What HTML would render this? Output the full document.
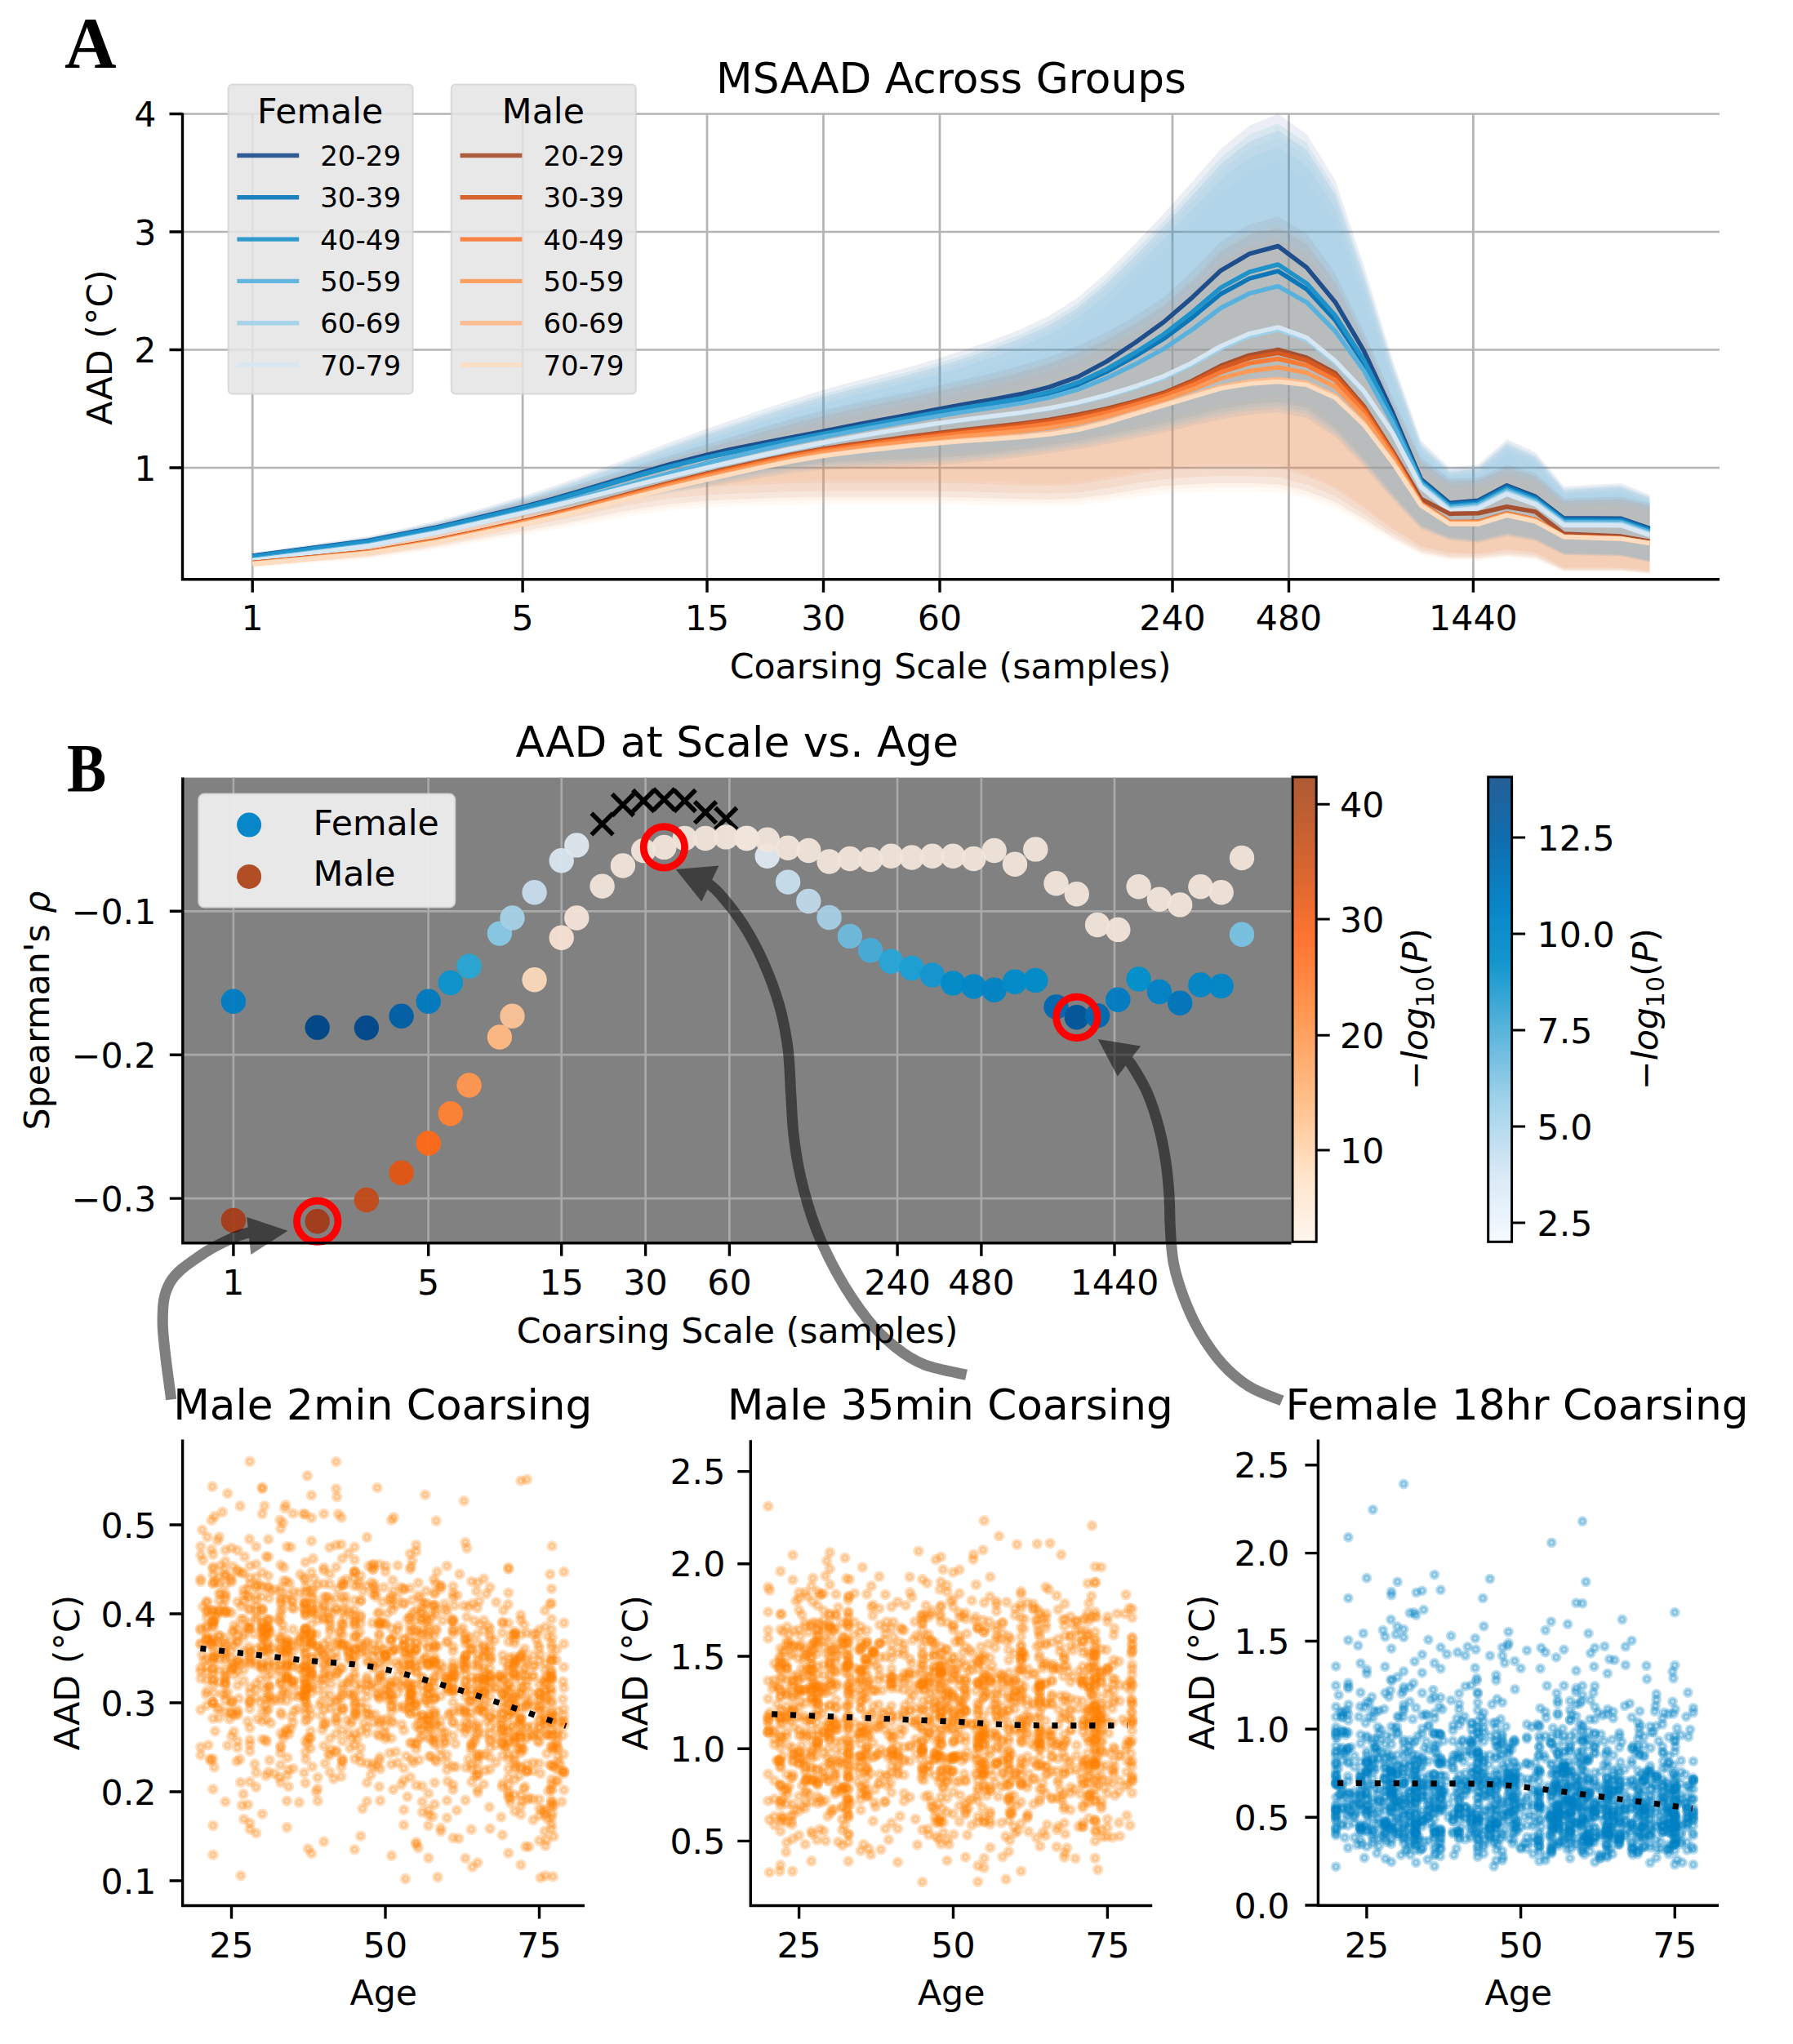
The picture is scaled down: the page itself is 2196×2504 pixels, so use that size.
<!DOCTYPE html>
<html><head><meta charset="utf-8"><title>Figure</title><style>html,body{margin:0;padding:0;background:#fff}svg{display:block}#w{width:2196px;height:2504px;overflow:hidden}</style></head><body><div id="w">
<svg width="2196" height="2504" viewBox="0 0 2196 2504">
<defs>
<clipPath id="ca"><rect x="223.5" y="139.5" width="1882.5" height="570.2"/></clipPath>
<linearGradient id="go" x1="0" y1="1" x2="0" y2="0"><stop offset="0" stop-color="#fff6ee"/><stop offset=".15" stop-color="#ffe3c8"/><stop offset=".3" stop-color="#ffc08a"/><stop offset=".5" stop-color="#ff9650"/><stop offset=".65" stop-color="#ff7432"/><stop offset=".8" stop-color="#d9652f"/><stop offset="1" stop-color="#ad5a34"/></linearGradient>
<linearGradient id="gb" x1="0" y1="1" x2="0" y2="0"><stop offset="0" stop-color="#f5faff"/><stop offset=".15" stop-color="#d7e8f5"/><stop offset=".3" stop-color="#a2d3eb"/><stop offset=".45" stop-color="#5cb5dc"/><stop offset=".6" stop-color="#1496cd"/><stop offset=".72" stop-color="#0a86c8"/><stop offset=".86" stop-color="#0f6eaf"/><stop offset="1" stop-color="#245f96"/></linearGradient>
<marker id="mo" markerWidth="16" markerHeight="16" refX="8" refY="8" markerUnits="userSpaceOnUse"><circle cx="8" cy="8" r="4.3" fill="#ff7f00" fill-opacity=".25" stroke="#ff7f00" stroke-opacity=".25" stroke-width="5"/></marker>
<marker id="mb" markerWidth="16" markerHeight="16" refX="8" refY="8" markerUnits="userSpaceOnUse"><circle cx="8" cy="8" r="4.1" fill="#0080c4" fill-opacity=".27" stroke="#0080c4" stroke-opacity=".27" stroke-width="4.6"/></marker>
</defs>
<rect width="2196" height="2504" fill="#fff"/>
<g font-family='"DejaVu Sans","Liberation Sans",sans-serif' font-size="42.7" fill="#000">
<path d="M309.2 139.5V709.7M640.1 139.5V709.7M866 139.5V709.7M1008.5 139.5V709.7M1151 139.5V709.7M1436 139.5V709.7M1578.5 139.5V709.7M1804.4 139.5V709.7M223.5 573H2106M223.5 428.5H2106M223.5 284H2106M223.5 139.5H2106" stroke="#b4b4b4" stroke-width="2.7" fill="none"/>
<g clip-path="url(#ca)">
<path d="M309.2 678.2L451.7 659L535.1 641.1L594.2 625.6L640.1 613.2L677.6 602.6L709.3 593.1L760.9 576.9L782.6 570L820.1 558.1L866 544.1L891.7 536.4L935.1 523.3L970.2 513.1L1005.2 503.7L1040.2 495.5L1075.2 488.1L1110.2 480.9L1145.2 473.2L1180.2 465L1215.2 456.9L1250.3 447.8L1285.3 437.1L1320.3 423.7L1355.3 407L1390.3 387.1L1425.3 363.9L1460.3 332.3L1495.3 295.4L1530.4 274.7L1565.4 265.3L1600.4 285.9L1635.4 334.4L1670.4 405.7L1705.4 486L1740.4 561L1775.4 586L1810.5 584.9L1845.5 569.3L1880.5 579.4L1915.5 610.6L1950.5 609.4L1985.5 608.5L2020.5 616.3L2020.5 702.1L1985.5 698.8L1950.5 698.7L1915.5 698.7L1880.5 683L1845.5 680L1810.5 684L1775.4 683.3L1740.4 676.5L1705.4 657.7L1670.4 635.8L1635.4 614.9L1600.4 601.6L1565.4 593.3L1530.4 592.1L1495.3 591.8L1460.3 593.2L1425.3 595.5L1390.3 600.2L1355.3 606L1320.3 610.7L1285.3 612L1250.3 611.4L1215.2 610.4L1180.2 609.4L1145.2 609.1L1110.2 609.1L1075.2 609.1L1040.2 609.1L1005.2 609.1L970.2 609.5L935.1 610.5L891.7 612.2L866 613.5L820.1 617.6L782.6 623.3L760.9 627.1L709.3 637.4L677.6 643.7L640.1 650.5L594.2 658.6L535.1 669.6L451.7 682.1L309.2 693.7Z" fill="#a65030" fill-opacity=".09"/>
<path d="M309.2 679.4L451.7 660.7L535.1 643.4L594.2 628.4L640.1 616.3L677.6 606L709.3 596.8L760.9 581.1L782.6 574.4L820.1 562.9L866 549.3L891.7 541.8L935.1 529.1L970.2 519.2L1005.2 510.2L1040.2 502.2L1075.2 495L1110.2 488L1145.2 480.5L1180.2 472.6L1215.2 464.7L1250.3 455.9L1285.3 445.5L1320.3 432.6L1355.3 416.4L1390.3 397L1425.3 374.5L1460.3 343.8L1495.3 308.1L1530.4 288L1565.4 278.9L1600.4 298.9L1635.4 345.9L1670.4 415.1L1705.4 492.9L1740.4 565.7L1775.4 589.9L1810.5 588.8L1845.5 573.8L1880.5 583.5L1915.5 613.8L1950.5 612.6L1985.5 611.8L2020.5 619.3L2020.5 701.1L1985.5 697.4L1950.5 697.4L1915.5 697.4L1880.5 680.6L1845.5 677.3L1810.5 681.6L1775.4 680.9L1740.4 673.6L1705.4 653.6L1670.4 630.1L1635.4 607.8L1600.4 593.4L1565.4 584.7L1530.4 583.3L1495.3 583L1460.3 584.5L1425.3 587L1390.3 592L1355.3 598.2L1320.3 603.2L1285.3 604.6L1250.3 603.9L1215.2 602.9L1180.2 601.9L1145.2 601.5L1110.2 601.5L1075.2 601.5L1040.2 601.5L1005.2 601.5L970.2 602L935.1 603L891.7 604.9L866 606.2L820.1 610.6L782.6 616.7L760.9 620.8L709.3 631.8L677.6 638.5L640.1 645.8L594.2 654.5L535.1 666.3L451.7 679.6L309.2 692Z" fill="#d6591f" fill-opacity=".09"/>
<path d="M309.2 677L451.7 656.8L535.1 638L594.2 621.4L640.1 607.7L677.6 595.5L709.3 584.3L760.9 564.7L782.6 556.4L820.1 542L866 525.3L891.7 516.3L935.1 501.3L970.2 489.7L1005.2 478.6L1040.2 468.7L1075.2 459.7L1110.2 450.6L1145.2 440.5L1180.2 429.1L1215.2 417.1L1250.3 403.3L1285.3 386.7L1320.3 364.5L1355.3 334.1L1390.3 298.8L1425.3 261.8L1460.3 222.4L1495.3 182.3L1530.4 153.7L1565.4 139.6L1600.4 164.4L1635.4 221L1670.4 325L1705.4 439.6L1740.4 539.2L1775.4 573L1810.5 568.9L1845.5 538L1880.5 553.7L1915.5 596.1L1950.5 593.7L1985.5 591.9L2020.5 606.1L2020.5 686.8L1985.5 679.4L1950.5 678.5L1915.5 677.8L1880.5 659.7L1845.5 653.2L1810.5 661.7L1775.4 658.4L1740.4 643.8L1705.4 605.1L1670.4 562.7L1635.4 524.4L1600.4 499.6L1565.4 492.4L1530.4 495.2L1495.3 501.1L1460.3 509.9L1425.3 518.5L1390.3 526.2L1355.3 533.6L1320.3 540.2L1285.3 545.6L1250.3 550.4L1215.2 554.7L1180.2 558.3L1145.2 560.8L1110.2 562.4L1075.2 563.6L1040.2 564.9L1005.2 566.9L970.2 570.9L935.1 576.7L891.7 585L866 589.6L820.1 597.3L782.6 603.6L760.9 607.3L709.3 616.2L677.6 621.9L640.1 628.7L594.2 637.7L535.1 650.1L451.7 665.4L309.2 683Z" fill="#1f4e8c" fill-opacity=".09"/>
<path d="M309.2 680.6L451.7 662.5L535.1 645.7L594.2 631.1L640.1 619.4L677.6 609.5L709.3 600.5L760.9 585.3L782.6 578.8L820.1 567.7L866 554.5L891.7 547.2L935.1 534.9L970.2 525.4L1005.2 516.6L1040.2 508.9L1075.2 501.9L1110.2 495.1L1145.2 487.9L1180.2 480.2L1215.2 472.5L1250.3 464L1285.3 454L1320.3 441.4L1355.3 425.7L1390.3 406.9L1425.3 385.1L1460.3 355.4L1495.3 320.7L1530.4 301.3L1565.4 292.4L1600.4 311.8L1635.4 357.4L1670.4 424.4L1705.4 499.8L1740.4 570.4L1775.4 593.9L1810.5 592.8L1845.5 578.2L1880.5 587.7L1915.5 617L1950.5 615.9L1985.5 615L2020.5 622.3L2020.5 699.7L1985.5 695.8L1950.5 695.7L1915.5 695.7L1880.5 677.5L1845.5 673.9L1810.5 678.6L1775.4 677.8L1740.4 669.9L1705.4 648.2L1670.4 622.7L1635.4 598.5L1600.4 583L1565.4 573.5L1530.4 572L1495.3 571.7L1460.3 573.3L1425.3 576L1390.3 581.4L1355.3 588.1L1320.3 593.6L1285.3 595.1L1250.3 594.4L1215.2 593.2L1180.2 592.2L1145.2 591.8L1110.2 591.8L1075.2 591.8L1040.2 591.8L1005.2 591.8L970.2 592.3L935.1 593.4L891.7 595.4L866 596.8L820.1 601.6L782.6 608.2L760.9 612.7L709.3 624.5L677.6 631.8L640.1 639.7L594.2 649.2L535.1 662L451.7 676.4L309.2 689.8Z" fill="#f87a35" fill-opacity=".09"/>
<path d="M309.2 678.5L451.7 658.9L535.1 640.8L594.2 624.8L640.1 611.5L677.6 599.8L709.3 588.9L760.9 570.1L782.6 562L820.1 548.2L866 532L891.7 523.4L935.1 508.9L970.2 497.6L1005.2 487L1040.2 477.4L1075.2 468.7L1110.2 459.9L1145.2 450.1L1180.2 439.2L1215.2 427.6L1250.3 414.3L1285.3 398.3L1320.3 376.8L1355.3 347.5L1390.3 313.4L1425.3 277.8L1460.3 239.7L1495.3 201L1530.4 173.4L1565.4 159.8L1600.4 183.7L1635.4 238.4L1670.4 338.7L1705.4 449.3L1740.4 545.5L1775.4 578.1L1810.5 574.1L1845.5 544.3L1880.5 559.4L1915.5 600.4L1950.5 598L1985.5 596.3L2020.5 610L2020.5 688.5L1985.5 681.6L1950.5 680.7L1915.5 680L1880.5 663L1845.5 656.9L1810.5 664.9L1775.4 661.8L1740.4 647.9L1705.4 611.4L1670.4 571.5L1635.4 535.3L1600.4 512L1565.4 505.1L1530.4 507.8L1495.3 513.4L1460.3 521.6L1425.3 529.7L1390.3 537L1355.3 544L1320.3 550.2L1285.3 555.3L1250.3 559.9L1215.2 563.9L1180.2 567.3L1145.2 569.7L1110.2 571.2L1075.2 572.3L1040.2 573.5L1005.2 575.4L970.2 579.2L935.1 584.7L891.7 592.5L866 596.8L820.1 604.1L782.6 610L760.9 613.5L709.3 622L677.6 627.3L640.1 633.7L594.2 642.2L535.1 653.9L451.7 668.4L309.2 685Z" fill="#0b77b8" fill-opacity=".09"/>
<path d="M309.2 679L451.7 660.1L535.1 642.7L594.2 627.5L640.1 615.3L677.6 604.9L709.3 595.6L760.9 579.7L782.6 572.9L820.1 561.3L866 547.6L891.7 540L935.1 527.2L970.2 517.2L1005.2 508L1040.2 500L1075.2 492.7L1110.2 485.6L1145.2 478.1L1180.2 470.1L1215.2 462.1L1250.3 453.2L1285.3 442.7L1320.3 429.6L1355.3 413.2L1390.3 393.7L1425.3 371L1460.3 340L1495.3 303.8L1530.4 283.5L1565.4 274.3L1600.4 294.5L1635.4 342.1L1670.4 412L1705.4 490.6L1740.4 564.2L1775.4 588.6L1810.5 587.5L1845.5 572.3L1880.5 582.2L1915.5 612.7L1950.5 611.5L1985.5 610.7L2020.5 618.3L2020.5 699.2L1985.5 695.2L1950.5 695.1L1915.5 695.1L1880.5 676.5L1845.5 672.8L1810.5 677.6L1775.4 676.8L1740.4 668.7L1705.4 646.4L1670.4 620.3L1635.4 595.5L1600.4 579.5L1565.4 569.8L1530.4 568.3L1495.3 567.9L1460.3 569.6L1425.3 572.3L1390.3 577.9L1355.3 584.8L1320.3 590.4L1285.3 591.9L1250.3 591.2L1215.2 590L1180.2 588.9L1145.2 588.5L1110.2 588.5L1075.2 588.5L1040.2 588.5L1005.2 588.5L970.2 589L935.1 590.2L891.7 592.2L866 593.7L820.1 598.6L782.6 605.3L760.9 610L709.3 622.1L677.6 629.6L640.1 637.7L594.2 647.4L535.1 660.5L451.7 675.4L309.2 689.1Z" fill="#fd9a57" fill-opacity=".09"/>
<path d="M309.2 677.8L451.7 658L535.1 639.6L594.2 623.3L640.1 609.9L677.6 598L709.3 586.9L760.9 567.8L782.6 559.6L820.1 545.5L866 529.2L891.7 520.4L935.1 505.7L970.2 494.2L1005.2 483.4L1040.2 473.7L1075.2 464.8L1110.2 455.9L1145.2 446L1180.2 434.9L1215.2 423.1L1250.3 409.6L1285.3 393.3L1320.3 371.5L1355.3 341.8L1390.3 307.2L1425.3 271L1460.3 232.3L1495.3 193L1530.4 165L1565.4 151.2L1600.4 175.4L1635.4 230.9L1670.4 332.8L1705.4 445.2L1740.4 542.8L1775.4 575.9L1810.5 571.8L1845.5 541.6L1880.5 557L1915.5 598.5L1950.5 596.2L1985.5 594.5L2020.5 608.3L2020.5 687.4L1985.5 680.1L1950.5 679.2L1915.5 678.5L1880.5 660.8L1845.5 654.4L1810.5 662.8L1775.4 659.5L1740.4 645.1L1705.4 607.2L1670.4 565.7L1635.4 528L1600.4 503.7L1565.4 496.6L1530.4 499.4L1495.3 505.2L1460.3 513.8L1425.3 522.2L1390.3 529.8L1355.3 537L1320.3 543.5L1285.3 548.8L1250.3 553.6L1215.2 557.8L1180.2 561.3L1145.2 563.8L1110.2 565.4L1075.2 566.5L1040.2 567.8L1005.2 569.7L970.2 573.6L935.1 579.4L891.7 587.5L866 592L820.1 599.5L782.6 605.7L760.9 609.4L709.3 618.2L677.6 623.7L640.1 630.3L594.2 639.2L535.1 651.4L451.7 666.4L309.2 683.7Z" fill="#1f93c9" fill-opacity=".09"/>
<path d="M309.2 681.7L451.7 664.2L535.1 648L594.2 633.9L640.1 622.6L677.6 612.9L709.3 604.3L760.9 589.5L782.6 583.3L820.1 572.5L866 559.7L891.7 552.7L935.1 540.8L970.2 531.5L1005.2 523L1040.2 515.5L1075.2 508.8L1110.2 502.2L1145.2 495.2L1180.2 487.8L1215.2 480.3L1250.3 472.1L1285.3 462.4L1320.3 450.2L1355.3 435L1390.3 416.8L1425.3 395.7L1460.3 367L1495.3 333.4L1530.4 314.5L1565.4 306L1600.4 324.8L1635.4 368.9L1670.4 433.8L1705.4 506.8L1740.4 575.1L1775.4 597.8L1810.5 596.8L1845.5 582.7L1880.5 591.8L1915.5 620.2L1950.5 619.1L1985.5 618.3L2020.5 625.4L2020.5 702.8L1985.5 699.5L1950.5 699.5L1915.5 699.5L1880.5 684.4L1845.5 681.5L1810.5 685.3L1775.4 684.7L1740.4 678.1L1705.4 660.1L1670.4 639.1L1635.4 619L1600.4 606.2L1565.4 598.3L1530.4 597.1L1495.3 596.9L1460.3 598.2L1425.3 600.4L1390.3 604.9L1355.3 610.4L1320.3 614.9L1285.3 616.2L1250.3 615.6L1215.2 614.6L1180.2 613.8L1145.2 613.5L1110.2 613.5L1075.2 613.5L1040.2 613.5L1005.2 613.5L970.2 613.8L935.1 614.8L891.7 616.5L866 617.6L820.1 621.6L782.6 627L760.9 630.8L709.3 640.6L677.6 646.6L640.1 653.1L594.2 661L535.1 671.5L451.7 683.5L309.2 694.6Z" fill="#fdb98a" fill-opacity=".09"/>
<path d="M309.2 679.9L451.7 661.1L535.1 643.6L594.2 628.1L640.1 615.4L677.6 604.1L709.3 593.6L760.9 575.4L782.6 567.6L820.1 554.3L866 538.8L891.7 530.4L935.1 516.5L970.2 505.6L1005.2 495.4L1040.2 486.1L1075.2 477.7L1110.2 469.3L1145.2 459.8L1180.2 449.3L1215.2 438.1L1250.3 425.3L1285.3 409.9L1320.3 389.2L1355.3 361L1390.3 328.1L1425.3 293.7L1460.3 257.1L1495.3 219.8L1530.4 193.2L1565.4 180.1L1600.4 203.1L1635.4 255.7L1670.4 352.4L1705.4 459.1L1740.4 551.7L1775.4 583.1L1810.5 579.3L1845.5 550.6L1880.5 565.2L1915.5 604.6L1950.5 602.4L1985.5 600.7L2020.5 613.9L2020.5 687.9L1985.5 680.9L1950.5 680L1915.5 679.3L1880.5 661.9L1845.5 655.7L1810.5 663.8L1775.4 660.7L1740.4 646.5L1705.4 609.3L1670.4 568.6L1635.4 531.7L1600.4 507.8L1565.4 500.9L1530.4 503.6L1495.3 509.3L1460.3 517.7L1425.3 526L1390.3 533.4L1355.3 540.5L1320.3 546.8L1285.3 552.1L1250.3 556.7L1215.2 560.9L1180.2 564.3L1145.2 566.8L1110.2 568.3L1075.2 569.4L1040.2 570.7L1005.2 572.5L970.2 576.4L935.1 582.1L891.7 590L866 594.4L820.1 601.8L782.6 607.9L760.9 611.4L709.3 620.1L677.6 625.5L640.1 632L594.2 640.7L535.1 652.6L451.7 667.4L309.2 684.3Z" fill="#58b1dc" fill-opacity=".09"/>
<path d="M309.2 680.2L451.7 661.9L535.1 644.9L594.2 630.2L640.1 618.4L677.6 608.3L709.3 599.3L760.9 583.9L782.6 577.4L820.1 566.1L866 552.8L891.7 545.4L935.1 533L970.2 523.3L1005.2 514.4L1040.2 506.6L1075.2 499.6L1110.2 492.7L1145.2 485.4L1180.2 477.7L1215.2 469.9L1250.3 461.3L1285.3 451.1L1320.3 438.4L1355.3 422.6L1390.3 403.6L1425.3 381.6L1460.3 351.5L1495.3 316.5L1530.4 296.8L1565.4 287.9L1600.4 307.5L1635.4 353.6L1670.4 421.3L1705.4 497.5L1740.4 568.9L1775.4 592.6L1810.5 591.5L1845.5 576.7L1880.5 586.3L1915.5 615.9L1950.5 614.8L1985.5 613.9L2020.5 621.3L2020.5 703.4L1985.5 700.3L1950.5 700.2L1915.5 700.2L1880.5 685.8L1845.5 683L1810.5 686.7L1775.4 686L1740.4 679.8L1705.4 662.5L1670.4 642.3L1635.4 623.2L1600.4 610.8L1565.4 603.3L1530.4 602.1L1495.3 601.9L1460.3 603.1L1425.3 605.3L1390.3 609.6L1355.3 614.9L1320.3 619.2L1285.3 620.4L1250.3 619.9L1215.2 618.9L1180.2 618.1L1145.2 617.8L1110.2 617.8L1075.2 617.8L1040.2 617.8L1005.2 617.8L970.2 618.2L935.1 619.1L891.7 620.7L866 621.8L820.1 625.6L782.6 630.8L760.9 634.4L709.3 643.8L677.6 649.6L640.1 655.8L594.2 663.3L535.1 673.4L451.7 684.9L309.2 695.6Z" fill="#fdc9a0" fill-opacity=".09"/>
<path d="M309.2 679.1L451.7 659.8L535.1 642L594.2 626.2L640.1 613.2L677.6 601.6L709.3 590.9L760.9 572.4L782.6 564.4L820.1 550.8L866 534.9L891.7 526.4L935.1 512.2L970.2 501.1L1005.2 490.6L1040.2 481.1L1075.2 472.6L1110.2 463.9L1145.2 454.3L1180.2 443.5L1215.2 432.1L1250.3 419L1285.3 403.2L1320.3 382.1L1355.3 353.3L1390.3 319.7L1425.3 284.6L1460.3 247.1L1495.3 209.1L1530.4 181.9L1565.4 168.5L1600.4 192L1635.4 245.8L1670.4 344.6L1705.4 453.5L1740.4 548.1L1775.4 580.2L1810.5 576.3L1845.5 547L1880.5 561.9L1915.5 602.2L1950.5 599.9L1985.5 598.2L2020.5 611.6L2020.5 685.9L1985.5 678.3L1950.5 677.4L1915.5 676.6L1880.5 658L1845.5 651.4L1810.5 660.2L1775.4 656.8L1740.4 641.7L1705.4 601.9L1670.4 558.4L1635.4 518.9L1600.4 493.5L1565.4 486L1530.4 488.9L1495.3 495L1460.3 504L1425.3 512.8L1390.3 520.8L1355.3 528.4L1320.3 535.1L1285.3 540.7L1250.3 545.7L1215.2 550.1L1180.2 553.8L1145.2 556.4L1110.2 558.1L1075.2 559.3L1040.2 560.6L1005.2 562.6L970.2 566.7L935.1 572.8L891.7 581.3L866 586L820.1 593.9L782.6 600.4L760.9 604.2L709.3 613.4L677.6 619.2L640.1 626.1L594.2 635.4L535.1 648.2L451.7 663.9L309.2 682.1Z" fill="#7cc0e3" fill-opacity=".09"/>
<path d="M309.2 681.1L451.7 662.9L535.1 645.9L594.2 631L640.1 618.7L677.6 607.7L709.3 597.6L760.9 580L782.6 572.5L820.1 559.6L866 544.5L891.7 536.5L935.1 523L970.2 512.4L1005.2 502.5L1040.2 493.6L1075.2 485.5L1110.2 477.3L1145.2 468.2L1180.2 458L1215.2 447.2L1250.3 434.7L1285.3 419.8L1320.3 399.8L1355.3 372.5L1390.3 340.7L1425.3 307.4L1460.3 271.9L1495.3 235.8L1530.4 210.1L1565.4 197.4L1600.4 219.7L1635.4 270.6L1670.4 364.2L1705.4 467.4L1740.4 557.1L1775.4 587.4L1810.5 583.7L1845.5 556L1880.5 570.1L1915.5 608.2L1950.5 606.1L1985.5 604.5L2020.5 617.2L2020.5 687.7L1985.5 680.5L1950.5 679.6L1915.5 678.9L1880.5 661.3L1845.5 655L1810.5 663.3L1775.4 660.1L1740.4 645.8L1705.4 608.3L1670.4 567.1L1635.4 529.9L1600.4 505.8L1565.4 498.7L1530.4 501.5L1495.3 507.2L1460.3 515.7L1425.3 524.1L1390.3 531.6L1355.3 538.8L1320.3 545.2L1285.3 550.5L1250.3 555.1L1215.2 559.3L1180.2 562.8L1145.2 565.3L1110.2 566.8L1075.2 568L1040.2 569.2L1005.2 571.1L970.2 575L935.1 580.7L891.7 588.8L866 593.2L820.1 600.7L782.6 606.8L760.9 610.4L709.3 619.1L677.6 624.6L640.1 631.2L594.2 640L535.1 652L451.7 666.9L309.2 684Z" fill="#9fcfe8" fill-opacity=".09"/>
<path d="M309.2 680.9L451.7 662.2L535.1 646L594.2 632.3L640.1 621.1L677.6 611.2L709.3 602L760.9 586.4L782.6 579.8L820.1 568.9L866 557.1L891.7 551.3L935.1 542.4L970.2 535.6L1005.2 528.9L1040.2 522L1075.2 515.3L1110.2 508.7L1145.2 501.9L1180.2 495.4L1215.2 489.4L1250.3 482.8L1285.3 474.2L1320.3 461.6L1355.3 442.9L1390.3 419.8L1425.3 394.5L1460.3 364.3L1495.3 331.3L1530.4 310.9L1565.4 301.5L1600.4 327.7L1635.4 370.2L1670.4 429.7L1705.4 504.9L1740.4 587L1775.4 616.3L1810.5 613.2L1845.5 594.8L1880.5 608.4L1915.5 635.1L1950.5 635.1L1985.5 635.3L2020.5 647.3" stroke="#1f4e8c" stroke-width="5.5" fill="none" stroke-linejoin="round"/>
<path d="M309.2 681.5L451.7 662.8L535.1 646.7L594.2 633L640.1 621.9L677.6 612.1L709.3 603L760.9 587.7L782.6 581.4L820.1 571.1L866 560.2L891.7 554.8L935.1 546.4L970.2 539.8L1005.2 533.2L1040.2 526.5L1075.2 520L1110.2 513.6L1145.2 507.2L1180.2 501.2L1215.2 495.7L1250.3 489.8L1285.3 482.2L1320.3 471.3L1355.3 455.6L1390.3 436.4L1425.3 415L1460.3 389L1495.3 360L1530.4 341.2L1565.4 332.2L1600.4 354.3L1635.4 392.5L1670.4 444.9L1705.4 512.4L1740.4 588.9L1775.4 618L1810.5 614.8L1845.5 596.6L1880.5 610L1915.5 636.6L1950.5 636.6L1985.5 636.7L2020.5 648.7" stroke="#0b77b8" stroke-width="5.5" fill="none" stroke-linejoin="round"/>
<path d="M309.2 682.1L451.7 663.5L535.1 647.3L594.2 633.7L640.1 622.6L677.6 612.9L709.3 604L760.9 588.9L782.6 582.5L820.1 572L866 560.4L891.7 554.7L935.1 545.7L970.2 538.8L1005.2 532L1040.2 525.3L1075.2 518.7L1110.2 512.3L1145.2 505.8L1180.2 499.6L1215.2 494L1250.3 487.9L1285.3 480.1L1320.3 468.7L1355.3 452.2L1390.3 432L1425.3 409.5L1460.3 382.4L1495.3 352.3L1530.4 333.1L1565.4 324L1600.4 347.2L1635.4 386.5L1670.4 440.9L1705.4 511L1740.4 590.5L1775.4 619.9L1810.5 616.8L1845.5 598.8L1880.5 611.9L1915.5 638.3L1950.5 638.3L1985.5 638.5L2020.5 650.5" stroke="#1f93c9" stroke-width="5.5" fill="none" stroke-linejoin="round"/>
<path d="M309.2 685.6L451.7 667.4L535.1 651.4L594.2 637.9L640.1 627.1L677.6 618.1L709.3 610L760.9 596.2L782.6 590.2L820.1 579.8L866 567.5L891.7 560.9L935.1 550.6L970.2 542.9L1005.2 535.8L1040.2 529.1L1075.2 522.7L1110.2 516.5L1145.2 510.4L1180.2 504.6L1215.2 499.5L1250.3 493.9L1285.3 487L1320.3 477.1L1355.3 463.2L1390.3 446.3L1425.3 427.3L1460.3 403.8L1495.3 377.2L1530.4 359.3L1565.4 350.7L1600.4 370.3L1635.4 405.8L1670.4 454L1705.4 517.6L1740.4 592.3L1775.4 621.6L1810.5 618.4L1845.5 600.6L1880.5 613.6L1915.5 639.8L1950.5 639.8L1985.5 639.9L2020.5 651.9" stroke="#58b1dc" stroke-width="5.5" fill="none" stroke-linejoin="round"/>
<path d="M309.2 686.7L451.7 668.7L535.1 652.7L594.2 639.2L640.1 628.6L677.6 619.8L709.3 611.9L760.9 598.8L782.6 593.3L820.1 583.9L866 573L891.7 567.2L935.1 557.6L970.2 550.2L1005.2 543.3L1040.2 536.8L1075.2 530.8L1110.2 525L1145.2 519.5L1180.2 514.7L1215.2 510.4L1250.3 506.1L1285.3 500.8L1320.3 493.9L1355.3 485.3L1390.3 474.9L1425.3 462.9L1460.3 446.6L1495.3 426.8L1530.4 411.7L1565.4 404L1600.4 416.4L1635.4 444.5L1670.4 480.4L1705.4 530.5L1740.4 595.1L1775.4 623.8L1810.5 620.7L1845.5 603.1L1880.5 615.8L1915.5 641.8L1950.5 641.8L1985.5 641.9L2020.5 653.9" stroke="#a0d0e8" stroke-width="5.5" fill="none" stroke-linejoin="round"/>
<path d="M309.2 686.7L451.7 668.7L535.1 652.7L594.2 639.2L640.1 628.6L677.6 619.8L709.3 611.9L760.9 598.8L782.6 593.2L820.1 583.8L866 572.8L891.7 566.9L935.1 557.2L970.2 549.8L1005.2 542.8L1040.2 536.4L1075.2 530.3L1110.2 524.5L1145.2 519L1180.2 514.1L1215.2 509.8L1250.3 505.4L1285.3 500L1320.3 492.9L1355.3 484L1390.3 473.3L1425.3 460.8L1460.3 444.2L1495.3 424L1530.4 408.7L1565.4 400.9L1600.4 413.7L1635.4 442.2L1670.4 478.8L1705.4 530.3L1740.4 596.8L1775.4 625.8L1810.5 622.7L1845.5 605.3L1880.5 617.8L1915.5 643.5L1950.5 643.5L1985.5 643.7L2020.5 655.7" stroke="#d6e6f2" stroke-width="5.5" fill="none" stroke-linejoin="round"/>
<path d="M309.2 689.6L451.7 675.9L535.1 661.8L594.2 649.1L640.1 638.7L677.6 629.8L709.3 621.6L760.9 607.6L782.6 601.6L820.1 591.6L866 580.2L891.7 574.2L935.1 564.3L970.2 556.9L1005.2 550.4L1040.2 544.9L1075.2 540.1L1110.2 535.6L1145.2 531.1L1180.2 526.8L1215.2 523L1250.3 518.9L1285.3 514.1L1320.3 508L1355.3 500.6L1390.3 491.7L1425.3 481.2L1460.3 466.5L1495.3 448.2L1530.4 435.1L1565.4 428.5L1600.4 438.2L1635.4 457.2L1670.4 497.7L1705.4 552.4L1740.4 611.1L1775.4 629.4L1810.5 628.8L1845.5 620.7L1880.5 626.9L1915.5 654.1L1950.5 655.6L1985.5 657.1L2020.5 663.2" stroke="#a65030" stroke-width="5.5" fill="none" stroke-linejoin="round"/>
<path d="M309.2 689.7L451.7 676.1L535.1 662L594.2 649.4L640.1 639.1L677.6 630.2L709.3 622.1L760.9 608.1L782.6 602.2L820.1 592.2L866 580.9L891.7 575L935.1 565.1L970.2 557.8L1005.2 551.3L1040.2 545.9L1075.2 541.1L1110.2 536.7L1145.2 532.3L1180.2 528.2L1215.2 524.4L1250.3 520.5L1285.3 515.9L1320.3 509.8L1355.3 502.3L1390.3 493.2L1425.3 482.7L1460.3 468.4L1495.3 451L1530.4 438.6L1565.4 432.4L1600.4 441.5L1635.4 460.2L1670.4 500L1705.4 554.4L1740.4 616.4L1775.4 639.4L1810.5 639.3L1845.5 629L1880.5 636.4L1915.5 657L1950.5 658.2L1985.5 659.4L2020.5 665" stroke="#d6591f" stroke-width="5.5" fill="none" stroke-linejoin="round"/>
<path d="M309.2 689.9L451.7 676.4L535.1 662.5L594.2 649.9L640.1 639.8L677.6 631L709.3 622.9L760.9 609.1L782.6 603.3L820.1 593.4L866 582.2L891.7 576.3L935.1 566.5L970.2 559.2L1005.2 552.8L1040.2 547.6L1075.2 542.9L1110.2 538.6L1145.2 534.5L1180.2 530.6L1215.2 527.1L1250.3 523.5L1285.3 519.1L1320.3 513.2L1355.3 505.4L1390.3 496L1425.3 485.5L1460.3 471.9L1495.3 456L1530.4 444.9L1565.4 439.5L1600.4 447.6L1635.4 465.6L1670.4 504.1L1705.4 556.8L1740.4 616.9L1775.4 639.8L1810.5 639.8L1845.5 629.5L1880.5 636.8L1915.5 657.2L1950.5 658.3L1985.5 659.5L2020.5 665.1" stroke="#f87a35" stroke-width="5.5" fill="none" stroke-linejoin="round"/>
<path d="M309.2 690.2L451.7 676.9L535.1 663.2L594.2 650.8L640.1 640.7L677.6 632.1L709.3 624.2L760.9 610.6L782.6 604.9L820.1 595.2L866 584.2L891.7 578.4L935.1 568.6L970.2 561.4L1005.2 555.2L1040.2 550.1L1075.2 545.6L1110.2 541.6L1145.2 537.8L1180.2 534.2L1215.2 531.2L1250.3 528L1285.3 524L1320.3 518.2L1355.3 510L1390.3 500.2L1425.3 489.6L1460.3 477.2L1495.3 463.4L1530.4 454.4L1565.4 450L1600.4 456.6L1635.4 473.8L1670.4 510.2L1705.4 560.3L1740.4 617.6L1775.4 640.3L1810.5 640.3L1845.5 629.9L1880.5 637.3L1915.5 657.3L1950.5 658.4L1985.5 659.6L2020.5 665.2" stroke="#fd9a57" stroke-width="5.5" fill="none" stroke-linejoin="round"/>
<path d="M309.2 690.7L451.7 677.6L535.1 664.1L594.2 651.9L640.1 642.1L677.6 633.6L709.3 625.9L760.9 612.7L782.6 607.1L820.1 597.6L866 586.9L891.7 581.1L935.1 571.5L970.2 564.3L1005.2 558.3L1040.2 553.5L1075.2 549.4L1110.2 545.7L1145.2 542.2L1180.2 539.2L1215.2 536.7L1250.3 534.1L1285.3 530.6L1320.3 525.1L1355.3 516.4L1390.3 506L1425.3 495.3L1460.3 484.4L1495.3 473.7L1530.4 467.3L1565.4 464.4L1600.4 469L1635.4 484.9L1670.4 518.6L1705.4 565.2L1740.4 618.8L1775.4 641.5L1810.5 641.6L1845.5 630.9L1880.5 638.5L1915.5 657.7L1950.5 658.8L1985.5 659.9L2020.5 665.4" stroke="#fdb98a" stroke-width="5.5" fill="none" stroke-linejoin="round"/>
<path d="M309.2 690.8L451.7 677.8L535.1 664.3L594.2 652.2L640.1 642.4L677.6 634L709.3 626.3L760.9 613.1L782.6 607.6L820.1 598.2L866 587.5L891.7 581.7L935.1 572.1L970.2 565L1005.2 559L1040.2 554.3L1075.2 550.2L1110.2 546.6L1145.2 543.2L1180.2 540.3L1215.2 537.9L1250.3 535.4L1285.3 532.1L1320.3 526.5L1355.3 517.8L1390.3 507.2L1425.3 496.6L1460.3 486L1495.3 475.9L1530.4 470.1L1565.4 467.5L1600.4 471.6L1635.4 487.3L1670.4 520.4L1705.4 566.3L1740.4 619.2L1775.4 642L1810.5 642.1L1845.5 631.3L1880.5 638.9L1915.5 657.8L1950.5 658.9L1985.5 660L2020.5 665.5" stroke="#fddcc0" stroke-width="5.5" fill="none" stroke-linejoin="round"/>
</g>
<path d="M223.5 138.5V709.7H2106M309.2 709.7v16M640.1 709.7v16M866 709.7v16M1008.5 709.7v16M1151 709.7v16M1436 709.7v16M1578.5 709.7v16M1804.4 709.7v16M223.5 573h-16M223.5 428.5h-16M223.5 284h-16M223.5 139.5h-16" stroke="#000" stroke-width="3.4" fill="none"/>
<text x="309.2" y="771.8" text-anchor="middle">1</text>
<text x="640.1" y="771.8" text-anchor="middle">5</text>
<text x="866" y="771.8" text-anchor="middle">15</text>
<text x="1008.5" y="771.8" text-anchor="middle">30</text>
<text x="1151" y="771.8" text-anchor="middle">60</text>
<text x="1436" y="771.8" text-anchor="middle">240</text>
<text x="1578.5" y="771.8" text-anchor="middle">480</text>
<text x="1804.4" y="771.8" text-anchor="middle">1440</text>
<text x="191.3" y="588.6" text-anchor="end">1</text>
<text x="191.3" y="444.1" text-anchor="end">2</text>
<text x="191.3" y="299.6" text-anchor="end">3</text>
<text x="191.3" y="155.1" text-anchor="end">4</text>
<text x="1164" y="830.6" text-anchor="middle">Coarsing Scale (samples)</text>
<text transform="translate(137 425.5) rotate(-90)" text-anchor="middle">AAD (°C)</text>
<text x="1165" y="113.6" text-anchor="middle" font-size="51.7">MSAAD Across Groups</text>
<rect x="279.6" y="103.5" width="226" height="379" rx="5" fill="#e4e4e4" fill-opacity=".86" stroke="#d2d2d2" stroke-opacity=".8" stroke-width="2"/>
<text x="392.2" y="151.3" text-anchor="middle">Female</text>
<path d="M290.4 190.5h75.8" stroke="#1f4e8c" stroke-width="5.4" stroke-opacity=".92"/>
<text x="392.2" y="203.1" font-size="34.1">20-29</text>
<path d="M290.4 241.8h75.8" stroke="#0b77b8" stroke-width="5.4" stroke-opacity=".92"/>
<text x="392.2" y="254.4" font-size="34.1">30-39</text>
<path d="M290.4 293.1h75.8" stroke="#1f93c9" stroke-width="5.4" stroke-opacity=".92"/>
<text x="392.2" y="305.7" font-size="34.1">40-49</text>
<path d="M290.4 344.4h75.8" stroke="#58b1dc" stroke-width="5.4" stroke-opacity=".92"/>
<text x="392.2" y="357" font-size="34.1">50-59</text>
<path d="M290.4 395.7h75.8" stroke="#a0d0e8" stroke-width="5.4" stroke-opacity=".92"/>
<text x="392.2" y="408.3" font-size="34.1">60-69</text>
<path d="M290.4 447h75.8" stroke="#d6e6f2" stroke-width="5.4" stroke-opacity=".92"/>
<text x="392.2" y="459.6" font-size="34.1">70-79</text>
<rect x="552.8" y="103.5" width="226" height="379" rx="5" fill="#e4e4e4" fill-opacity=".86" stroke="#d2d2d2" stroke-opacity=".8" stroke-width="2"/>
<text x="665.4" y="151.3" text-anchor="middle">Male</text>
<path d="M563.6 190.5h75.8" stroke="#a65030" stroke-width="5.4" stroke-opacity=".92"/>
<text x="665.4" y="203.1" font-size="34.1">20-29</text>
<path d="M563.6 241.8h75.8" stroke="#d6591f" stroke-width="5.4" stroke-opacity=".92"/>
<text x="665.4" y="254.4" font-size="34.1">30-39</text>
<path d="M563.6 293.1h75.8" stroke="#f87a35" stroke-width="5.4" stroke-opacity=".92"/>
<text x="665.4" y="305.7" font-size="34.1">40-49</text>
<path d="M563.6 344.4h75.8" stroke="#fd9a57" stroke-width="5.4" stroke-opacity=".92"/>
<text x="665.4" y="357" font-size="34.1">50-59</text>
<path d="M563.6 395.7h75.8" stroke="#fdb98a" stroke-width="5.4" stroke-opacity=".92"/>
<text x="665.4" y="408.3" font-size="34.1">60-69</text>
<path d="M563.6 447h75.8" stroke="#fddcc0" stroke-width="5.4" stroke-opacity=".92"/>
<text x="665.4" y="459.6" font-size="34.1">70-79</text>
<text x="79" y="81.8" font-family='"Liberation Serif",serif' font-weight="bold" font-size="88">A</text>
<text transform="translate(82 969.6) scale(.86 1)" font-family='"Liberation Serif",serif' font-weight="bold" font-size="84">B</text>
<rect x="223.8" y="952.6" width="1357.7" height="570.2" fill="#818181"/>
<path d="M285.9 952.6V1522.8M524.7 952.6V1522.8M687.7 952.6V1522.8M790.6 952.6V1522.8M893.4 952.6V1522.8M1099.1 952.6V1522.8M1201.9 952.6V1522.8M1365 952.6V1522.8M223.8 1116.3H1581.5M223.8 1292.2H1581.5M223.8 1468.1H1581.5" stroke="#a9a9a9" stroke-width="2.7" fill="none"/>
<path d="M724.4 996.2l26.4 26.4M724.4 1022.6l26.4 -26.4" stroke="#000" stroke-width="5.5" fill="none"/>
<path d="M749.7 972.8l26.4 26.4M749.7 999.2l26.4 -26.4" stroke="#000" stroke-width="5.5" fill="none"/>
<path d="M775 967.8l26.4 26.4M775 994.2l26.4 -26.4" stroke="#000" stroke-width="5.5" fill="none"/>
<path d="M800.2 966.1l26.4 26.4M800.2 992.5l26.4 -26.4" stroke="#000" stroke-width="5.5" fill="none"/>
<path d="M825.5 967.8l26.4 26.4M825.5 994.2l26.4 -26.4" stroke="#000" stroke-width="5.5" fill="none"/>
<path d="M850.8 982l26.4 26.4M850.8 1008.4l26.4 -26.4" stroke="#000" stroke-width="5.5" fill="none"/>
<path d="M876 989.5l26.4 26.4M876 1015.9l26.4 -26.4" stroke="#000" stroke-width="5.5" fill="none"/>
<circle cx="285.9" cy="1226.8" r="15.2" fill="#007dc3" fill-opacity=".96"/>
<circle cx="388.7" cy="1258.8" r="15.2" fill="#004687" fill-opacity=".96"/>
<circle cx="448.9" cy="1259.2" r="15.2" fill="#00488a" fill-opacity=".96"/>
<circle cx="491.6" cy="1244.7" r="15.2" fill="#005fa5" fill-opacity=".96"/>
<circle cx="524.7" cy="1226.8" r="15.2" fill="#007ac0" fill-opacity=".96"/>
<circle cx="551.8" cy="1204" r="15.2" fill="#0a94cd" fill-opacity=".96"/>
<circle cx="574.6" cy="1183.8" r="15.2" fill="#28a5d4" fill-opacity=".96"/>
<circle cx="611.9" cy="1143.6" r="15.2" fill="#87c8e4" fill-opacity=".96"/>
<circle cx="627.5" cy="1124.5" r="15.2" fill="#a5d0e6" fill-opacity=".96"/>
<circle cx="654.6" cy="1093.2" r="15.2" fill="#c8dceb" fill-opacity=".96"/>
<circle cx="687.7" cy="1054.2" r="15.2" fill="#d7e4ee" fill-opacity=".96"/>
<circle cx="706.3" cy="1035.4" r="15.2" fill="#dee6ee" fill-opacity=".96"/>
<circle cx="914.5" cy="1027" r="15.2" fill="#e6ecf2" fill-opacity=".96"/>
<circle cx="939.8" cy="1048.8" r="15.2" fill="#dfe8f0" fill-opacity=".96"/>
<circle cx="965.1" cy="1080.6" r="15.2" fill="#c8deec" fill-opacity=".96"/>
<circle cx="990.3" cy="1104" r="15.2" fill="#bed7e8" fill-opacity=".96"/>
<circle cx="1015.6" cy="1124" r="15.2" fill="#a5cde4" fill-opacity=".96"/>
<circle cx="1040.9" cy="1146.9" r="15.2" fill="#6eb9dc" fill-opacity=".96"/>
<circle cx="1066.1" cy="1164.3" r="15.2" fill="#46acd7" fill-opacity=".96"/>
<circle cx="1091.4" cy="1177.7" r="15.2" fill="#28a5d7" fill-opacity=".96"/>
<circle cx="1116.7" cy="1186" r="15.2" fill="#19a0d4" fill-opacity=".96"/>
<circle cx="1141.9" cy="1194.4" r="15.2" fill="#1496d0" fill-opacity=".96"/>
<circle cx="1167.2" cy="1204.4" r="15.2" fill="#008cca" fill-opacity=".96"/>
<circle cx="1192.5" cy="1208.5" r="15.2" fill="#0087c8" fill-opacity=".96"/>
<circle cx="1217.7" cy="1212.8" r="15.2" fill="#0084c6" fill-opacity=".96"/>
<circle cx="1243" cy="1202.8" r="15.2" fill="#008ccb" fill-opacity=".96"/>
<circle cx="1268.3" cy="1201" r="15.2" fill="#008ccb" fill-opacity=".96"/>
<circle cx="1293.5" cy="1233.5" r="15.2" fill="#0069af" fill-opacity=".96"/>
<circle cx="1318.8" cy="1246.3" r="15.2" fill="#00559b" fill-opacity=".96"/>
<circle cx="1344.1" cy="1244.3" r="15.2" fill="#0069af" fill-opacity=".96"/>
<circle cx="1369.3" cy="1224.8" r="15.2" fill="#007dc3" fill-opacity=".96"/>
<circle cx="1394.6" cy="1199.4" r="15.2" fill="#0091cd" fill-opacity=".96"/>
<circle cx="1419.9" cy="1215" r="15.2" fill="#0082c6" fill-opacity=".96"/>
<circle cx="1445.2" cy="1228.7" r="15.2" fill="#0076bc" fill-opacity=".96"/>
<circle cx="1470.4" cy="1206.5" r="15.2" fill="#0087c8" fill-opacity=".96"/>
<circle cx="1495.7" cy="1208" r="15.2" fill="#0087c8" fill-opacity=".96"/>
<circle cx="1521" cy="1144.8" r="15.2" fill="#78c3e1" fill-opacity=".96"/>
<circle cx="285.9" cy="1495" r="15.2" fill="#a63c1c" fill-opacity=".96"/>
<circle cx="388.7" cy="1496.2" r="15.2" fill="#a33a1a" fill-opacity=".96"/>
<circle cx="448.9" cy="1470" r="15.2" fill="#c34b19" fill-opacity=".96"/>
<circle cx="491.6" cy="1436.8" r="15.2" fill="#e15514" fill-opacity=".96"/>
<circle cx="524.7" cy="1400.5" r="15.2" fill="#ff6919" fill-opacity=".96"/>
<circle cx="551.8" cy="1364.2" r="15.2" fill="#ff8232" fill-opacity=".96"/>
<circle cx="574.6" cy="1329.5" r="15.2" fill="#ff9650" fill-opacity=".96"/>
<circle cx="611.9" cy="1270.5" r="15.2" fill="#ffb982" fill-opacity=".96"/>
<circle cx="627.5" cy="1244.7" r="15.2" fill="#fac396" fill-opacity=".96"/>
<circle cx="654.6" cy="1200.2" r="15.2" fill="#fad7b9" fill-opacity=".96"/>
<circle cx="687.7" cy="1148.7" r="15.2" fill="#f5e1d2" fill-opacity=".96"/>
<circle cx="706.3" cy="1124.5" r="15.2" fill="#f3e2d6" fill-opacity=".96"/>
<circle cx="737.6" cy="1085.6" r="15.2" fill="#f0e4da" fill-opacity=".96"/>
<circle cx="762.9" cy="1060.5" r="15.2" fill="#f0e4da" fill-opacity=".96"/>
<circle cx="788.2" cy="1042.1" r="15.2" fill="#f0e4da" fill-opacity=".96"/>
<circle cx="813.4" cy="1037.9" r="15.2" fill="#f0e4da" fill-opacity=".96"/>
<circle cx="838.7" cy="1027" r="15.2" fill="#f0e4da" fill-opacity=".96"/>
<circle cx="864" cy="1027" r="15.2" fill="#f0e4da" fill-opacity=".96"/>
<circle cx="889.2" cy="1025.4" r="15.2" fill="#f0e4da" fill-opacity=".96"/>
<circle cx="914.5" cy="1027" r="15.2" fill="#f0e4da" fill-opacity=".96"/>
<circle cx="939.8" cy="1028.7" r="15.2" fill="#f0e4da" fill-opacity=".96"/>
<circle cx="965.1" cy="1038.8" r="15.2" fill="#f0e4da" fill-opacity=".96"/>
<circle cx="990.3" cy="1042" r="15.2" fill="#f0e4da" fill-opacity=".96"/>
<circle cx="1015.6" cy="1055.5" r="15.2" fill="#f0e4da" fill-opacity=".96"/>
<circle cx="1040.9" cy="1052" r="15.2" fill="#f0e4da" fill-opacity=".96"/>
<circle cx="1066.1" cy="1053" r="15.2" fill="#f0e4da" fill-opacity=".96"/>
<circle cx="1091.4" cy="1048.8" r="15.2" fill="#f0e4da" fill-opacity=".96"/>
<circle cx="1116.7" cy="1050.5" r="15.2" fill="#f0e4da" fill-opacity=".96"/>
<circle cx="1141.9" cy="1048.8" r="15.2" fill="#f0e4da" fill-opacity=".96"/>
<circle cx="1167.2" cy="1048.8" r="15.2" fill="#f0e4da" fill-opacity=".96"/>
<circle cx="1192.5" cy="1052" r="15.2" fill="#f0e4da" fill-opacity=".96"/>
<circle cx="1217.7" cy="1042" r="15.2" fill="#f0e4da" fill-opacity=".96"/>
<circle cx="1243" cy="1058.8" r="15.2" fill="#f0e4da" fill-opacity=".96"/>
<circle cx="1268.3" cy="1040.4" r="15.2" fill="#f0e4da" fill-opacity=".96"/>
<circle cx="1293.5" cy="1082.3" r="15.2" fill="#f0e4da" fill-opacity=".96"/>
<circle cx="1318.8" cy="1095.2" r="15.2" fill="#f0e4da" fill-opacity=".96"/>
<circle cx="1344.1" cy="1133" r="15.2" fill="#f0e4da" fill-opacity=".96"/>
<circle cx="1369.3" cy="1138.9" r="15.2" fill="#f0e4da" fill-opacity=".96"/>
<circle cx="1394.6" cy="1086.2" r="15.2" fill="#f0e4da" fill-opacity=".96"/>
<circle cx="1419.9" cy="1101.8" r="15.2" fill="#f0e4da" fill-opacity=".96"/>
<circle cx="1445.2" cy="1108.4" r="15.2" fill="#f0e4da" fill-opacity=".96"/>
<circle cx="1470.4" cy="1086.2" r="15.2" fill="#f0e4da" fill-opacity=".96"/>
<circle cx="1495.7" cy="1093.2" r="15.2" fill="#f0e4da" fill-opacity=".96"/>
<circle cx="1521" cy="1051" r="15.2" fill="#f0e4da" fill-opacity=".96"/>
<circle cx="388.7" cy="1496.2" r="25.2" fill="none" stroke="#ff0000" stroke-width="8.8"/>
<circle cx="813.4" cy="1037.9" r="25.2" fill="none" stroke="#ff0000" stroke-width="8.8"/>
<circle cx="1318.8" cy="1246.3" r="25.2" fill="none" stroke="#ff0000" stroke-width="8.8"/>
<rect x="243.2" y="972.6" width="314.1" height="139" rx="7" fill="#eeeeee" fill-opacity=".94" stroke="#d8d8d8" stroke-opacity=".8" stroke-width="2"/>
<circle cx="305.1" cy="1010.6" r="15" fill="#0082c8" fill-opacity=".97"/>
<circle cx="305.1" cy="1073.9" r="15" fill="#b0481f" fill-opacity=".97"/>
<text x="383.5" y="1023">Female</text><text x="383.5" y="1085.4">Male</text>
<path d="M223.8 952.6V1522.8H1581.5M285.9 1522.8v16M524.7 1522.8v16M687.7 1522.8v16M790.6 1522.8v16M893.4 1522.8v16M1099.1 1522.8v16M1201.9 1522.8v16M1365 1522.8v16M223.8 1116.3h-16M223.8 1292.2h-16M223.8 1468.1h-16" stroke="#000" stroke-width="3.4" fill="none"/>
<text x="285.9" y="1585.8" text-anchor="middle">1</text>
<text x="524.7" y="1585.8" text-anchor="middle">5</text>
<text x="687.7" y="1585.8" text-anchor="middle">15</text>
<text x="790.6" y="1585.8" text-anchor="middle">30</text>
<text x="893.4" y="1585.8" text-anchor="middle">60</text>
<text x="1099.1" y="1585.8" text-anchor="middle">240</text>
<text x="1201.9" y="1585.8" text-anchor="middle">480</text>
<text x="1365" y="1585.8" text-anchor="middle">1440</text>
<text x="191.3" y="1131.9" text-anchor="end">−0.1</text>
<text x="191.3" y="1307.8" text-anchor="end">−0.2</text>
<text x="191.3" y="1483.7" text-anchor="end">−0.3</text>
<text x="903" y="1645" text-anchor="middle">Coarsing Scale (samples)</text>
<text transform="translate(60 1238) rotate(-90)" text-anchor="middle">Spearman's <tspan font-style="italic">ρ</tspan></text>
<text x="902.7" y="927" text-anchor="middle" font-size="51.7">AAD at Scale vs. Age</text>
<rect x="1583" y="951.8" width="29.2" height="569.5" fill="url(#go)" stroke="#000" stroke-width="3"/>
<path d="M1612.7 985.2h16M1612.7 1126.1h16M1612.7 1268.2h16M1612.7 1409.1h16" stroke="#000" stroke-width="3"/>
<text x="1641" y="1000.8">40</text>
<text x="1641" y="1141.7">30</text>
<text x="1641" y="1283.8">20</text>
<text x="1641" y="1424.7">10</text>
<text transform="translate(1748 1236) rotate(-90)" text-anchor="middle"><tspan font-style="italic">−log</tspan><tspan font-size="29.9" dy="8">10</tspan><tspan dy="-8">(</tspan><tspan font-style="italic">P</tspan>)</text>
<rect x="1822.7" y="951.8" width="28.9" height="569.5" fill="url(#gb)" stroke="#000" stroke-width="3"/>
<path d="M1852.1 1026.1h16M1852.1 1144h16M1852.1 1261.9h16M1852.1 1379.9h16M1852.1 1498.1h16" stroke="#000" stroke-width="3"/>
<text x="1882.5" y="1041.7">12.5</text>
<text x="1882.5" y="1159.6">10.0</text>
<text x="1882.5" y="1277.5">7.5</text>
<text x="1882.5" y="1395.5">5.0</text>
<text x="1882.5" y="1513.7">2.5</text>
<text transform="translate(2030 1236) rotate(-90)" text-anchor="middle"><tspan font-style="italic">−log</tspan><tspan font-size="29.9" dy="8">10</tspan><tspan dy="-8">(</tspan><tspan font-style="italic">P</tspan>)</text>
<polyline points="509.7,2019.8 624.3,2031.1 576.2,2019.6 404.1,2085.8 449.4,2010.8 412.4,2110.8 291,2010.8 336.3,1947.2 374,2133.4 380.9,2039.6 381.5,1989.5 506.5,2076.5 675.6,2033.4 592.6,2088.5 600.2,2124 585.1,2081.3 517.2,2063.7 649.7,2073.4 554.9,2036.4 472,2130.3 472,2020.5 346.9,1998.2 306.1,2022 482.3,1858.9 600.2,2003.3 373.7,2040.8 592.6,2028.7 485.1,2060.2 310.9,2001.8 675.6,2234.5 430.2,2032.8 374.3,2031.1 630.3,2013 294.9,2297.8 578.5,1964.5 328.7,2040.6 421.2,1971.4 351.4,2054.3 621.3,2076.8 419.2,1956.5 679.2,2103.1 521.5,1981.8 554.9,2073.5 476.6,1958.8 381.5,2050 427.5,2074.5 668,2113.5 328.7,1930.5 690.4,2149.1 585.1,2196.2 403.2,2037.2 533.8,1939.6 422.5,1962.1 419.2,1941.9 479.5,1955.3 253.3,2071.6 474.7,2035.5 677.3,2298.9 374,2076.6 585.1,2032.4 440.3,2150.7 342.3,2177.4 643,2188.7 253.3,2002.9 376.8,1948.6 690.7,1925.5 367.8,1928.5 630.3,2132.9 525.4,2223.8 615.3,2074.3 529.1,1981.5 404.1,2150.5 585.1,2112.3 260.9,2050.7 449.4,2035.7 414.3,2047.3 464.5,2081.1 303.4,1946.6 351.4,2022.8 505.4,1995.2 418.1,1892.1 599.9,2131 528.1,2131.1 630.3,2051.5 577.6,1937.3 515.7,2039.5 374,1950.7 592.6,2097.3 358.9,1961.6 275.6,2063 674.7,2054 493.9,2016.1 592.1,2045.9 490.8,1944.4 527.1,1977 260.9,2058.3 325.3,2002.5 548.2,2182.1 506,1975.6 321.2,1823.8 664.9,2059.3 313.7,1983.9 479.5,2273.1 313.7,1960.2 570,2097.6 374,1978 306.1,2038.2 260.9,2085.6 328.7,2011.9 329.4,2025.1 494.6,2166.3 449.4,1883.1 675.6,2185.7 676.5,2221.6 600.2,1996 547.4,2059 627.9,2067.9 667.3,2045.3 252.3,2075.6 298.6,2228.5 404.1,2034.9 285,1997.7 516.6,1975.2 365.6,2078.6 368.9,2043.7 374,1996.3 284.8,2037.8 574.6,2083 532.6,2034 522.7,1964.2 259.1,1898 435.2,2096.9 554.9,2056.5 324,1844.7 418.2,1859 253.3,1972.9 276,1941.4 343.8,1917.2 434.5,1988.7 453.7,2065.1 639.9,2024.8 379.1,2129.7 253.3,2008 622,2043.4 268.4,1972.9 281.8,2098.1 675.7,2207.5 583.6,1949.2 396.6,2064.7 306.1,2137 419.2,2119.3 396.4,2027.3 637.9,2002.4 434.3,2032.1 276,1929.2 660.5,2079.2 524.8,2017.8 298.1,1947.7 298.6,2045.8 457.8,2014.1 283.5,2045.1 532.3,2100.4 524.8,2005.1 262.3,2074 615.5,2075.3 600.2,2133.1 654.8,2040.8 550.4,2098.6 554.9,1983.4 321.2,2016.8 260.9,2010 276,1899 532.3,2136.6 668,2297.9 396.6,1966.2 585.1,2041.7 275.6,1972.6 321.2,2005.1 374,2093 502.2,1922.4 502.2,2026.7 468.5,2059.4 436.3,2021.3 509.7,2021 675.3,2140.4 449.4,2070.7 624.9,2073 268.4,2003.8 419.2,2094.6 504.8,1960.3 524.8,2128.7 358.9,2110.6 423.6,2014.1 668,2094.2 532.3,2054.2 509.7,2084.5 275.2,2018.1 270.2,1917.8 343.5,2147.7 305.8,1972 683,2182 249.5,2034.7 402.2,1982.4 265.9,2093 534.3,1863.1 263.4,2120.8 272.5,2075.1 276.8,2015.4 374,1935.1 512.4,2263.8 615.3,2189.2 366.4,2006 374,2099.2 622.8,2103.1 585.1,2013 306.1,2073.7 616.9,2035.3 622.8,2053.9 326.1,2003.7 524.8,2037.5 326.2,2096.2 358.5,2040.2 471,2122.4 487.1,2159.5 464.5,1916.4 494.6,2016.8 343.8,1964.3 590.1,2149.3 374,2035.6 653.1,2114.6 477.2,2147.6 374,1994.3 328.7,2170.8 464.5,2057.5 411.7,2146.2 521.6,1986.2 471.9,1989.7 260.9,1992.7 622.8,2155 268.4,2060.6 626.1,2002.8 615.3,2107 660.5,2083.3 544.8,2054.6 321.2,2108.4 441.8,1930.3 441.8,1981.8 532.3,1950.8 419.2,2044 554.9,1951.8 336.3,2172.9 404.1,1999 492.3,2045.4 434.4,2098.7 302,1993.4 675.6,2027.6 554.9,2051.9 622.4,1965.5 402,1974.4 668,2037.8 615.3,1987 683.7,2158.2 328.7,1994.5 464.5,1975 417.9,2164.8 521.9,1949.1 359.9,1949.7 291,2011.7 464,2027 532.3,2080.5 419.2,2063.6 683.1,2142.5 426.8,1972.9 377.4,2067.4 614.4,2111.7 454.3,2100.9 374,2069.8 372.6,2049.1 668,2261.1 675.6,1964 532.3,2081.6 374,2018.4 570,2044.2 343.7,2162.1 381.5,1859.4 493,2035.1 426.2,2022.1 398.2,2160.3 675.6,2058.3 321.2,1992.9 526.8,2088.9 283.4,2044.2 340.9,2046.3 690.7,2169.7 568,1967 639.7,2066.8 271.8,2025.3 554.9,2192.5 441.8,2018.4 434.3,2041.4 570,2042.9 381.5,2053 482.2,2020.9 366.4,2012 419.2,2074.8 494.6,2058.4 321.2,1995.8 374,1996.4 434.3,1987.6 462.8,1976.7 607.4,2067.9 531.9,2014.3 504.2,2070.5 637.9,2104.1 328.1,1945.1 289.9,2157.7 419.9,2002.6 306.1,1790.4 502.7,2177 512.3,1939 306.1,2145.1 570,2039.2 502.2,1903.2 434.3,1925.9 653,2159.2 630.3,2180.1 347,2129.1 321.2,1971.5 655.7,2124.3 321.2,2023.2 588.8,2055.7 381.5,2001 404.7,1994.2 501.5,2039.1 662.1,2027.4 248.6,1911.4 321.2,2222.3 571.6,1980.8 419.8,2078.1 371.4,1854.2 677.3,2143.1 369.5,2076.8 570,2071.2 675.6,1946.2 585.1,2153.5 569.7,2008.6 572.8,2112.4 616,1988.2 374,2042.3 523,2106.4 611.3,2051.9 637.9,2028.4 645.4,2161.3 645.4,2115.3 285.3,1918.8 411.7,2106.5 449.4,2099.6 649,2084.1 435.1,2124.3 366.4,2207.9 255.2,2137.8 372.3,2004.3 592.6,2030.2 253.3,1975 321.4,1997.5 380.6,2120.7 487.1,1996.7 405.5,2143.1 641.2,2143.6 344.3,1960.3 502.2,2075.8 592.6,2063.5 660.5,2073.6 637.9,2199.1 306.1,1918.3 600.2,2141.2 551.2,2071.4 434.3,2004.4 260.9,1985.4 319.8,1994.2 585.4,2073.2 283.5,1975.8 381.5,2011.5 358.9,2058.2 585.1,2281.7 404.1,2054.1 285.7,2042.1 412.3,2097.1 379.3,2093.5 570.8,2027.3 381.5,1956.6 557.8,2136.3 494.6,1964.9 637.9,2142.9 577.7,2053.7 426.8,2030.4 467.1,1988.2 464.5,2014.6 638.2,2136 306.1,2031.2 434.3,2054.5 494.6,2092.8 438.5,1941.9 520.8,1831.3 472,1988.8 434.3,1960.3 551.5,2052.5 389.1,2057.5 524.8,2074.5 575.9,2097.8 306.1,1995 381.5,2040.2 669.2,2060.2 675.6,2108.5 690.7,2067.7 263.2,1984.1 620.6,2093.4 670.8,2004.7 645.4,2168.8 570,2117.6 556.5,1966.9 566.9,2039.5 509.3,2021.5 600.2,2240.3 472,2031.2 351.4,2120.4 286.4,2121.4 645,2064.8 587.8,1990.2 326.5,2133.6 622.8,2166.7 374,2073.2 532.3,1966.3 404.1,2129.7 346.6,1865.5 330.2,1984.2 276,2046.2 276,1930.2 272.4,1852.4 283.5,1938 619.8,2121.6 481.3,2081.4 306.1,1933.2 489.6,2063.9 493.6,2089.8 470.2,1944.6 343.8,2078.6 441.8,2069.2 641.5,2191.3 419.2,2090.9 479.5,1994.8 660.5,2160.3 354,2124.4 573.8,2117.5 462,1822.5 600.2,2068.1 404.1,2075.8 491.6,2186.1 413,2049.4 630.3,2033.7 653,2229.6 532.3,2038.5 682.4,2124.8 574.4,2012 622.8,2186.8 642.8,2019.9 377.1,2069.4 422.1,1941.3 475.4,2082.1 328.7,2001.5 615.3,2098.6 399.6,1956.7 555.2,1987.7 343.8,1949.7 396.6,1984 419.3,2154.8 352,2153.3 260.9,2006.5 594.7,2149.6 668,2071.6 351.4,2019.5 321.2,2130.8 396.6,2111.2 281.2,2105.9 531.9,2125.5 411.7,2052.5 501.4,2067.5 645.4,2000.5 632.5,2163.7 657.1,2008.6 668,1992.8 517.2,2207.3 473.1,2028.1 260.9,2191.7 291,2098.1 484,2036 630.3,2135.5 434.3,1895.2 245.8,2013 343.8,2010.4 585.4,2037.6 319.1,2057.2 332.3,2078.2 374,2079.7 524.8,2067.8 622.8,2063 341.1,1983.3 515.9,1983.6 484.9,2146 441.8,2025.2 507.9,2036.6 616.6,1972.7 343.8,2046.9 468.7,2020.6 284.4,2083.6 479.5,1959.8 600.2,2053.8 690.7,2113.8 461.1,2074.9 377.4,2264.8 509.7,2012.4 411.7,1790.8 298.6,1961.6 487,2052.1 600.2,1944.6 642.1,1990.5 683.1,2140.4 412,2083.2 358.9,1854 291,2140.9 441,1999.1 615.3,2118.4 351.4,2041.3 630.3,2002.2 570,2028.1 325.8,2089.2 534.4,1971.7 618.2,2066.1 662,2172.6 320.9,1956 615.3,2100.3 595.1,2024 355.3,2061 374,2007.8 675.6,2226.2 402,2009.6 374.6,2155.3 570,2060.9 303.8,2210.7 465.7,2205.9 404.1,1984.3 494.6,2014.9 517.2,1969.8 532.3,2210.4 434.3,1925.7 637.8,1978.4 622.8,2177.3 660.5,2074.9 449.4,2092.3 577.6,2076.9 434.3,1972.1 376.4,2044.9 532.3,2018.3 671.7,2125.4 607.7,2159.1 374,1965.3 351.4,2056.9 592.6,1997.7 570,2034.2 627,2114.8 313.7,1942.6 632.1,2034.8 431,2076.1 374,2068.4 396.9,2076.1 689.6,2059.8 675.6,2125.7 283.5,1896.2 381.5,2016.2 570,2058.9 260.9,1992.3 260.7,2085.6 262.7,2030.7 634.2,2142.1 389.1,2206.1 382.5,2164.2 600.2,2029.3 381.5,2067.3 577.6,2084.3 411.7,2144.9 374,2077.1 422.1,1981.9 324.1,2022 276,2061 637.9,1984.4 639,2206.8 454.3,2174.1 554.9,1985.4 630.3,2218.7 417,1998.2 573.6,2155 581.6,2133.9 279,2073.4 304.4,2017.4 585.3,2070.2 570,2051.1 326.7,2014.2 622.8,1988.6 607.7,1962.7 389.1,1984.4 396.6,1981.6 287.9,2052 441.8,2120.4 293.8,2155.1 495.6,2048.1 524.8,1997.1 509.7,2186.9 278.8,1829.5 525.8,2151.7 586.8,2075.8 303.2,1954.6 513.5,2156 615.3,2127.8 325.6,2175.5 653,2204.1 678.2,2249.7 566.5,2034.1 637.9,2073.9 370.9,2056.9 547.4,1974.4 657.5,2001.3 257.6,2154.6 615.3,2247.9 351.4,2051.6 607.7,2117.9 532.3,1966.7 607.7,2067.8 425.5,2062.7 449.4,2057.7 660.5,2063.3 276.7,2052 321.2,2005.5 675.6,1983.5 653,2002 313.7,1943.4 678.7,2211.8 366.4,2044.8 642.9,2045.1 645.4,2130 253.3,1961.5 245.8,1994.9 381.5,2049.7 660.5,2107.2 600.2,2060.2 415.8,1999.6 630.3,2198.8 381.5,2100.9 400.1,2110 326,1906.8 675.6,2086 607.7,2057.7 456.9,2029.4 366.4,2070.6 677.4,2162.5 430,1977.3 343.1,2057.5 434.3,1924.8 570,1889.5 592.6,2073 294.7,2183.5 666.6,2104.3 547.4,2063 276,1912.5 622.8,1920.6 675.6,2191.2 620.3,2138.8 248.5,1968 464.5,2108.2 517.2,2101.9 637.9,2127.6 479.5,1862.3 276,1975.5 661.7,2106 668,2111.6 464.5,2036.8 268.4,2003.5 622.8,1922.1 577.6,2061.4 674.1,2046.6 245.8,2056.3 440.3,2014 374,2056 292,2035 577.6,2139.6 397.1,2094.3 260.9,1987.5 306.1,2093.2 613.6,2052.7 524.8,2106.5 343.8,2007.1 561.9,2252.3 304.9,1957.4 547.4,2067.6 539.9,2077.7 245.8,1934.2 479.5,2075.6 570,2002.3 585.1,2078.4 570,2032.1 637.9,2123.1 585.1,2054.2 660.5,1996.6 435.4,2100.3 261.2,2063.8 331.5,2051.5 376.3,2011 260.2,1821.1 291,2064.8 481.6,2192.3 358.9,2077.8 374,2146.4 578.5,2287.1 630.3,2089.3 630.3,2159.6 411.7,2084.5 570,2205.4 630.3,2077.3 313.7,2079.3 331.9,1949 532.3,2130.8 364.4,2093.5 327.2,2053.4 411.7,2031.2 253.2,1963.3 441.8,2158.6 260.9,2024 356.2,1895.3 344.4,2034.8 389.1,2016.9 297.8,2022.9 464.5,2126.6 554.9,1996.8 396.6,2013.9 662.3,2088.8 630.3,2037.2 383.8,1975.3 260.9,2154.9 592.6,2042.2 348.3,2070.3 392.8,2021.2 511.8,2103.3 690.7,2172.8 372,1961.9 455.1,2039.2 524.8,2075.9 554.9,2085.4 343.8,2021.5 517.2,2054.2 494.6,2217 542.7,2123.6 295.2,2038.5 295.7,1967.6 676.4,2006.1 615.3,2150.6 622.8,2270.1 658.5,2090.9 675.6,2068.3 419.4,1941.6 585.3,2116.4 532.3,1952.8 501.4,2062.7 554.9,1943.2 383.8,1946.2 628.1,2097.9 428.7,2141.5 313,2035.4 245.8,2014.5 535.4,1925.6 348.8,1847.7 675.6,2105.7 326.7,1995.9 381.5,1966.1 681.8,2021 479.5,2062.8 660.5,2034.4 592.6,2123.7 296.4,2211.6 343.8,2123.5 419.2,2015.6 636.4,2031 389.1,2191.1 456,2165 464.5,2038.1 381.5,2270.8 600.2,2034.4 268.4,1939.7 351.4,2238.6 624.9,2203.7 524.8,2064.5 481,1935.9 413.8,2008.7 306.1,2035.1 449.8,2023.7 681.5,2033.5 517.2,2033.7 509.7,2042.1 688,2207.2 641.3,2051.8 690.7,2101.7 673.4,1965 545.9,2056.6 381.5,2031.1 532.9,2096.6 396.3,1973.9 615.3,2092 306.1,2067.2 456.9,1916.4 622.8,1951.2 449.4,2063.6 513.8,2119.1 282.1,1932 374,2083.8 676.1,1894 542.2,1985.2 401.8,1956.4 479.5,2129.3 592.6,2071.8 598.2,1992.1 622.2,2047.2 374,2062 349.8,1843.5 534.8,1997.8 487.1,1956.7 502.2,2084.8 343.8,2039.3 381.5,1926.2 585.5,2122.4 404.1,1928.3 583,2125 260.9,1919.5 668,2106.1 344,1957.4 464.5,1991.2 658.7,2133 359.6,1970.8 353.4,1952.8 681,2181.8 645.4,2035.6 268.4,2032.4 524.8,2001.5 356.3,2117.5 342.5,1986.2 660.5,2134.2 524.8,1992.2 444,2215.7 276,2097 413.5,1946.6 630.3,2096.9 374,2108.5 384.7,1934.3 524.8,2117.7 358.1,1969.4 502.2,2045.5 589.6,2094.6 374,1974.5 462,2124.3 509.7,1972.6 404.1,2170.9 351.5,2054.3 298.6,2001.3 499.2,2093.9 669.6,2148.1 253.3,1981.9 675.6,2109.8 494.6,1963.8 675.6,2119.5 570,2070.5 494.6,2007.6 456.7,1953 456.9,2041.8 554.9,2045.2 350.7,1959.6 570,2007.4 472,1925.1 546.4,2122.2 670.6,2081.3 347.9,2023.4 429.6,2112 374,1913.7 265.3,2011.7 521.9,2031.3 530,1967 690.7,2192.7 517.2,2101.4 426.8,2060.3 645.4,2086.9 253.3,1992.4 374,2060.7 585.1,1938.8 323.9,2068.9 407.7,2040.7 630.3,2002.3 396.6,1968.8 358.9,2022.5 645.4,2059.2 276,1952.5 627.8,2081.6 381.5,1976.6 344.2,1945 472,2028.8 465.2,2152.5 673.3,2161.8 585.1,2150.3 458.6,1940.9 501.9,2075.5 381.5,2002.8 683.1,2168.1 417.3,2042.6 637.9,2105.4 539.9,2116.1 653,2027.7 402.2,2148.2 434.3,1984.1 412.6,1833.8 619.3,2141.3 675.6,2096.5 622.8,2194.6 451.7,2034.5 625.1,2208.7 577.9,2020.8 476,2073.2 330.2,2156.2 350.4,2118.3 566.8,1994.1 328.7,2042.6 502.2,1982.5 606.3,2106.6 539.1,2142.8 521.9,2112.7 369.8,2018.8 298,2197.9 260.9,1972.6 260.9,1986.1 351.4,2206.3 504.5,2135 434.3,2154.6 336.3,2041.3 374.7,1943.4 456.9,1917.6 599.3,2213.8 540,2243.7 260.9,2272.2 464.5,2050.1 328.7,2064.4 630.3,2125.8 637,2127 499.2,2061.7 577.6,2134.9 554.9,2041.1 615.3,2084.8 376.5,2106.2 351.4,1894.8 585.1,2168 675.6,2051.2 351.4,2083.4 502.2,2022.6 494.6,2008.5 411.7,1970.9 584.7,1969.6 305.5,2084.8 411.7,1823.8 434.3,2005.9 678.7,2164.9 558.1,2164.6 571.8,1896.6 690.7,1988.1 347.9,1936.2 517.2,1995.8 291,1923.2 320.3,2015.9 562.5,2096.3 622.8,2087.2 533.7,1994.7 510.1,2047.4 600.2,2167.4 675.6,2047.1 660.5,2224.2 615.3,2137.1 434.3,1942.9 595,2057.7 351.4,2008.9 645.4,2204.6 372.4,1932.8 685.8,2109.9 372.5,2171.8 366.4,2009.7 396.6,2256.1 464.5,2188.7 328.5,1907.2 366.4,1951.4 636,2123.1 660.5,2254.9 315.4,2105.5 441.8,1961.3 434.3,2091 622.8,2149.5 539.9,2239.4 426.8,2023.3 600.2,2057.8 522.2,2081.9 346.1,1970 600.2,2152.5 456.9,2042.7 639.3,2141.3 545.1,2134.1 313.7,1932 585.1,2095.8 509.7,2135.3 496.6,2301.6 431.1,2107.7 547.4,2010.8 276,1955.3 479.5,1965.7 668,2062.1 336.3,2035.6 305.6,1885.6 434.3,2050 481.9,1948.5 411.7,1919.8 464.5,2156.6 545.6,1970.9 601,2021.9 268.4,1952.2 415.5,2079.5 524.8,2019.6 252.8,2009 668,2055 536.1,2299.6 464.5,2001.4 449.4,2183.7 313.7,1894.8 276,2056.6 554.9,2022.9 660.5,2074.4 596.8,2068.2 253.3,2006.7 258.4,2010.8 479.5,2161.4 509.7,2089.1 521.1,1964.6 638.1,2164.9 645.4,2169.8 688.9,2108.6 389.1,1941.4 456.9,1922 690.7,2109.1 562.5,2045.3 268.4,1960.9 653,2053.7 524.8,2060.2 325.3,2131.2 393.5,2084.7 506.5,2159.2 539.9,1943.2 435.6,2064.4 582.3,2129.5 498.1,2025.7 675.6,2102.6 630.3,2049.5 313.7,2069.1 291.1,2132.7 628.9,2029.8 524.8,2107.4 678.6,2140.4 441.8,1978.9 330.9,2066.1 259.7,2016.2 592.6,2021.8 284.1,2098 533.3,2037.2 502.2,2098.4 580.9,1985.2 671.5,2193.9 353.1,2021.7 464.5,1988.4 585.1,2174.3 333.7,2019.1 283.5,2010.8 306.1,2082.5 660.5,2116.3 600.2,2007.8 329.5,1958.3 253.3,2048.4 529.2,2073.4 381.5,2000.1 351.4,1937.1 328.7,2076.6 463.9,1988.1 396.6,1920.3 668,2216.2 504.1,2155.6 647.8,2262.3 659.5,2015 643.8,2262.1 472,2046.5 511.4,1998.7 497.7,2151.2 253.3,2058.1 670.5,2124.3 313.7,1973.4 502.2,2033.2 554.9,2044 601.6,2031.4 494.6,2038.9 531.3,1934.8 534.2,2045.1 548.6,2067.2 626.7,2114.9 276,1975.3 479.5,2066.7 260.9,1973.4 313.7,2019.7 260.9,1939 630.3,2149.2 389.1,2029.6 483.1,2021.4 600.2,2052.1 553.4,1985.4 664,2217.9 474.3,1976.8 562.9,1928.4 635.3,2032.8 291,2100.9 460.3,1956.3 279.7,1974.8 501,2078.7 380.4,2013.3 622.8,2102.1 459.2,1947.8 317.8,1941 636,2175.4 434.3,2019.5 253.3,2041.7 377.1,2128.5 421.2,1991.2 260.9,2031.3 304.5,1994.2 374,1855.2 396.6,1940.1 441.8,1960.5 374,2063.2 383.6,1909.4 460.1,1952.4 396.6,2138.7 585.1,2158.6 596.2,2108 257,2013.4 321.2,1854.6 291.3,2047.4 396.6,1854.5 401.2,2021.8 585.1,2056.9 577.6,2161.5 637.9,2222.9 554.9,2110.2 517.4,2072.2 690.7,2170.5 532.3,2133.9 381.5,2064 260.9,2030.8 668,2223.9 585.1,2192.3 412,2013.2 637.9,2105.4 581.9,2175.8 456.9,1922.7 677.1,2111.7 642.1,2042.9 449.4,2160 434.3,1992.1 313.7,2062.6 291,2033.6 404.1,1989.6 343.8,2183.8 276,2083.1 575.9,2084.8 675.6,1996 554.9,2109.4 648.1,2202.4 637.9,2147.4 529.3,2035.2 484.9,1966.7 404.1,2092.6 471,2070.5 381.5,2050.4 320,2040.6 472,2115.6 549.8,2101.2 506.5,2025.7 577,2070.5 396.6,2037.6 245.8,2094.6 346.2,2073.6 376.2,2088.5 502.2,1979.9 419.2,1937 543,2043.1 347.8,1920.1 460.6,2066.8 245.8,2043.1 554.9,2164 633.4,2080 630.3,2127.9 641.6,2092.5 328.7,1997.1 682.6,2130.7 502.3,2135.2 328.5,2035 283.5,2031.8 276,2023.7 536.1,2016.8 532.3,2079.1 600.2,2104 539.9,1942.3 480.8,1972.3 321.2,2037.1 577,2143.8 247.5,2027.3 539.9,2038.4 321.2,1970.1 322.7,2007.4 645.4,2116.8 662.2,2094 570,2099.5 351.4,2027.2 456.9,2160.3 397.2,2113.4 298.6,1953.8 351.4,2174.9 268.4,1931.4 675.3,2099.5 350,2013.3 419.2,2015.1 359.2,2166.5 532.7,2155.6 502.2,2019.2 592.6,2072.9 245.8,2150 337.1,2082.5 513.9,2130.2 506.7,2087.5 624.6,2097.1 276,2063.4 411.7,1892.7 428.6,2056.2 479.5,2097.8 396.6,1923.9 574.7,2005.9 291,1925.8 268.4,1882.8 383.5,1958.1 283.5,1935.6 419.2,2158.7 513.1,2112.3 286.9,1991.1 456.9,2021.2 502.2,1998.9 502.2,2083.8 260.9,1939.9 592.6,1934 570,2028.5 374,1971.8 464.5,2004.3 578,2105.7 620.1,2070.6 358.9,2065 594.8,2050.8 434.3,2028.4 675.7,2213.3 637.9,2074.9 407.2,2031.6 404.4,2018.5 464.5,2078.9 673.4,2069.6 313.7,1979.6 502.2,2099 532.3,2034.9 570,2013.8 273.1,1966.5 517.2,2118.9 445.8,2110.5 399.6,2031.7 675.6,2179.9 294.2,1844.9 570,2096.1 333.2,2084.3 669.4,2253.9 472,2076.7 449.4,2206.8 357.4,2041.9 494.6,2119.7 630.3,2129.5 278.8,2138.3 543.4,2129.4 313.7,2039.9 351.4,2038.3 630.3,1998.6 276,2075.8 577.2,2137.7 268.4,2014.6 478.7,2059.4 527.8,2151.5 313.7,2245.8 607.7,2137.7 342.2,2006.4 464.5,2111.9 351.4,2014.2 588.1,2090.7 358.9,2032.4 369.9,2001.8 253.3,1993.2 645.4,2089.9 258.8,2013.5 380.7,2129.1 534.3,2114.1 387.1,2195 517.2,2219.9 405.6,2063.2 637.3,2114.8 321.2,1926.3 256.9,1972.9 286.2,2043.1 487.1,2074 520.6,2030.1 622.8,2011.1 675.6,2074.2 427.4,2017.2 624.7,2086.6 424.9,2107.1 411.7,2103.9 306.1,2131.2 639.4,2069.4 393.7,2057.8 532.3,2111.8 479.5,2023.5 690.7,2013.9 357.3,1960.3 503.5,1919.1 600.2,2052.4 328.7,2080.1 622.8,2198.1 505,1911.8 291,1994.6 675.6,2193.3 434.3,2087.3 462.1,2163.1 600.2,2115.4 673.8,1928.6 358.9,2059.6 303.1,2108.8 585.1,2149.4 554.9,2097.9 445.7,2015 530.6,2060.2 668,2220.7 622.8,2119.9 502.2,2038.6 645.4,2032.6 653,2126.1 592.3,2055 295.2,1983.6 502.2,2011.5 524.8,2236.4 635.2,2052.5 479.5,2091.8 526.2,2101.8 570,2276.5 286.2,2101.2 265,1979 262.9,1857.6 291,1899.4 357.4,2035.6 260.9,1987.1 517.2,2107.9 509,2096.9 449.4,2054 245.8,2047.5 483,2003.6 305,1970.4 245.8,1894.3 600.2,2017.4 653,2053 273.7,2012 539.9,2107.1 268.4,2092.9 509.7,1900.5 524.8,2039.1 512.2,1954.4 688.5,2169.9 524.8,1985.4 322.1,1999.9 661.3,2116.5 374,2184.2 492.1,2112.5 434.3,1910.9 615.3,2000.1 285.7,2016 411.7,2023.4 442.9,2092.5 517.2,2188.1 645.4,2053.1 370.9,2077.3 398.4,2047.3 547.4,2149.8 343.8,1973.7 478.6,2009.1 381.5,2011.3 524.8,2276.1 508.5,1997.9 556.8,2070.8 430.8,2129.6 353.4,2188.7 254,1882.9 518.8,2012.6 353.4,2168.3 245.8,1904.7 411.7,1957.6 374,2001.9 557.7,2052.7 374,1978.1 414.4,1854.8 568.4,2067.2 547.4,2205.8 321.2,1986.5 509.7,2256.8 660.5,2096.5 645.4,2126.9 630.3,2093.7 374.4,2047.4 675.8,2083.9 328.7,2021.6 428.5,2034.1 301,2035.5 502.2,1991.7 570,2109.2 554.9,1997.4 245.8,2140.4 683.1,2096.1 380.5,2141.8 578,2166.6 660.5,2019.2 592.6,1984.7 487.9,1991.7 494.6,2022.8 306.1,2241 419.2,2013.5 620.1,2081.7 554.9,2251.5 547.4,1918.4 554.9,2068.4 396.6,2026.5 686.1,2161.2 396.6,2040.5 328.7,2094 547.9,2011.7 321.2,2043.3 675.6,2163 509.7,2088.5 295.8,1926.2 253.3,2089.3 515.3,2002.2 260.9,1904.4 268.4,1975.1 434.3,2021.2 449.4,1943 622.8,2064.5 306.1,2027.2 637.9,2109.6 423.2,1955.8 628.8,2041.9 313.7,1916.3 260.9,2045.4 441.8,2062.8 343.8,2062.1 461.8,2022.7 617.6,2138 637.9,2028.4 285.5,1999.8 357.2,2102.9 381.5,2044.5 455.1,1938.5 264.8,2026.1 328.7,2018.6 276,2053.6 449.4,2012.9 667.1,2243.4 313.7,2171.4 637.9,2212.8 382.8,2030.2 585.1,2027 631,2001.1 524.8,2068.2 570.5,2165.2 531.8,2004 660.5,2215.1 594.8,2082.3 434.3,2265.7 374,2068 324.6,2081 479.5,2089.1 348.2,2124.5 351.4,2014 635,2106.8 564.1,1997.9 494.6,2180.7 630.3,2008.4 487.1,1917.7 419.2,1909.3 554.9,2126.3 526.9,2118.6 343.8,2138.6 381.5,1970.4 502.2,2067.8 343.8,1979.5 653,2040.9 260.9,2057.4 635.1,2111.5 681.9,2135.4 524.8,2216.9 343.6,2021.6 616.4,2075.9 441.8,1988.7 570,2078.3 381.5,1887.9 343.8,2097.7 675.6,2018 274.9,1922 268.4,2104.4 592.6,2018 592.7,2059.8 383.3,1972.3 411.7,2123.9 554.9,2050.6 517.2,2127.1 533.7,2109 440,1937.9 683.1,2120.5 313.7,2189.4 530.1,2225.2 343.8,1872.8 389.1,2177.4 374,2084.2 622.8,2201.9 389.1,2017.4 495.2,2025.5 459.6,2100 494.6,1947.3 354.9,1939.8 408.8,2179.1 449.4,2123 283.5,2084.5 253.3,2031.9 517.2,2001.6 343.8,2083.1 609.5,2128.7 259.1,1862.4 349.6,2025.5 532.3,2099.3 306.4,2024.2 437.6,2129.9 374,1995.5 374,1964.4 351.4,2073.5 675.6,2036 379.9,2055.5 298.6,2004.9 318.4,2085.6 577.6,2182.9 538.5,2047.3 568.6,2092.7 592.6,2098.2 331.7,2110.9 260.9,2105.2 435.5,2085.1 441.8,2085.4 353.1,2010.1 615.3,2120.7 290.5,2003.6 472.4,1918.3 487.1,2040.4 247.7,1874.1 615.3,2056.2 404.1,1940.9 449.4,2079.2 321.2,1943.8 426.8,2123.9 445.9,2023.3 519.8,2081.5 262.5,2165 434.3,2137.7 468.6,1962.6 668,2070.2 517.2,1963.5 556.4,2054.5 441.8,2249.2 472,2026.8 683.1,2151.8 434.3,2075.8 689.6,2125.6 524.8,2197 653,2169.4 509.7,1892.5 612.1,2054.4 615.3,2134.6 419.2,2068.6 389.1,1965.6 668,2078.3 390.6,2021.8 594.1,2168.9 328.7,1885.8 472.9,2126.9 417.8,2176.2 371.2,1969.8 351.4,2055.7 675.6,2138.2 545.2,2134.8 456.2,1988.1 509.7,2259.5 630.3,2050.9 554.9,2001.8 306.1,2116.7 342.2,2018.5 644.6,2082.1 502.2,1945.5 517.2,2056.5 321.2,2096.8 306.1,1994.4 343.8,2062.7 380.1,2004 502.2,2004.9 414.9,2013.7 554.9,2069.3 434.3,1979.4 479.5,2082.3 670.9,2228.5 257.9,2156.9 534.5,1977.3 579.7,2040.1 328.7,1983.7 630.3,2090.2 299.7,1907.1 615.3,2185 328.3,1943.4 437.3,2101.4 426.8,1902.7 509.7,2142.9 532.3,2055.8 260.9,2043.2 616.8,2058 486.8,2091.4 660.5,2204.2 321.2,1988.8 444.8,1949.4 675.6,2056.5 532.3,2066.6 483.3,2019.5 465.7,2167.2 651.7,2125.3 245.8,1937.4 689.3,2081.4 467.8,2106.9 615.8,2027.6 464.5,2054.5 622.8,2039 283.5,2126.9 433,2078.9 592.6,2058.2 690.7,2093.3 479.5,2008.1 276,2025.5 585.1,2093.4 532.3,2029 313.7,1966.9 343.8,2141.4 472,2069.4 320.6,2044.5 653,2090.4 690.7,2042.3 585.1,2174.6 630.3,2055.8 389.1,2069.9 292.5,2080.7 581.3,2115.3 600.2,2103.4 563.7,2116.3 328.7,2067.6 260.9,1929.2 503.9,2073.6 312,2161.1 376.6,2136.4 463.5,2076.1 358.9,1996.1 662.1,2300.2 381.5,1831.8 498.9,2201.1 675.6,2240.4 547.4,2054.6 418.7,1990.7 586.8,2069.6 326.7,2106.4 291,1962.4 260.9,2236.4 547.4,2168.2 539.9,2151.5 547.7,2071.3 547.4,2226.9 509.7,2114.2 668,2125.5 457.6,1944.4 298.6,1983.4 360.2,2095.9 524.8,2100.5 403.7,1895.7 441.8,2141.1 372.6,2041 577.9,2021.2 630.3,2080.6 393.6,2101.7 606,2009.5 331.7,2000.2 675.6,2205.5 404.1,1961.3 544.5,1964.9 517.1,1983.4 276,2030.2 509.7,2048.8 263.8,1937.2 466.8,2053 492.8,2067 667.5,1972.9 327.3,1994.5 266.5,1887.1 524.8,2114.3 381.5,2073.8 502.2,2083.5 358.9,2060.6 554.9,1956.7 298.6,1928 478.2,2077.3 595.6,1952.6 645.4,1812.5 391.6,2089 502.2,2091.2 676,2055.3 306.1,1988 623.3,2133.7 577.2,2241.1 675.6,2210.3 473.5,2106.1 451.7,1918.6 494.6,2235.8 403.7,2051.3 270.5,1952.1 505.6,2063.5 420.5,2093.9 481.5,2110.2 559.4,2217.7 419.2,2132.6 321.2,2023.7 620.9,2129.9 668,2106.4 351.4,2042.4 524.8,2038.7 419.2,2156.4 562.5,2092.4 268.4,2046.3 660.5,2125.1 630.3,2155.8 306.1,2182.8 532.3,2016.4 387.7,1977.4 342.9,1862 630.3,2040.5 587,1961.2 509.7,2012 522.3,2085.3 637.9,2059.8 394.7,2119.1 472,2027.5 351.2,2039.4 449.4,2116.4 321.2,1822.1 396.6,1956.5 532.3,2183.7 376.5,1807.9 539.9,1946.3 599.8,2091.7 534.5,2158.2 456.9,2109.9 418,1988.1 275.2,2006.4 592.6,2185.7 675.6,2013.7 358.7,2016.9 560,1954.3 516,1975.4 615.3,2118 554.9,2060.9 327.5,1984.6 306.1,2086 397.2,2056.8 328.7,1992.9 514.5,1957.5 283.5,2086.8 554.9,2017.3 600.2,2078.8 260.9,2036 637.9,1814 615.3,2111.6 260.9,1921.7 504.2,2075.1 260.9,2085.6 466.4,1987.4 276,2207.2 509.7,2137.3 276,2034.6 283.5,2022 677,2125.9 613.8,2226 547.4,2159.3 600.2,2043.8 346.5,1990.5 291,2094.9 381.5,2013.6 585.1,2060.6 583.9,2002.3 570,2122.9 433.1,1932.9 477.1,2065.1 574.1,1968.4 509.7,1985.8 344.9,2100.8 456.9,2062 668,2082.5 675.6,2032.9 276,1959.5 298.4,2058.9 266.4,1974.8 478.6,2009.3 645.4,2170.3 479.1,2108 387.2,2002.1 637.9,2165.8 357,2013.1 499,1983.2 637.9,2091.4 637.9,2284.5 306.1,1940.1 381.5,1949.9 424.4,1934.6 592.6,2016 554.9,2186.2 494.6,1946.2 408,1976 374,1964.3 509.7,2063.2 606.7,2099.6 396.6,2050.5 374,2025.8 245.8,1997.2 291.1,2037.4 306.1,2233.2 437.6,2003.6 592.5,2076.5 426.8,2025 313.7,1954.2 321.2,1973.9 674.9,2105 524.8,2040.9 374,2025 630.3,2038.4 671.1,2054.4 502.2,2039.5 449.9,2100.1 419.6,1975 411.7,1970.3 630.3,2166.6 568.2,1838.7" fill="none" stroke="none" marker-start="url(#mo)" marker-mid="url(#mo)" marker-end="url(#mo)"/>
<path d="M245.4 2019.3C265.8 2021.7 332.2 2029.5 368 2033.4C403.8 2037.3 429.3 2037 460 2042.6C490.7 2048.2 526.4 2059.8 552 2067.2C577.6 2074.6 590 2078.9 613.5 2086.8C637 2094.7 680 2109.8 693.3 2114.4" stroke="#000" stroke-width="7.2" stroke-dasharray="7.2 15.7" fill="none"/>
<path d="M223.6 1763.5V2334.5H716M283.5 2334.5v16M472 2334.5v16M660.5 2334.5v16M223.6 2304h-16M223.6 2195h-16M223.6 2086h-16M223.6 1977h-16M223.6 1868h-16" stroke="#000" stroke-width="3.4" fill="none"/>
<text x="283.5" y="2397.8" text-anchor="middle">25</text>
<text x="472" y="2397.8" text-anchor="middle">50</text>
<text x="660.5" y="2397.8" text-anchor="middle">75</text>
<text x="191.5" y="2319.6" text-anchor="end">0.1</text>
<text x="191.5" y="2210.6" text-anchor="end">0.2</text>
<text x="191.5" y="2101.6" text-anchor="end">0.3</text>
<text x="191.5" y="1992.6" text-anchor="end">0.4</text>
<text x="191.5" y="1883.6" text-anchor="end">0.5</text>
<text x="469.8" y="2456" text-anchor="middle">Age</text>
<text transform="translate(97 2049) rotate(-90)" text-anchor="middle">AAD (°C)</text>
<text x="468.8" y="1739" text-anchor="middle" font-size="51.7">Male 2min Coarsing</text>
<polyline points="1039,2101.8 1205.3,2288.1 1107.1,2055.5 1137.3,2046.6 1284.6,1947.3 1304,1964.6 1169.9,2011.4 1280.8,2036 1112.8,2048.6 1378.2,2187.9 1197.7,2096.2 1371.5,2181.5 955.1,2292.2 1333.8,2052.9 1177.9,2100.2 1243.1,2085 1018.5,2216.7 1175.1,2212.2 1061.7,2032.9 982.4,2187 940.8,2112.8 1340,2090.4 1217.9,2121.4 1023.9,2021.4 1039,1960.2 1144.8,2092.1 1294.2,1954.7 982.4,2212.4 1371.5,2083.9 1348.8,2020.2 1039,2027.9 1205.3,2117.8 1091.9,2149.3 1236.2,2219.9 982.1,2137.9 1144.8,2148.6 1187.6,2020.7 1205.1,2041.3 1235.5,2004.5 1330.3,2127.8 1041.2,2082.2 1004.5,1990 1107.2,2174.4 1182.6,2133.6 1364.9,1994.9 1243.1,2118.2 1260.2,2173.1 1370.4,2194.6 1054.2,2046.5 1036,2041.6 1064.8,2108.4 1213.6,2047.9 1356.4,2044.2 1001.3,2135.6 1159.9,2081 1227.9,2143.6 1150.5,2230.7 1341.3,2109.6 1250.6,2154.8 1333.7,2200.1 986.2,1950.7 1016.4,1991.8 971,2017.4 1303.5,2041.2 1364,2070.9 948.4,2137.3 1280.8,2163.9 1250.6,2207.6 1341.3,2020.6 1054.2,2217.4 1243.1,2060.1 1037.8,2170.7 973.9,2216.4 1258.2,1963.5 955.9,2034.7 1235.5,2154.7 1054.2,2136.8 1152.4,1966.9 1333,2003.2 1039,2119.4 1144.8,2155.4 1088.4,2125.5 1012.7,1912.1 1144.8,2100.4 1018.8,2106 1288.4,2045.4 1197.7,2137.7 1053.8,2204.7 1379.7,2170.7 1076.8,2053 1222.6,2200.7 1250.6,1994 1046.6,2074.5 948.4,2058.3 1337.1,2075.2 1356.1,2068.4 1008.8,1984 999.6,2151.5 1127.7,2063.9 1197.7,2129.1 1386.6,1970.8 1365.7,2057.4 1386.6,2110.3 1039,2227 1194.7,2173.4 1129.7,2133.1 1039,2179.3 972.3,1997.7 1010.9,1930.5 1092.9,2061.1 982.3,2070.8 1001.3,2209.1 953.1,2042.4 1208.4,1994.2 1152.4,2047 1036.5,2106.1 1162.7,2090.7 1129.7,2039.7 1220.4,2159.7 1341.3,1999.1 1085.8,1986.5 1212.8,2056.8 1034.4,2015 1348.8,2111.2 1205.3,2056.6 1008.8,2067.7 1039.9,2071.9 1008.8,2243.2 1016.4,2121.4 1061.7,2144 1300.3,2205.1 1137.3,2170.9 1051.6,2123.3 1130.4,2120.9 1054.2,2083.6 1250.6,2080.8 963.5,2209.9 1064,2117.8 1066.4,2172.6 1016.4,2116.1 1259.5,2124.4 1016.4,2130 1061.7,2053.2 966.3,2138.7 1265.7,2088.7 1091.9,2171.6 1213.8,2123.6 1031.8,2260.6 955.9,2187.7 1072.9,2040.2 1276.7,2091.8 1308.8,2047.4 1084.4,2240.3 1321,2237.6 963.5,2193.4 1159.9,2279.2 1039,2139 1131.5,2181 1030.9,1987.8 1333.7,2165 1061.7,2166.2 1349.3,2206.3 986.2,2181.4 1131.9,2095.8 1137.3,2065.9 1241.8,2237.4 1076.8,2013.7 1150.4,2090.5 971,2150.5 1065.1,2126.9 1250.6,2015.8 986.2,2020.3 1144.8,2225.5 1039,2011.9 1006.6,2064.8 996,2086.6 1298,2023 1235.5,2167.1 1103.1,2125.2 1107.1,2206.4 1250.6,1982.3 1197.7,2173.2 1341.3,2065.7 1343.7,2110.5 1155.3,2025.5 1220.4,1973.7 1167.5,2154.7 1062.4,2140.6 1137.3,2059.9 1252.3,2133.9 1175.7,2130.5 1205.3,2121.7 1152.4,2137.3 1356.4,2047.6 1273.3,2027.3 993.7,2105.6 1296,2137.7 1341.3,1938.1 1296,2042.9 1079.4,2107.5 1090.9,2184.1 1039,1981.5 966.7,2002.1 1144.8,2028 1316,2192.1 1271.1,1983.7 1220.4,1965.5 1318.6,2150.3 1220.4,2159.2 1035.1,2048.7 1288.4,2203.7 1091.9,2109.2 1333.7,2168.9 1072.4,2151.9 978.6,1996.4 1251.7,2118.2 987.6,2194.6 1328.6,2157 1123.5,2136.1 1273.3,2005.3 963.5,2232.1 1164.3,2116.1 1227.9,2062.7 993.7,2070.5 1197.7,2141.2 998.1,2012.8 1059.8,2147.2 1091.9,2127.6 1202.9,2158.6 993.7,2038.5 1016.4,2109.1 1274.2,2117.8 1250.6,2292.2 1137.3,2081.7 1054.2,2092.8 1235.5,2202.3 1146.5,2083.2 1060.5,2046.9 1333.7,2112.5 1021.7,2118.2 1291.3,2044.1 1205.3,2125.8 1212.8,2193.5 1227.9,2157.5 1254.7,1983.4 1334.6,2072.5 1341.3,2059.8 1036,2160.2 1012.2,2073.3 1342.3,2042.7 1026.1,2012.9 1031.5,2004.8 1288.4,2078.6 1364,2033.3 1311.1,2096 1157,2046.9 1102.8,2117.1 1386.6,2157.5 1250.6,2029.6 1205.3,2151.1 948.4,2120 1016.4,2160.7 948.4,2122 1341.3,2122.7 1038.7,2064.2 1005.7,1952.7 1182.6,1975.7 1023.9,2133.6 1168.2,2247.2 1352.6,2146.2 1326.2,2238 1039,2131.1 1338.8,2157.5 1114.6,2138.6 1159.9,1987.6 1069.3,2135.2 1386.6,2051.6 1059.4,2117.4 1250.6,2035.4 1205.4,1963.1 1238.3,2061.7 978.6,2091.7 1167.5,2151.2 1386.6,2120.2 1184.3,2145.5 1016.4,2127.1 964.4,2198.3 1066.6,2272 1258.2,2151.8 958.5,2151.1 958.4,2129.1 1220.4,1991.4 1333.7,2118 1129.7,2166.6 1205.3,2136 1039,2019.7 1052,2172.1 1149.5,2233.5 1030.1,2133.8 1137.3,2002 1001.3,2002.9 1341.3,1979.6 1212.8,2234.8 978.6,2119.2 1016.4,2015.4 1305,2077.4 1088.3,2253.8 1046.5,2110.6 955.9,2071.2 1227.1,2053.6 1182.6,2041.8 1311.1,2119.3 1008.8,2052 1269.2,2068.8 1303.5,2275.3 1301.2,2139.7 1258.2,2114.5 1140.6,2111.9 959.4,2193.4 1208.6,2053 955.9,2077.7 978.6,2103 1114.6,1950.7 995.4,2055.2 1139.9,2074.8 1321,2092.9 1008.8,1996.2 1287.9,2087.9 1386.6,2022.9 955.9,2102.4 1133.3,2009.8 1244.8,2072.2 1250.6,1953 1054.2,1992.6 1295.1,2202.7 1091.9,2044.2 1023.9,2194.5 1159.4,2092.3 1195.5,1941.4 1311.1,2157 1221.8,2108.2 978.6,2055.7 1182.6,2112.2 1078.2,2013.2 1243.1,1978.7 959.4,1999.3 1220.4,2093.4 1282.2,2163.7 955.9,2207.5 948.4,2203.9 1331,2098.2 1341.3,2028 1019.7,2061.9 1341.3,2229.7 1114.6,2201.8 1161.9,2153.6 1146.1,1910.7 1076.8,2148.5 1333.7,2103.4 1197.7,2206 1341.3,2205.7 1204.1,2064.6 1341.3,2132.3 1159.9,2021.4 1143.4,2214.4 1185.8,2047.5 942.6,1948.1 1273.1,2152.6 998.1,2010.7 1348.1,2143.2 955.9,2103.7 1245.6,1892.1 1274.3,2143.3 1169.9,2151.5 978.6,2161.2 1296,2154.5 1069.3,2034.8 1054.2,2122.8 1236.4,2168 1371.5,2249.2 978.9,2145.1 1129.7,2017 1227.9,1988.6 1053.2,1999.4 1341.3,2024.2 1200.8,2127.7 971,2148.1 1001.3,2050.6 1001.3,2181.2 1133.8,1978 1341.3,2099.7 988.7,2043.6 1001.3,1988 1021.5,2173.1 1182.6,2216.2 1129.7,1978 1131.4,2057.9 997.9,2067.4 1303,2216.2 1155.7,2035.4 1326.2,2009.9 959.1,2229.4 1137.3,2247.7 1093.9,2150.4 1311.1,2189.3 1237.1,2200.1 1161.1,2071.1 1012.2,2124.5 1238.6,2223 1341.3,2199.8 1273.3,2121.6 1371.5,2150.3 1195.5,2071.2 1069.3,2099.3 1031.5,2214.4 1288.4,2151.4 1299.6,2104.7 1205.3,2128.7 1273.9,2261.6 1152.4,2096.1 1318.6,2012.5 1235.5,2154 1042.2,2055.4 1190.2,2045.9 1212.8,2189.4 1022.1,2106.5 1348.8,2093.5 1286.1,1890.5 1001.3,2010.2 1031.5,2014.2 940.8,2006.9 1348.8,2241.1 1008.8,2147.2 1301.8,1984.2 1153.2,2169.6 961,2022.9 1023.9,2036.5 1039,1987.9 1273.3,2064.7 1091.9,2064.1 1001.3,2075 1348.8,2087.8 1159.9,2160.5 971,2065.8 1379.2,2065.9 1225.1,2007.7 1129.7,1987.6 1001.3,2139.2 1236.9,2254.6 978.6,2218.4 1348.8,2050 1268.8,2105.3 1243.1,2172.9 1273.3,2082.7 1326.2,1984.5 1144.8,2022.2 1296.4,2094.2 986.2,2171 1231.7,2249.6 1265.8,2210.1 1025,2027.3 986.2,2029 1341.3,2191.2 1333.7,2095.1 989.9,2106.9 1190.2,2112.2 1016.4,1901.9 1023.9,2118.7 1337.9,2036 1219.1,2183.5 1265.7,1965 1052.1,2044.9 1271.9,2135.3 1220.4,1996.2 1087.1,2175.5 1155.6,2076 1039,2256.7 1200,2128.2 1016.5,2088.7 1140.8,2206.8 1321.5,2047.1 1224.1,2050.1 1197.7,1993.4 986.2,2025.4 1303.5,2098.7 1205.3,2138.9 1357.6,2074.5 1348.8,2132.6 1341.9,2129.7 1167.5,2135.2 1273.3,2203.3 978.6,2200.5 955.9,2206.5 1280.8,2174.3 1227.9,2100.2 1356.4,2042.9 1061.7,2009.7 1151.1,1947 1280.8,1989 1197.7,2109.1 1318.6,1985.6 1107.1,2140.5 1311.1,2093.9 1324.8,2057.7 1341.3,2057 1114.6,2095.4 1342.7,2243.4 1060.5,2150.3 1197.7,2093.1 1380.1,2224 1205.3,1862.9 1197.7,2285.6 1092.6,2015 1159.9,2072.2 1153.3,2137.6 1227.9,2274.8 1166.5,2152.4 1072,2115.7 1016.4,2043.4 1385.5,2096.7 1208.5,2199.8 1011.9,2115.3 1076.8,2185 1212.8,1931.8 1039,2147.7 1341.9,2096.4 1167.5,1959 1227.9,1987.2 1220.4,2087.4 1011.3,2176.6 1345,2100.8 1311.1,1980.3 1001.3,2083.9 1182.6,2017.2 1167.5,2029.7 1059.3,2032.8 1099.5,2165.2 1039,2039.1 1205.3,1999.5 1129.7,1983.4 978.6,2248.4 1039,2176 1001.3,2041.3 1205.3,2188.4 1175.1,1981.1 1105.9,2105 1165.9,2170.9 1202.9,2081.5 1031.5,2241.8 963,2038.1 1362.2,2093.1 1013.8,2225 1039,2280.1 1243.1,2057 1384.3,2135.5 993.7,2016.2 1114.6,2157.5 1318.6,2082.7 976.7,2052.1 1039,2010.5 1194.8,1980.9 1306.3,2040.5 978.6,2126 1122.2,2113.1 1197.7,2100.6 1167.5,1991.7 1167.5,2057.1 1386.6,2021.6 1386.6,2044.2 1023.9,2046.5 1039,2088.2 1114.6,2139.7 982.2,1978.3 1001.3,2186.6 1182.6,2219.9 1386.6,2086.9 1061.7,2079.8 1022.9,2192.4 1205.3,2137.2 1058.2,2171.2 948.4,2181.4 981.9,2014.8 1330.2,1997.5 989.5,2125.1 1205.8,2231.5 1130.3,2083.4 1276.7,1981.6 1150.2,2183.3 1039,2153.2 1023.9,2112.7 1040.5,1934.7 1037.2,2218.4 1039.4,2247.6 1061.7,2168.5 1197.7,2232.2 1167.5,2051.5 971,2059 1129.7,2145.8 1340.7,2047.5 1348.8,2054.4 1069.3,2023.1 1000.6,2253.9 1061.7,2012.9 993.7,2279.9 1039.1,2091.3 1341.3,2026.6 1333.9,2066.2 1137.3,2122.6 1178,2088.5 1235.5,2081 1243.1,2025.9 1235.5,2094.4 1250.6,1949.6 1197.1,2060.2 993.7,1990.2 1236.2,2144.1 1217.5,2087.5 1007.8,2010.6 1016.4,2036.6 1208.8,2073.3 1107.1,2014.1 1296,2237.5 1051.7,2123.2 1220.4,2125.3 1196.3,2200.2 986.2,2215.2 1052.3,2164.8 1084.4,1994.4 1064.8,2057.7 978.6,1972.2 1039,2202.4 1167.5,2097.7 1039,2156.8 1205.3,2118.7 1125,1900.2 1137.3,2199.3 1023.9,2091.2 1281.6,1976.9 971,1935.5 1346.5,2105.7 1190.2,2112.2 1348.8,1919.7 1175.1,2057.6 1086.5,2187.3 1091.9,1994.2 1341.3,2115.3 1158.6,2061 1104.7,1996.4 1004.1,2240.7 1001.3,1949.8 1121.4,2130.6 1141,2009.9 1286.4,2134.3 993.7,2080 1137.3,2163.4 996.4,2021 1039.8,2110.7 1152.4,2170.1 1333.7,2028.2 992.8,2105.5 1008.8,1992.9 1239.9,2084.3 1167.5,2119.6 978.6,2070.9 1227.9,2073.5 1365,2080.8 1256.2,2112.2 1386.6,2106.4 1255.2,2101.8 1069.3,1966.1 1288.4,2060 1182.7,2095.3 978.6,1958.4 1088.2,2153.1 1348.8,2059.9 1212.1,2060.2 1094.6,2127.7 1243.1,2119.6 1235.5,2111 1008.8,2122 1144.8,2041.2 1288.1,2169.9 988.2,2179.9 1175.1,2056.3 993.7,2150 1054.3,2151.8 1271.8,1997.6 1092.8,2132 1302.8,2083.1 1252.6,2045.1 1208.1,2160.5 1001.3,2101.3 1137.3,1981.2 1333.7,2184.6 1205.3,2078.5 971,2080.8 1152.4,2134.4 1145,2175.1 1122.2,2106.6 1294.3,2241.8 1168.3,2106.3 1326.2,2064.8 1356.4,2088 1341.3,2111.7 1272.9,2001.3 955.9,2231.2 940.8,2121.9 1008.8,2128.1 1159.9,2253.9 1061.7,2199.2 995.7,2179.2 1343.7,2096.5 1127.8,2095.3 1020.8,1996.1 1152.4,2155.4 1379.1,2143.8 1248.7,2165.6 1341.9,2055.5 985.3,2102.2 1256.5,2124.2 1077.3,1990.6 1091.9,2089.7 1137.3,2108.4 1144.8,2217.2 1280.8,1981.8 1061.7,2201.1 1147.4,2058.4 1132.2,2168.8 1205.3,2124.5 1175.1,2009 953,2157.4 1318.3,1986.5 1203,2057.8 1001.3,1998.4 1149.6,2252.6 1341.3,2055.5 1333.7,2042.2 1112.6,2052.6 1039,2191.3 1356.4,1980.5 1247.1,2045.3 1220.4,2160.3 1114.2,1931.7 1326.3,2157.4 1019.9,2046.5 1306.7,2084.9 1288.4,2132.5 1159.9,2202.6 1093.3,2142.9 1232.9,1962.6 1108.1,2089.1 1122.2,2003.6 1054.2,2011.2 1273.3,2060.1 1001.1,2025.8 1154.1,2215.2 1140.5,2213 1386.6,2180.5 986.2,2108.3 1182.6,2182.5 1033.5,2006.3 1356.4,2238.9 993.7,1992.2 1344.6,2187.2 1210.7,2014.1 1015,2182 1125.3,2069.4 1057.1,2190.3 1152.4,2064.4 1303.5,2166.9 1152.4,2047.8 1384.4,2159 1338.6,2026.2 1031.5,2190.6 994.1,2031.2 1232.8,2178.5 1091.9,2143.5 1046.6,2163.2 1341.3,2243 1179.7,1979.3 1051,2062.5 1186.3,2215.1 1175.1,2231.4 1288.4,2057.7 1122.2,2092 1152.4,2048 1001.3,2132.8 1318.6,2137.9 1341.8,2088.4 942,2119.3 1265.2,2157.8 1380.9,2157.4 1326.2,2052.4 1288.4,2011.7 1021.7,2216.9 1385.4,2059.9 1099.5,2174.3 1326.2,2060.9 1273.3,2206.9 1197.7,2033.9 1362.6,2185.3 1364,2003 1135.5,1939.4 1145.2,2093.5 1341.3,2029.7 1137.3,2121.9 1326.2,2233.2 1039,2104.3 1039,2150.1 1107.1,2060.5 1060.1,2186.2 1137.3,2162.7 1031.5,2192.5 1008.8,2073.4 1100,2162.6 1015.4,1988.3 1075.7,2058.6 1116.8,2038.1 1351.3,2180.8 1119.8,2109.5 1201.3,2032.6 1341.3,2255.4 1135.9,2129.1 1056.3,1920 1182.6,2057.6 1306.3,2131.3 1054.2,2056.1 1250.6,2234.1 1150.3,2041.6 1167.5,1996.6 1205.3,2167.9 1143,2014.1 1016.4,2052.5 1039,2077.2 958.1,2055.6 1333.7,2135 1212.8,2263.3 1348.8,2106.7 1069.3,2024.3 1175.1,2120.1 1184.1,2001.3 1001.3,2088.2 1174,2081.6 1197.7,2181.2 1126.4,2006 1084.4,2206.7 1039,2209.9 971,2095 1194.5,2149.7 1016.4,1977.1 971,2077.8 1383.3,2060.3 1333.7,2024.1 1091.9,2055.6 1144.8,2041.6 1022.4,2176.9 1386.6,2182.3 1060,2038.8 1311,2106.6 1259,2044.4 948.4,2037.8 953.7,2066.8 1129.7,2027.7 955.9,2126.2 1341.3,2105.2 1370.5,2035.4 1200.8,2162.1 1059.1,2196.2 1023.9,2155 994.2,2081.2 1180.7,2068.5 1001.3,2095.1 1035.2,2189.6 1250.6,2044.5 1326.2,2041.1 1205.3,2162.1 1356.4,2228.6 1294.1,2262.5 1126.9,2062.1 1091.9,1968.4 1023.9,2114.3 1288.4,2126.9 1153.3,2096.6 1335.7,2197.7 1155.6,2245 1333.7,2066.9 1250.6,2184.4 1182.6,2072 1259.7,2243.7 1250.6,2123.8 954.4,2156 1298.3,2015.8 985.6,1987.8 1167.5,2080.5 1152.4,1937.7 1271.4,2123.6 1032.1,2110.9 1235.5,2151.3 1280.8,2063.2 1077.5,2173.7 1183.3,2110.3 1119.5,2051 1265.8,1969.9 1333.7,2065.7 1155.2,2060.4 948.4,2225 1341.3,2141.4 1190.2,1960.8 1014.3,2181.1 1253.8,1994.9 1136.7,2240.6 1008.3,2039.4 1076.8,2044.6 1200.7,2028.2 1080.3,2098.2 1004.3,1954.2 963.5,2075.8 1107.1,2026.9 1253.1,2024.7 1076.8,2184.1 1114.6,2083.2 1286.7,2142.9 1204.1,2170.9 1386.6,2005.9 1304.6,1983.3 1350.2,2250.3 1155,1922.7 1272.6,2134.6 1386.6,2082.5 948.4,2102.3 1142.3,1973.1 1258.2,2108.3 1039,2147.8 971,2096.4 1152.4,1907.2 968.1,2027.8 1004.3,2204.3 963.5,2090 1250.2,1965.2 955.9,2129.6 1341.3,2145.4 1175.1,2111.7 1114.6,2073 1001.3,2065.5 1107.1,2155.3 1039,2033.8 1326.2,2010.5 1150.3,2150 955.9,2078.7 1348.8,2164.2 1383.4,2135.1 1386.6,1981.8 1054.2,2158.4 1152.4,2070.1 1250.6,2167.6 988.3,2178.3 1129.7,2142 1072.4,2213.5 1323.8,2172.4 955.9,2134.7 1341.3,2120.6 955.9,2094.5 1343.8,2183 1139.2,2124.3 1016.4,2132.2 1067.2,1968.7 1345.2,2047.2 1019,2071.7 1296,2180.3 1333.7,2044.2 1063.3,2124.9 1192.4,1904.4 1162.3,2259.4 1349.7,2119.4 1016.4,2159.5 1099.5,1962.4 1223.6,1881.7 1001.3,2064.7 1046.6,1952 1276.7,2039.2 1212.8,2095.3 1180.8,2092.2 1326.2,2214.8 1039,1993.1 1341,2180.2 1068.1,2023.8 1341.3,2070.4 1250.6,2186.7 1250.6,2023.5 1197.7,1994 1270.7,1990.8 1061.7,2031.7 1250.8,2084.1 985.5,2070.9 1214.1,2076.8 1375.1,2106.3 1364,2169.7 1039,2041.1 1341.3,2016.1 1197.7,2163.7 1129.7,2241.5 1099.5,2101.9 1137.1,2030.2 1134.2,1966.9 1356.4,2044.9 1273.3,2066.7 1008.8,2171.5 1273.3,2015.2 1199.1,2063.1 1386.6,2007.1 1054.2,2022.7 1261.3,2105 1162.9,2037.2 1032.3,2190.1 991.2,2197.8 1338.9,2134.3 948.4,2064.6 1035.5,2130.2 1148.6,2143.1 1060.7,2192.3 1174.5,2100 1018.6,2164.1 1270.5,2129 1190.2,2038.3 1212.8,2230.5 1381.9,2185.8 1008.4,2121.2 1144.8,2072.7 999.2,2083 1061.7,1997.4 1152.4,1968.5 1262.7,2135.9 1019.6,2019.3 1297.5,2045.3 1253.5,2025 1152.4,2092.1 1331.3,2094.6 1129.4,2168.7 1386.6,2196.4 1365.6,2199.5 1129.7,2116.6 1355.2,2021.1 1273.3,2080 1171,2182.9 1197.6,2193.3 1288.4,2075.7 1364,2140.6 1343.1,2132.3 1364,2063 1114.4,2032.1 940.8,2206.3 990,2068.1 1099.5,2147.1 978.6,1950.9 1167.5,1968.6 993.7,2065.6 1064.1,2264.7 1063.4,2199.4 1341.3,2160.9 1144.8,2027.6 986.2,2166.3 1265.7,2050.5 1348.8,2211.9 1243.1,1970.2 942.4,2293.8 1311.1,2016.7 1025.9,2065.5 1303.5,2212.5 1300.7,2200.4 1231.7,2102.1 971.1,2173.8 1094.2,2055.6 994.7,2078.9 1273.3,2066 971,2059.7 1137.3,2103 1258.2,2226.9 1303.5,2196.8 1129.7,2133.4 978.6,2016.7 1332.1,1975.6 1061.7,2140.8 1150.8,2056.4 940.8,1845.2 1060.8,2101.3 1348.8,2079.4 1250.6,2005 1250.6,2182.7 1179,2083.6 991.7,2023.2 1031.5,2145.5 1353.8,2162.8 986.2,2163.1 1220,2081.5 1101.1,2153 1252,2072.7 997.6,2064 986.8,2207.8 1167.5,1926.3 1039,2224.1 1280.8,2248.8 1386.6,2063.1 996,2141.6 1039,2135.2 1006.6,2207.7 1107.5,2050 1038.9,2029.2 1197.7,2062.1 1099.5,2281.2 1159.9,2102.4 1326.2,2237.7 1329.5,1981.6 1016.4,2063.5 1046.1,2002.8 1182.6,1983.3 1148.3,2150.9 955.9,2156 1247.3,2106.6 1280.8,1994.4 1129.7,2039 996.2,2021.5 1238.6,2210.1 970.6,2292.4 969.4,2231.5 1182.6,2057.5 1129.7,2148.3 1386.6,2107.7 1039,2175.4 1013,2152.9 1070.2,2070.3 1333.7,2008.9 1235.5,2021.4 940.8,2101.7 993.7,2113.7 1356.4,2196.9 1182.6,2079.6 1122.2,2148.5 971,1905 1031.5,2010.8 958.6,2225.7 1317.1,2166.9 1341.3,1974.6 1167.5,2132.6 1279.9,2038.8 993.7,2132.5 1055.9,2115.1 1205.3,2276.6 1226.2,2188.8 1198.7,2037.7 978,2031.6 1341.3,2160.5 1037,1988.3 1232.8,2010.9 1326.2,2160.9 993.7,2167.3 1144.8,2047.1 1203.2,2214.7 1385.2,2082.2 1243.1,2070.8 1129.7,2033.8 1235.5,2059.5 1159.9,2110.2 987.5,2147 1031.5,2212.8 1205.3,2186.4 1227.9,2133.3 1129.7,2061.7 1046.6,1987.3 963.5,2075 1255.3,2160.4 1024.4,2092.8 1250.1,2062.9 1348.8,2122.4 1303.5,2026.3 1197.7,2305.3 963.5,2257.1 1244.9,2211.9 1379.1,2110.1 1059.2,2072.8 1311.1,2004.9 1168.8,2108.3 1275.9,2163.4 1250.6,2110.2 1151.1,2118.1 978.6,2018.4 993.7,2071.8 1051.4,2020.6 1243.1,2071.9 1107.3,2196.7 1326.2,2184.1 1220.4,2101.4 1339.7,2165.2 1280.8,2061.7 1132.3,2070.5 989.8,2053 1151.6,2102.5 1159.9,2075.4 986.2,2196.4 1001.3,2183.6 1386.6,2111.5 1304.1,2270 1091.9,2195.8 955.9,2031.6 1054.2,2018.9 1175.1,2003.9 1370.5,2232.9 956.9,2225.7 1250.8,2134.4 1364,2174.1 1361.6,2167.8 1197.7,2044.5 1280.8,2108.2 1227.9,2155 957.2,1977.1 1054,2058.2 1348.8,2145.6 978.1,2069 1007.6,2099.7 1203.8,2112.6 1338.6,2130.1 1094.3,1987 1197.7,2135.5 1379.1,1953.6 1311.1,2169 948.4,2130.5 1227.9,2090.6 986.2,2156.5 1356.4,1986.4 1250.6,2070.3 1341.3,2107.4 1152.4,2050 963.3,2102.3 1025.8,2186.5 978.6,2146.6 1265.7,1971.7 1335.1,2197.5 1140,1977.3 1313.4,1989.2 1031.5,2160.8 1128.2,1978.9 1129.8,1989.3 1152.4,2231.6 957.8,2112.3 1008.8,1973.1 988.8,1955.5 1212.8,2144.1 1152.1,2041.2 1386.6,2177.8 1201.7,2166.9 1022.8,2197.8 986.2,2259.2 1235.5,2230.2 1303.5,2233.4 995.4,2125.7 1159,2047.8 1364,2157.2 1342,2063.3 989.3,2027.4 1150.8,1979.7 1330.8,2206.8 1197.1,2086.9 955.9,2187 1083.4,2207.6 1054.2,2093 1076.8,2012.7 1377.8,1977 1299.7,1904.6 1386.6,2132.1 1280.8,2085.2 1371.5,2064.1 1124.9,2064.6 1348.8,2095.7 1165.2,2055.8 1299,2077.5 1023.9,2030.7 1332.3,1939.8 1117,1956.5 1348.8,2048 1061.7,2176.9 1106.5,2069.9 1152.2,2025.9 1332,2147.7 1250.6,2130.8 1046.6,2130.6 1153.9,2119.3 1317,2276.7 1333.7,2108.2 1258.1,2225.2 1069.3,2089.9 1342.9,1981.4 1107.1,2021.5 1250.6,2174.8 1289.6,2038.6 1234.7,2204.6 966.4,2106 1023.9,2048.5 1277,2043.6 1212.8,2168.1 1314,2054.3 1239.3,2220.4 1235.5,2185.8 1331.2,2155.9 1341.7,2103.6 1054.2,2114.9 1303.5,2031.8 1364,2084.9 996.5,2060.6 1137.3,2155.8 1165.2,2154.5 1171.3,2123.1 1325.3,2017.8 940.8,1944.2 968.3,2109 1273.3,1976.3 1054.2,2267.3 1147.3,2134 1001.3,2141.5 1363,2056.2 1149.6,2209.8 972.6,2015.4 1344.2,2154 1190.2,2024.8 1039,2118 978.1,2159.7 957.8,2096.1 1323.2,1996.5 997.5,2180 1175.1,1923 971,2210.4 1250.6,2107.4 1213.7,2193 1212.5,1955.8 1091.9,2103.1 1056.2,2122.2 1269.8,2017.1 1381.1,2132.4 1195.2,2119.1 1341.3,1938.9 1001.2,2125.2 1270.1,2163.4 1038.8,2204.3 1054.2,2188.6 955.9,1996.2 1348.8,2215.1 1001.3,1967 1036.4,2043.3 1085.7,2147.6 1128.6,2178.6 1296,2134.1 971,2026.2 969.9,2235.2 1031.3,2195.4 1333.7,2092 1305.1,2134 1344.6,2290.4 1152.4,1986.8 940.8,2107 1198.1,2141.8 1056.7,2075.3 993.7,2163.9 1061.7,2120.4 1250.6,2025.5 1186.4,2206.3 1257.5,2081.9 1205.3,2232 1190.2,2203.6 1175.1,2150.1 1273.3,2130.8 1235.5,2117.4 1221.4,2069.8 1073.9,2117.8 1024.4,1994.7 1272.3,2114.5 1205.3,2052.4 1273.3,2134.8 1069,1979 945.9,2069 1273.3,2119.5 1008.8,2164.9 1265.7,2085.7 962.7,2268.7 974.8,1961.2 986.2,2070.3 1002,2013.3 1296,2184 955.9,2038.5 1061.7,2014 1175.1,2037.5 1167.5,2222.1 1227.9,2131.8 1164.7,2072.9 993.7,2207.4 971,2156.3 1274.3,2162.3 1054.2,2150 1001.3,2086.6 1054.2,2128.1 995.2,1961.9 1273.3,2085.6 1021.6,2110.2 1190.2,2235.9 1120.3,1986.5 1182.6,2275 1337.8,2076.5 1152.4,2201.3 990.2,1999.3 1239.2,2149 1059.4,2032.1 1047.1,2043.2 1304.6,2246.8 1040.2,2163.1 1061.7,2129.2 1127.5,2155.3 1273.3,2073 1269.5,2251.3 1109.3,1966.7 940.8,2103.8 943.1,2097.7 986.2,2086.4 1386.6,2164 1128.8,2144.3 1152.4,2017.5 1232.5,2056.4 1152.1,1977.9 1008.8,2068.2 1243.8,2172.9 1018.1,2155.6 1073.3,2071.2 955.9,2140.7 1204.3,2102 1288.4,2153 1076.8,1931.4 963.5,2191 1084.4,1953.4 1008.8,2177.5 1024.3,2062.3 1220.4,2130 1204.2,2174.4 1197.7,1995.1 1127.7,2045.4 1197.7,2225.4 1144.8,2085.3 1099.5,2138.9 978.6,2148.2 1326.2,2107.4 1099.5,2067.9 1308.8,2158.8 1333.7,2227.4 1118,2009.1 1215.5,2040.6 1158.7,2020 1288.4,2086.8 1386.6,2039.1 940.8,2081.1 1328.8,2107.8 1039,2178.4 1023.9,2174.8 1240.3,2076.8 1039,2205.5 1152.4,2101.7 993.7,2045.3 948.4,2235.7 1153.3,2179.5 1001.3,2003.9 1341.3,2276.4 958.4,2203.7 983,2159.6 1341.3,2162.9 1040.6,2139.9 1205.3,2171.6 955.9,1977.8 1235.5,2160 1159.9,2220 1293.9,2169.4 1235.5,2205.1 1220.4,1961.8 1152.4,2050.5 1182.6,2180.2 1272.3,2031 1094.3,2005.1 1220.4,2127.3 996.9,2100.9 1326.2,2113.5 1201.1,2017.2 1001.3,2168.9 1036.7,1933.7 1076.8,2107.5 971,2141.3 1149.1,2228.4 1159,2083.7 1176,2011.4 1114.6,2108.9 1017.3,2063.5 1258.2,2052.3 1133.3,2200.9 940.8,1997 1267.3,2179.3 955.9,1924.9 1197.7,2061.2 1166.2,2169.2 1341.3,2206.8 1341.3,2035.4 1084.4,2029.8 1179.6,2111.5 995.2,2246.7 1167.5,2169.5 1062.5,2038.2 1123.6,2260 1099.5,2025.2 1341.3,1919.3 1179.4,2024.6 1313.9,2021.9 1129.7,2025 1076.8,2114.5 1355.6,2249.9 1069.3,2152.5 955.9,2106.2 1031.5,2228.8 1258.2,2090 1127.9,2050.3 1273.3,2078.3 1238.5,2182.1 1341.3,2142.2 1001.3,1996.1 1334.1,2208.4 1016.4,2123.1 1129.7,2173.7 1345.9,2122.6 1076.3,2088.1 1183.1,2096.9 1093.8,2155.1 986.2,2046.5 1152.4,2035.1 963.5,2044.9 955.9,2212.5 1137.3,2055 1069.3,2070.9 1303.5,2173 1155.3,2190.7 1078,2030.3 1036,2027.4 1332.4,2199.4 1282,2087.2 1182.6,2069.3 993.7,2055.4 1167.5,2077.6 963.5,2010.5 993.7,2039.6 1099.3,2171.1 973.7,2148.5 963.5,2043 1168.4,2101.1 1288.4,2119.9 1036.6,2012.3 1311.1,2196.8 1001.1,2110 1129.7,1934.7 1091.9,2032 1272.7,2062.6 1172.1,2045.3 1176.1,2101.4 968.6,2224.1 1016.4,1994.5 1035.7,2090.3 1237.8,2220.9 1323.5,2197.9 1338.6,2081.9 1311.1,2080.9 1306.9,2263.7 1302.6,2053.6 1203.6,1984.6 963.5,2121.8 986.2,1992.8 963.3,2042.9 1243.1,2057.2 1232.1,2302.1 1001.3,2134.7 1054.2,2084.6 999.6,2068.1 1312,2119.8 1274.8,2064.3 1235.5,2066 1194.5,2155.1 1152.4,2259 1137.3,2107.5 991.3,2046.5 1155.4,2232.3 1182.6,2095.9 1205.3,1999.1 981,2084.5 1341.3,2156.6 1235.5,2033.6 1218.8,2018.4 1039,2191.5 1152.4,2176.9 1205.3,2226 1017.8,2220.7 1221.2,2103.3 1191.9,1910.5 1270.2,1891.3 1167.5,2046.6 1235.5,2162.5 1357,2182 1212.8,2058.7 940.8,2122.1 972.9,2115.9 1107.2,2157.4 1129.7,1996.3 1197.3,2132.6 1118.9,2076.4 1132.2,2069.7 971.4,2064.5 1304.1,2153 1152.4,2050.8 1348.8,2174.6 1341.3,2091.5 1364.9,2164.8 1211.3,1986.4 963.5,2126.9 1114.6,2063.1 1152.4,2225.7 1039,1976 955.9,2243.2 1250.6,2186.3 1273.3,2191.5 1016.4,1921.8 951.2,2156.5 1248.6,2047.3 1231.5,2187.2 993.7,2243.7 1016.2,2037.3 1039,2115 1212.8,2219.3 1324.5,2060.8 1303.5,2031.5 1016.4,2030.4 1066.8,2099.1 1164.3,1961.8 1202.2,2128.8 1042.5,2068.5 1084.4,2056.1 1196.7,2112.1 1209,2130.4 1259.3,2101.2 1170,2096.1 955.9,2045.6 1039,1956 1170.4,2046.5 1063.3,2063.4 1386.6,2065.5 1039,2246.7 1326.2,2113.3 1023.9,2082.5 1273.3,2098.6 1235.5,2049 1385.6,2026.2 1220.4,2075.2 1341.3,2160.5 1332.1,2002.5 1091.9,2054.6 1175.1,1952.1 978.6,2068.9 1027.2,2157 1333.7,2161.8 1020.5,1997.4 1070.5,2021.7 1016.4,1978 1296,2113.1 1000.5,2167.4 1197.7,2127.1 1011,2205.5 1311.1,2217.3 1001.3,2200.7 1199.4,2088.7 1365.2,2143 1227.9,2059 1181.1,2151.9 1254.7,2066 1129.7,2145.8 986.2,2127 1250.6,2016.6 1333.7,1985.7 1039,2051 1144.8,2061.9 1303.5,2124.8 1053.8,2151.4 1069.3,2230.9 1074.1,2149 1001.3,2079.7 1341.3,2007.8 1215.8,2175.4 1220.4,2096.3 1276.8,2191.9 1327.3,2163.5 1159.9,2166.5 1371.5,2151 942.3,2229.3 1039,1992.3 1013.4,2111.3 1197.7,2155.2 1267.3,2139 1311.1,2060.5 1386.6,2015.8 1342.4,2011.1 1144.8,2117.5 1150.4,2068 1159.9,2181.3 940.8,2059.1 1146,2249.8 1243.1,2079 963.5,2071 1054.2,2070.7 1004.8,2072.3 975.3,2074.6 1069.8,2026 1137.3,2061.6 986.7,2182.4 1212.8,2149.5 1220.4,2004.6 1384.1,2236.1 1243.1,2245.7 955.9,2284.8 993.7,2030.3 1341.3,2123.6 1001.3,2119.8 1026.1,2118.8 1145.7,2149 1285.8,2125.9 1148.2,2129.7 953.4,2067.2 1092.6,2121.4 1363.1,2040 1039,2073.5 1235.5,2146 1061.7,2066.8 963.5,2014.6 1081.8,2111.7 1152.4,2042.6 1326.2,2186.7 1016.4,2115.3 1330.3,2183.9 993.7,2145.5 1070.8,2208.1 1129.7,2139.2 1360.2,2148.3 1099.5,2149.7 1078.9,2143 955.7,2158.1 1040.1,1955.2 1205.3,2078.4 1250.6,2034.7 1127.2,2115.5 1349.5,2134.1 959.2,2022.7 1205.3,2175.6 1099.5,2240.2 1152.4,2082.6 1067.3,1942.9 995.3,2013.2 1001.3,2133.6 981.6,2044.1 1178.9,2035 1383.2,1970.1 993.7,2180.2 1333.7,2176.9 1220.4,2008.5 1057.8,2259.3 1001.3,2184.9 1016.7,2058.7 1368,1976.8 1184.8,2247.9 1385.2,2147.9 1039,2064 996.2,2045.9 1175.1,2182.3 978.6,2074.7 1146.8,2152.6 1159.9,2093.6 1358.1,2123.3 1243.1,2176.1 940.8,1974.8 955.9,2186.1 940.8,2107.5 1169.7,2131.8 1182.6,2127.5 1175.1,2091.3 1336.9,1955.2 1023.9,1978 1167.5,2110.3 1326.2,2024.5 1235.5,2187.2 1088.6,2095.8 971,2224.2 981.8,2126 1362.6,2110.4 996.1,1987.4 955.9,2165.1 1283.2,2172.7 1176,2199.3 1140,2009.9 1214.6,2061.5 1036.7,2204.1 1102.4,2224.9 1056.4,2045.4 1008.8,1952.2 1235.5,2078.5 1101.5,2011.7 1107.1,1997.3 1180.9,2173 1212.8,2030.9 1271.5,1971.8 1235.5,2120.6 1061.7,2104 971,2177.2 1197.7,2189.5 1023.9,1953 1114.6,2049.8 1333.7,2174.7 966.8,2012.2 1089.9,2063.5 1024.5,2166 1152.4,2105.9 1161,2169.4 1039,2039.2 1348.8,2060.9 1183.8,2061.7 993.7,2181.9 1282.5,2235.2 1220.4,2161.6 1107.1,2099.8 1273.3,2071.5 1268.5,1984.8 1077,1970.5 1338.3,2092.3 1212.8,2222.7 963.5,2173.7 1016.4,2040.4 955.9,2163.7 1205.3,2052.8 984,2032.6 1144.8,2049.1 1154.7,2152.4 963.5,2058.5 1384.8,2070.9 1348.8,2104.9 1386.6,2014.1 1083.6,2009.1 1054.2,2197.9 1001.3,2073.4 1386.6,2087.9 1270.4,2161.5 993.7,1943.1 940.8,2173.4 1304.4,2003.7 1054.2,2049 1091.9,2052.3 1274.6,2127.9 1288.4,2202.2 1167.5,1991 1323.8,2059.6 1144.8,2011.8 1129.7,2164.5 1208.6,2111.8 1161.2,2176.2 1054.2,2046.5 1258.2,2184.1 1228,2170.6 1008.8,2018 1182.6,2222.8 1159.9,2182.9 1175.1,2065.1 1174.6,1975.1 1235.5,2128.7 1134.6,2004.5 1159.9,1942.1 1341.3,2229.8 963.9,1992.7 1258.2,2189.7 966.6,2188.3 959.4,2037.2 1333.7,2060.2 983.3,2054.9 972.6,2091.6 1293.6,2137.7 1070.5,2024.2 1137.3,2089.4 1193.2,1985 1152.4,2127 1251,2159 1129.7,2142.7 1280.8,1944.1 1071.4,2192.1 993.7,2045.7 1273.3,2138.3 1347,2111 1311.1,2003.7 971,2052.9 1144.8,2146.5 1205.3,2066.7 1182.6,2153.6 1302.1,2147 1386.6,2098.9 1204.1,2159.5 1333.7,2131 1091.9,2163.9 1159.9,2113.8 1337.4,1869 1034.5,2189.6 1182.6,2076 1207.1,2193.2 1061.7,2166.8 1259,2222 1265.7,2179.1 1197.7,2035.7 1026.6,1969 1035.5,2041.1 1172,2152.3 1038.6,2068.5 1246.7,2242.7 1250.6,2076.4 980.4,2004.1 1203.8,2174 1235.5,2133.5 1220.4,2139.8 1280.8,2015 1235.5,2268.2 1011.3,2255.1 1050.4,2182.3 1227.9,2097.2 1277.3,2244.6 1029.9,2021.2 1137.3,2054.1 995.7,1933.3 1250.6,2116.6 1296,2007.7 954.8,2043 1303.5,2103.7 1058.2,2016.1 1091.9,2145.3 1114.4,2096.4 1338.3,2158.9 1091.9,2023.3 1288.4,2041.2 1386.6,2175.1 1237.7,2007.7 1227.9,2112.5 1227.9,2052.3 1175.7,2084.6 955.9,2054.9 1107.1,2119.2 1084.4,2001.3 1016.4,2090.1 1241.9,2199.5 1016.4,1941.1 1019.5,2022 978.6,2058.5 1078.9,2265.8 1129.7,2093.2 1341.3,2232.6 978.6,2153.4 1255.5,2029.6 1040.1,2142.3 1311.1,2106.1 1103.5,2055.9 1205.3,2071.1 1205.5,2026.8 1273.3,2089 1326.2,2211.5 1178.3,2157.3 1167.5,2030.9 1091.9,2061.7 1121.2,2228.6 1343.9,2175.9 1054.2,2059.9 1198.5,2117.7 1082.1,2098.5 1298.5,2192.9 1083.4,2118.7 1023.6,1979.1 1131.9,2062.9 1164.8,2038.5 1016.4,2023.3 968.6,2177.7 1058,2081.8 968.2,2096 1280.8,2125.2 1080.4,2070.6 1226.4,2233 1326.2,2083.9 1167.5,2195.1 1333.7,1964.2 1152.4,2151.2 967.4,2016.2 1153.2,2167.4 1099.5,2150.7 1091.9,2233 1144.8,2155.4 1324.6,2179.3 1277,2184 1275.7,2137.4 1017.4,2004.8 1250.6,2031.4 1267.8,2050.4 1035,1908.5 1353.8,2104 1107.1,2095.5 1326.2,2121.1 1152.4,2129.9 1145.7,2232 1221.6,2141.4 1273.3,2103.7 1048.4,2152.3 1235.5,2095 994.7,2152.5 1034.5,2236.4 1091.9,2068.3 940.8,2122 1303.5,2172.4 1151.4,2104.9 1013.2,2026.6 1203.7,2124.5 1057.1,2156.4 1008.8,2091.3 1091.8,2101.2 1039,2101.2 1039,2168 1338.1,2042.3 971,2252.8 1159.9,1950.2 1168.3,2154.4 1159.9,2119 1362.5,2250.8 955.9,2019.4 1280.8,2012.7 963.5,2104.1 975.5,2103.8 1125.1,2106.5 1167.5,2076.2 1167.5,2153.7 1062.4,2156.4 1379.1,2138.4 1318.6,1996.9 1182.2,2209.6 1357.1,2111.2 1063.5,2061.6 1332.2,2112.6 1129.7,2062 951.9,2087.5 1342.8,2150.4 1042.1,2209.5 986.2,2121.6 1023.9,2143.5 1250.6,2114.5 1250.6,1970.3 1323.4,2003.2 1038,2215.6 1026.7,2256.2 1352.5,2190.1 1039,2222.7 982.2,2155.1 1284.3,2120.8 1016.4,1993.4 1205.3,2031.7 1054.2,2019.8 1227.9,2000.2 1103.4,1994 1303.5,2137.8 1037.1,2006.5 954.9,2030.1 1084.4,2175 955.9,2103.8 1029.5,2158.2 1039,1974.4 1042.5,2060.2 1014.1,2141.8 1061.7,1952.9 1227.9,2173 971,2158.4 1296,1971.7 993.7,2068.9 1273.3,2142.2 1243.1,2093.5 1155.6,2189.2 1129.7,2305.5 966.3,2099.8 1348.8,2100.8 1204,1898.7 1039,2036.7 1010.9,2005.6 1341.3,2088.2 1198.2,2139.5 1303.5,1992 1280.8,2197.3 955.9,2111 1336.3,1981.4 1220.4,2056.7" fill="none" stroke="none" marker-start="url(#mo)" marker-mid="url(#mo)" marker-end="url(#mo)"/>
<path d="M945.2 2099.9C964.7 2100.7 1025 2103.1 1062.1 2104.6C1099.2 2106.2 1137.5 2107.7 1167.7 2109.1C1197.9 2110.6 1219.5 2112.4 1243.5 2113.2C1267.5 2114 1289.2 2113.8 1312 2113.9C1334.8 2114 1369.2 2113.9 1380.6 2113.9" stroke="#000" stroke-width="7.2" stroke-dasharray="7.2 15.7" fill="none"/>
<path d="M919.3 1764.2V2334.5H1411.2M978.6 2334.5v16M1167.5 2334.5v16M1356.4 2334.5v16M919.3 2255.4h-16M919.3 2142.2h-16M919.3 2029h-16M919.3 1915.8h-16M919.3 1802.6h-16" stroke="#000" stroke-width="3.4" fill="none"/>
<text x="978.6" y="2397.8" text-anchor="middle">25</text>
<text x="1167.5" y="2397.8" text-anchor="middle">50</text>
<text x="1356.4" y="2397.8" text-anchor="middle">75</text>
<text x="888.3" y="2271" text-anchor="end">0.5</text>
<text x="888.3" y="2157.8" text-anchor="end">1.0</text>
<text x="888.3" y="2044.6" text-anchor="end">1.5</text>
<text x="888.3" y="1931.4" text-anchor="end">2.0</text>
<text x="888.3" y="1818.2" text-anchor="end">2.5</text>
<text x="1165.2" y="2456" text-anchor="middle">Age</text>
<text transform="translate(792.5 2049.3) rotate(-90)" text-anchor="middle">AAD (°C)</text>
<text x="1163.7" y="1739" text-anchor="middle" font-size="51.7">Male 35min Coarsing</text>
<polyline points="1983.4,2255.5 1989.9,2089.9 1741.8,2188.1 1847.5,2189.8 1794.7,2028.1 1749.4,2008.8 1900.3,2248.7 1779.6,2119.7 1911.9,2165.1 1907.9,2233.1 1688.4,2205.3 1832.4,2237.6 1808.6,2055.8 1942.4,1937.8 1680.2,2248.8 1713.8,2227.6 1863.6,2207.6 1817.5,2237.8 1928.6,2131.5 1785.1,2179.4 1726.7,2203.6 2043.8,2266.2 1744.6,2255.5 1700.4,2187.5 1756.9,2264.2 1787.1,2138.4 1731.6,2214.6 1886.2,2131 2047.5,2194.9 1693,2147 1814.4,2171 1930.5,2232.8 2021.1,2235.1 2073.9,2229.1 1704.1,2180.4 1885.2,2149.6 2021.1,2219.3 1666.4,2073.4 1910.3,2222 1718.9,2240.7 1968.3,2237.2 2045.9,2237.2 1886.5,2092.6 1636.2,2120.5 1666.1,2158.4 1820.6,2199.9 2006,2193 1734.3,2243.5 1930.5,1963.6 1816.8,2158.8 1749.9,2113.2 1937.6,2120.5 1769.5,2194.2 1811,2201.8 1967.2,2243.5 1851.3,2201.5 1968.3,2214 1862.6,2264.7 1711.6,2172.8 1832.4,2246.8 2013.2,2218 1899.7,1986.6 2048.5,2084.6 1636.2,2248.2 1794.4,2183.1 1964.7,2186 1937.3,2083.6 1892.8,2024.2 1930.5,2201.5 2013.6,2231.5 1936,2181.5 1881.9,2169.8 1900.3,2265 1930.5,2186.1 1784.3,2214 1930.1,2072.6 1917.3,2164.7 1970.8,2192.1 1847.5,2142.1 1643.7,2193 1885.2,2191.1 2006,2189.7 1919.5,2265.4 1923,2146.4 1810.2,2123.4 1798.9,2145 1943,2129.9 1676.5,2239.5 2011.1,2197.7 2013.6,2217.2 2050.2,2221.7 1706.9,2242.3 1696.5,2231.7 2017.6,2215.1 1817.3,2242.5 1757.6,2211 1807,2245.1 1930.5,2177.4 1711.3,1992.5 1847.5,2174.5 1930.5,2209 1945.6,2256.8 1636.2,2221.8 1983.4,2170.7 1832.4,2189.4 1830.2,2210.4 1900.3,2267.2 1756.9,2242.8 2022.1,2191.7 1734.3,2237.9 1884.2,2151.2 1711.6,2185.5 1915.4,2244.8 2028.7,2075.2 2021.1,2282 1703.6,2213.7 1919.1,2259.5 2021.1,2227.4 1726.7,2158.1 1817.3,2098.3 1945.6,2184.1 1953.2,2217.3 1834.4,2186 1926.2,2252.5 1930.5,2212.2 1794.7,2144.6 1923,2189.1 1900.3,2161.7 1937.8,2226.2 1859.4,2164.4 1787.1,2203.4 1831.6,2239 2033.6,2264.8 1715.9,2272.5 1707,2233.3 1636.2,2212.8 2006,2202.6 2073.3,2245.6 1734.3,2244.6 1755.1,2172.9 1726.7,2162.4 1906.9,2173.7 1847.5,2176.5 1987.9,2234.2 1734.3,2164.6 2010.8,2183.2 1840,2134.5 1983.4,2220.1 1984.4,2249.2 2037.1,2147.5 1851.7,2135.1 1904.4,2211.9 1892.8,2273.5 1726.7,2231.9 1855.1,2132.5 2045.8,2240.7 2035.8,2235.5 1643.7,2104 1930.5,2199.6 1787.1,2194.8 1703.2,2225.5 1704.1,2171 1972.5,2199 2053.7,2177.6 1870.1,2264.5 1809.8,2108.4 1862.6,2043.8 1998.5,2180.6 1960.7,2223.5 1666,2090.5 1734.3,2092.2 2011.9,2238.7 1855.1,2202.5 1919.2,2192.2 1967.7,2243.1 1923,2209.8 1953.2,2147.2 1887.6,2018.7 1734.3,2260.7 1722.8,2147.6 2072.4,2262.6 1636.2,2216.1 1937.1,2165.8 2021.1,2249.3 1734.3,2168.8 1655.3,2210 1817.3,2150.4 1787.1,2250.5 1840,2018.3 1824.3,2238.5 2051.3,2238.7 1693.6,2242.8 2051.3,2126.5 1652,2158 2043.4,2207.5 1787.1,2074.6 1943.2,2250.4 1636.2,2228.6 1832.4,2180.6 1938.1,2238.2 1915.4,2217.6 1983.4,2216.3 1709,2204.3 1817.7,2180.5 1915.4,2247.5 1643.7,2102.8 1998.5,2207.4 1813.6,2229.3 1741.8,2218.4 1731.6,2173.9 1919.6,2209 1658.8,2151 1741.8,2074 1767.6,2193.5 1749.4,2255.3 1953.2,2188.1 1907.9,2195 2031.8,2203.7 1938.6,2213 1762.4,2256.6 1787.5,2208.5 1695.1,2177.9 1741.8,2200.5 1907.9,2082.9 1951.6,2073.7 1764.2,2264.3 1797.6,2017.4 1983.4,2252.2 2051.3,2231.4 1681.4,1849.4 1674,2045.2 1968.3,2146.6 1858.4,2243.1 1825.3,2190.5 1919.5,2172.6 1971.6,2243.7 1674.1,2160.8 2051.3,2258.6 2054,2117.1 1817.3,2198.9 1851.3,2235.5 1756.9,2079.3 1907.9,2147.3 1726.7,2066.8 1882.7,2253.8 2028.7,2235.9 1855.1,2204 1999.6,2264.2 1719.7,2183.4 2017.5,2206.4 1696.5,2200.8 1734.3,2196.3 1946.8,2259.7 1764.5,2154.6 1696.5,2074 1683.1,2245.6 1975.8,2251.8 1636.2,2184.3 1666.4,2240.1 2049.5,2246.2 1968.3,2224.6 1801.4,2251.3 1726.7,2257.1 2013.7,2152.3 1972.5,2248.3 1933.5,2151.6 1877.7,2236.8 1870.1,2159.4 2066.4,2234.1 1866.9,2257.9 1680.2,2157.4 1673.9,2197.2 1908.7,2235 1953.2,2018.7 1915.4,2065.1 1953.2,2251.1 1764.5,2200.6 1810.6,2217.5 1752.1,2233.1 1807.5,2167.4 1756.9,2140.8 1999.7,2141.5 1704.1,2242.5 1731.5,2156.5 1945.6,2120.9 1809.8,2268.8 1794.7,2214.5 2058.8,2245.1 2021.1,2171.1 1735.8,2252.6 1711.6,2195.7 1855.1,2211.2 1900.3,2237.3 1794.7,2198.6 1908.4,2261.3 1938.1,2251.2 1983.4,2246.8 1744.7,2141.5 1923,2107 1666.4,2201.7 1676.6,2211.8 1666.4,2254.6 1692.8,2250.4 1968.3,2200.6 1809.8,2122.4 1853.1,2221.1 1833.3,2232.3 1733.1,2222.7 1647.7,2146.4 1719.2,2095.5 2006,2211.8 1787.1,2215.1 1827.4,2185.5 1752.9,2222.4 1953.2,2210.2 1938.1,2131.3 1809.8,2169.1 1852.8,2258.4 1807.5,2020.7 1900.3,1889.9 1909.7,2257.9 1900.3,2224.4 2028.1,2177 2051.3,2132.8 1662.4,2259.9 1808.7,2059.1 1651.6,2088.2 1811.6,2153.4 1983.4,2212.1 1938.1,2268.7 1900.3,2193.7 1681.4,2227 1982.9,2187.8 1915.4,2223.7 1764.5,2245.9 1971.3,2032.6 1651.3,1883.2 1718.2,2252.7 1975.8,2193.6 1650.6,2236.3 1704.1,2137.1 1858.2,2239.2 1945.6,2178.3 1906.5,2227.9 1654.9,2140.3 1759.4,2262 1945.6,2179.8 1794.7,2182.2 1726.7,2163.8 1636.2,2173.8 1752.6,2081.6 2043.8,2128 1656.1,2218.4 1881.7,2199.5 2036.2,2243.6 1938.1,2228 1756.9,2037.4 1923,2244.6 1698.2,2126 1855.5,2069.4 1749.4,2143.5 2013.6,2137.7 2009.6,2249.6 1969.5,2225 1809.8,2234.1 1975.8,2105 2065.7,2217.9 1801.7,2231.5 1870.1,2203.7 1711.6,2102.5 1697.2,2245.5 1945.6,2156 1666.4,2178.1 1907.9,2211.3 1696.4,2165.5 1930.5,2234.1 1960.7,2246.7 2047.2,2261.7 1809.8,2175.4 1810.7,2254.7 1817.3,2225.2 1945.6,2239.6 1975.8,2150.3 1696.8,2277 1787.1,2214.7 1669.1,2188 1734.5,2178.8 1953.2,2208.9 2043.8,2160.3 2066.4,2219.8 1673.7,2212.1 1817.3,2184.7 2013.6,2193.4 1855.1,2185.8 1794.7,2172.2 1964.8,2133.2 2009.4,2113.5 1701.3,2238.6 1870.1,2236 1703.5,1984 1715.8,2210.8 1877.7,2271.1 1741.8,2200.6 1983.6,2186.8 1802.2,2111.3 1716.7,2165.2 1916.1,2168.6 1749.4,2178.4 1676.9,2103.2 2073.9,2265.4 1719.2,2187 1704.1,2170.3 1847.5,2187.3 1636.2,2090.9 1975.1,2253.5 1677.1,2086 1647.9,2125.5 2051.3,2253.8 1860.8,2208.4 2042,2214.7 2028.7,2275.8 1955.9,2205.4 1643.8,2216.3 1926,2230.6 1673.9,2262.2 1639.2,2166.2 2007.6,2117.6 1762.8,2090.5 1960.7,2124.5 1880,2176.7 1965.7,2149.8 1923.3,2255.7 2062.1,2234.3 1847.5,2208.3 2009.3,2207.7 1990.9,2231.5 1909.6,2208.8 1851.3,2143.2 1825.2,2250.2 1926.4,2170.4 1726.7,2195 1835.2,2174.3 1919.4,2193.5 1769.6,2175.3 1734.3,2208.9 1687.4,2115.6 1983.3,2140.7 2016.1,2171.7 2000.4,2241.3 1947.2,2216.5 1908.4,2191 1669.6,2000.9 2021.1,2167.9 1847.8,2167.1 1938.1,2127.2 1696.5,2244.7 1953.2,2171.4 1704.1,2281 2050,2233.6 1946,2197.8 1877.7,2256.8 1923,2276.5 1731.9,2250.7 1855.3,2176.4 1684.8,2166.4 1756.9,2174.2 1756.9,2204.2 1708.6,2117.6 1817.3,2166.3 1666.4,2218.1 1640.3,2188.3 1785.2,2024.2 2073.7,2236.2 1943.4,2251.7 1824.9,2252.4 1723,2265.1 1696.5,2247.2 1814.5,2103.2 1923.4,2168.9 1990.9,2182 1838.4,2149.4 2009.2,2238.4 1983.4,2227.2 2006,2206.3 1787.1,2087 1840,2222.4 1711.6,2248.6 1907.9,2241.6 1651.3,2065.7 1847.5,2205.5 1711.6,2245.5 1848.1,2183.9 1719.2,2142.1 1636.2,2225.8 1828.6,2229.1 1824.9,2241.3 1885.2,2262 1695.9,2212.3 1852.9,2157.6 1766.2,2158.2 1673.9,2194.8 1818.4,2254.1 1932,2200.6 1764.5,2125.6 1945.6,2138.8 1975.8,2233 1636.4,2230.9 1736.5,2126.4 1754.6,2187.7 1907.9,2101 1847.5,2140.9 1900.3,2128.2 1677,2186.5 1756.9,2244.9 1711.6,2163.2 1953.2,2218.3 1937.9,2168.8 1764.5,2203.5 2015.9,2175.9 1706.2,2220.3 1638,2179.9 1813.2,2127.9 1930.5,2102.3 2053.3,2256.6 1855.1,2182.4 1705.3,2173.4 1908.6,2191.7 1636.2,2185.1 1990.9,2199.1 1787.1,2216 1689,2154.9 1703,2070.6 1998.5,2263.7 2028.7,2114.5 1719.2,2245.6 2073.9,2229.7 2007.6,2244.8 1790.2,2152.9 1658.8,2199.9 1700.5,2152.2 1832.8,2266.3 1734.3,2193.3 1718.9,2131.4 1756.9,2193.7 2013.6,2248.8 1651.3,2181.6 2038.2,2098 1830.9,2133.5 1953.2,2123.5 1862.6,2238.1 2051.3,2213.2 1719.2,2219 1747.4,2201.6 1855.1,2240.1 1857.7,2230.8 1787.1,2094.1 1764.5,2244.9 1683.8,2141.5 1853,2207.3 1998.5,2233.6 2017.1,2169.1 1814.7,2186.6 2068,2127.6 2048.4,2047.7 1779.6,2150.9 1693.3,2207.8 1998.5,2234.3 2041,2265.7 1923,2200.2 2051.3,2237.1 1847.5,1999.1 1867,2225.7 1673.9,2219.6 1800.6,2237.8 2042.3,2216.6 1687.2,2217.5 1704.1,2258.6 1643.7,2099.5 1855.1,2171.4 1906.6,2074.3 1880.8,2159 2013.6,2208.9 1938.1,2143.9 1923,2205.5 1907.9,2125.7 1857.8,2198.9 1673.9,2170.2 1681.4,2258.4 1923,2222.5 1732.5,2169.8 1813.7,2188.8 1923,2207.1 1907.9,2122.9 1741.8,2101.3 1756.9,2245.8 1704.1,2184.7 1930.5,2176.5 1948.2,2025.3 1701.4,2169.6 1760.5,2215.1 1706.9,2194.4 1914,2117.9 1764,2274 2013.6,2149.6 1757,2105.2 1925.8,2212.2 1923,2126.6 2047.8,2241 1945,2247.9 2043.8,2264.9 1907.9,2211.8 1636.2,2158.1 1787.1,2186.4 1950.2,2256.1 1794.7,2192.9 1923,2171.3 1696.5,2160.9 1925.1,2100.5 1806.4,2241.5 2051.3,2194 1673.9,2196.9 1802.2,2191.4 1969.9,2231.7 1811.9,2194.8 1838,2252.5 1787.1,2224 1691.4,2119.2 1779.6,2223 2013.6,2224.3 1968.3,2187.4 1772,2160.5 1929.1,2121.6 1974.8,2240.1 1975.8,2218.7 1665,2243.6 1713.5,2162.1 2053.8,2209.4 1756.9,2182.5 1968.3,2248.6 1915.4,2163.3 2014.1,2253.6 1674.2,2243.2 2043.8,2234.6 2013.6,2245.2 1737.9,2157.4 1944.2,2200.3 1636.2,2223.5 2008.3,2150.2 1817.3,2157.4 1953.2,2218.8 1973.8,2240.7 1643.7,2236 2021.1,2198.9 1688.8,2193 1711.6,2174.7 1840,2179.9 1741,2177.4 1923,2234.7 1724.3,2172.6 1915.4,2207.5 1968.3,2275.1 2051.3,2235 1817.3,2122 1756.9,2173.5 1897.6,2224.5 1923,2229.1 2037.4,2194.2 1909.6,2223 1828.7,2257.4 1764.5,2250 1945.5,2001 1923.8,2219.8 1673.9,2188 1764.5,2185.6 1711.6,2171.7 1855.1,2159.3 1809.8,2194 1711.6,2212.4 1876.8,2212.9 1927.7,2209.5 1794.7,2065.8 1996.1,2086.8 1685.6,2140.6 1666.4,2037.6 1942.8,2229.1 1903.1,2237.4 1960.7,2275.5 2040.9,2165.4 1862.6,2177.3 1983.4,2254.2 1923,2175.1 1862.6,2216.1 1855.1,2188.7 2073.9,2157.7 1792.7,2158 1824.9,2201.9 1847.5,2220.2 1922,2142.9 1666.4,2238.7 1921.5,2187.8 1648.9,2121.2 1809.8,2095.3 1832.4,2256.5 1900.3,2174 1900.3,2215.4 1907.9,2214.7 1643.7,2122.1 1783.6,2183 1953.2,2281.2 1817.3,2154.3 1990.9,2249.8 1885.2,2171.1 1900.3,2229.1 1936.1,2236.3 2066.4,2214.2 1636.2,2151.2 1696.5,2234.2 1681.6,2095.4 1734.3,2221 1636.2,2160.8 2073.9,2092.3 1704.1,2210.7 1843.9,2185.4 2021.1,2174 1847.5,2145.7 1741.8,2124 1764.5,2186.6 1823.5,2194.6 1772,2182.7 1847.5,2221.2 1817.3,2262 1673.9,2168 2013.6,2208.8 2051.3,1975.2 1900.1,2223.8 1681.4,2241.4 2036.2,2237.2 1802.2,2222.2 1810.2,2166.7 1749.4,2217 2041.7,2183.3 1938.1,2230.6 1762.4,2219.3 1799.3,2188.1 1824.9,2193.2 1809.9,2252.1 1930.3,2180.6 2051.3,2222.8 1651.3,2009.3 2009,2219.5 2007.6,2194.5 1734.3,2235.2 2069,2187.2 2013.6,2233.7 1945.6,2197.5 1685.8,2130 1831.3,2251.3 1958.3,2272.2 1885.2,2215.5 1666.1,2182.2 1968.3,2179 1817.3,2108.6 1734.3,2214.9 1794.7,2214.1 1686.3,2235.5 1803.5,2171.4 1636.2,2103.2 2073.9,2218.4 1704.1,2128.3 1787.1,2221.6 1768.1,2217.9 1838,2106 1790.5,2107.7 2022.1,2206.8 1719.2,2237.1 2070.7,2203.7 1809.8,2246.2 2066.5,2188.5 1787.1,2216.2 1675.3,2232.6 1998.5,2214.9 1711.6,1937.8 1953.2,2179.7 2010.2,2182.3 1732.3,2243.2 1779.6,2155.8 1902.9,2260 2013.6,2235.6 2006,2199.7 1847.5,2013 1900.3,2234.9 1983.4,2181.7 1714.9,2206.7 2043.8,2271.1 2006,2177.3 1734.7,1950.9 1915.4,2158.6 1953.2,2239.7 1923.2,2210.4 1673.9,2155.4 1666.4,2234.7 1734.3,2182.9 1689,2220.6 1847.5,2200.3 1953.2,2226.1 1900.3,2200.7 2028.7,2193.4 1858.1,2232.5 1833.6,2081.2 1696.5,2237.5 2052.7,2187.4 1930.5,2046.7 2070.1,2118.9 2041.4,2219.5 1681.4,2155.5 1907.9,2240 1854.5,2177.1 1960.7,2244.9 1649.8,2095 1933.4,2185.6 1904.4,2231.2 1809.8,2146.6 1696.5,2217.7 1939,2193.1 1658.8,2226 1787.1,2223 1646.1,2121.8 1772,2026.4 1741.8,2049.3 1915.4,2132.8 1935.4,2194.6 1945.6,2152.3 1815.6,2201.8 1960.7,2209.8 1930.5,2214.7 1885.2,2140.7 1968.3,2189.9 2058.8,2259.2 1847.5,2181.6 2051.3,2132.5 1913.9,2171.3 1810,2224.9 1847.5,2196.8 1919.7,2203 1779.3,2132.7 2036.2,2179.2 1809.8,2209.8 1916.1,2146.2 2006,2268.2 1998.5,2268.5 1934.4,2159.9 1947.6,2268.3 1957.4,2097.7 1904.3,2187.8 1833.1,2190.5 2031.4,2132.7 1709.7,2002.2 1704.1,2184.4 1779.6,2166.9 1734.3,2234.3 2058.8,2256.3 1877.7,2250.5 2022.6,2122.2 1885.2,2219.6 1731.1,2062 2013.2,2251.6 2023.9,2244.5 1696.5,2179.2 1968.3,2143.8 1902,2240.1 1721.9,2216.1 1787,2228.8 1953.2,2065.5 1719.2,2166.7 1911.5,2178.2 1880.3,2232.9 1877.7,2209.7 1717.5,2228 1990.9,2017.2 1885.2,2210.5 1940.5,2271.9 1915.4,2252 1780.7,2272.5 1953.2,2256.7 1809.8,2264 2036.2,2146.4 1843.5,2216.1 1727.7,2246.6 1840,2028.4 1808.4,2222 2051.9,2093.8 1774,2209.9 2023.3,2210.8 1644.6,2147.1 1703.4,2057.6 1764.5,2195.7 1953.2,2091.1 1908.6,2239.6 1817.3,1992.2 1815.1,2175.2 1998.5,2203 1734.3,2202.4 1975.8,2193.9 1809.8,2159.6 1941.6,2193.9 1983.3,2258.3 1824.9,2028.3 1725.6,2222.5 1741.8,2232.9 1741.8,2237.4 1684.6,2140.5 1824.9,2233.6 1925.3,2218.3 1809.8,2073.6 2049.6,2162.2 2043.8,2213.2 1969.5,2247.5 1976.4,2212.1 1779.6,2164.6 1969.4,2246.7 1658.8,2223.9 1636.2,2146 1673.9,2204.6 1777.1,2082.8 1946.6,2255.7 1644.7,2214.8 1809.8,2233.6 1906.2,2187.5 2009.4,2238.5 1903.8,2142.6 1741.8,2027 1684.5,2191.2 1858,2174.9 1983.4,2232.1 1999.8,2138.7 1915.4,2238.9 1719.2,2198.6 1673.9,2158.7 1658.8,2233.8 1759.7,2147.3 1885.2,2211.7 1704.1,2169.7 1914.1,2220.7 1779.6,2246.3 1975.8,2169.5 1877.1,2191.4 1970.5,2199.4 1749.4,2211.8 1901.8,2171.6 2021,2229 1636.2,2174.7 2043.8,2099.7 1907.7,2220.4 2073.9,2191.7 1756.9,2214.3 1855.1,2182.3 1936.1,2215.5 1909.5,2155.8 1915.4,2230.3 2006,2225.7 1711.6,2054.4 1947.3,2196.3 1832.4,2052.1 2036.8,2219.7 2053.8,2252.2 1832.4,2201 1803,2172.4 2028.3,2220.4 2043.8,2259.9 1968.3,2264.5 2028.7,2082.4 2051.3,2244.1 1844.8,2171.4 1799.7,2132.7 1666.4,2125 1829.6,2286.4 1734.3,2255.4 1945.6,2256.1 1914.6,2172.1 2043.8,2234.7 1938.1,2254.8 1743.6,2157.6 1809.8,2151.7 1854.1,2200.1 1885.2,2255.1 2046.3,2198.6 1923,2242.7 1787.1,2206 1757,2180.9 1903,2194.9 1681.4,2203.3 1840,2205.7 2028.7,2178.1 2036.2,2208 1892.8,2278.8 1888,2237.5 1784.9,2197.3 1907.9,2139 1842.4,2224.9 1926.7,2232.6 2052.6,2191.9 1960.7,2249.7 1704.1,2150.7 1719.2,2223.6 1938.1,2197.5 2058.8,2198.2 1905.4,2182.9 1998.5,2142.3 1756.9,2206.6 1741.8,2229.5 2066.4,2214.1 2016.5,2040.6 1832.6,2125.8 1983.4,2246.8 1921.9,2252.2 1968.3,2216.8 1907.9,2257.2 1939.6,2254.5 2051.3,2146.2 1824.9,2126.5 1953.2,2148.1 2049.6,2099.3 1651,2263.6 1740.5,2184 1802.2,2226.7 1900.4,2135.7 1842.8,2241.4 2051.6,2190.8 1726.7,2132 1762.3,2124.4 1673.9,2050.3 1719.2,2066.7 1907.9,2196.6 1658.8,2251.1 2043.8,2190.2 1968.3,2099.6 1684.9,2096.9 1975,2271.2 1697.5,2233 1873.8,2162 1734.5,2155.5 1719.2,2184.4 1877.7,2193.9 2021.1,2241.8 1681.4,2154 1732.6,2035.3 1848.8,2194.3 2051.3,2266.8 1802.2,2227.9 2013.6,2181.3 1885.2,2168.4 1835.7,2232.1 1969.5,2241.7 1730.2,2180.5 1870.1,2184.6 1650.9,2176 1870.1,2200.8 2073.9,2214.8 1673.9,2222.4 1689,2261.5 1900.3,2251 2040.3,2228.5 1892.8,2154.3 2047.5,2246.5 1777.3,2004 2073.9,2220.7 1734.3,2229.1 1964.5,2161.9 1784.3,2105.2 1998.5,2103.9 1651.2,2122.8 1778.4,2158.4 2043.8,2226.5 1968.3,2196.9 1847.5,2180.5 1809.8,2228.5 2053.3,2189 1726.7,2260.7 1726.2,2223.7 1663.9,2210.7 1930.5,2201.4 2036.2,2187.2 1704.1,2165.5 1971.9,2191.1 1966.4,2258.7 1726.7,1976 1873.5,2223.7 1902,2116.9 1666.4,2170.6 2054.4,2205.2 1707.8,2203.4 1704.1,2192.9 1940.7,2261.8 1856.6,2217.3 1965.2,2016.8 1923,2163.3 1677.7,2217.8 1832.4,2218.1 2066.4,2233.7 1764.5,2203.4 1719.2,2088.4 2021.6,2184.1 1681.4,2216.2 1817.3,2270.8 2073.9,2098 2006,2138.9 1704.1,2192.2 1681.4,2165.2 1850.8,2218.7 1938.1,2234 1986.8,1984 1727.3,2272.2 1824.9,2212.7 1832.4,2173.1 1762.5,2160 1939.8,2203.1 1885.2,2213.8 1820.6,2178.5 1971.8,2249.4 1764.5,2241.5 1907.9,2167.7 1968.3,2238.9 1783.4,2148.8 1641.8,2096.7 1636.2,2064.9 1974.7,2131.1 1983.4,2247.8 1943.2,2201.9 1643.7,2186.3 1749.4,2115.3 2051.3,2225 1893.6,2104.4 1824.9,2188.1 2058.8,2125.6 2051.8,2206 1743.4,2185.1 1944,2247.2 1981.1,2224.5 2008.3,2096.3 2036.2,2105 1959.3,2276.9 1673.9,1933.2 1764.5,2044.1 1726.7,2225.3 1920.9,2157.8 1885.2,2139.6 2060.5,2281.7 1732,2199.8 1696.5,2180.3 1643.7,2196.6 1726.7,2248.9 2021.1,2216.5 1915.4,2171.4 1739.8,2165.9 1900,2246.5 1920.1,1989.7 1785.5,2241.3 1636.2,2217.7 1938.1,2175 1907.9,2226.5 1673.9,2217.1 1855.1,2224.7 1707.3,2196.9 1816.2,1957.9 1953.2,2219.9 1904.6,2227.9 1787.1,2244.4 1968.3,2196.2 1741.8,2154.5 1923,2239.7 1764.5,2216.9 1923,2183.5 1902.6,2229.7 1907.9,2238.1 2006,2168.8 1983.4,2122.8 2066.4,2228.6 1733.5,2266 2070,2191.5 1930.5,2260.5 1704.1,2019.5 1636.2,2168.3 1735.8,2150.1 1832.4,2182.6 1923,2139.8 2019.8,2170.8 2001.4,2186.4 2036.2,2200.7 2013.6,2262.8 2010.5,2172.9 2066.4,2226.2 1960.7,2193.4 1711.6,2122.3 1903,2238.9 1832.4,2233.7 1937.8,2155.7 1756.9,2227.9 2043.8,2233.2 1757.5,2216.3 1840,2161.2 1722.4,2207.4 2039.4,2203 2025,2122.2 2050.9,2184.1 1734.3,2161.4 1790.3,2199.2 2036.2,2229.5 2013.6,2262.1 1696.5,2201.8 1839.4,2123.9 1663.3,2015.9 1998.5,2234.1 2001.6,2209.3 2043.8,2186.2 1981.6,2193 1824.9,2218.2 1809.8,2274.7 1924.6,2226.2 1825.7,2229.9 2052.2,2227.9 1840,2208.4 1840,2231.9 2058.8,2203.5 1749.4,2226.1 1787.1,2253 1677.5,2166.8 2043.8,2217.1 1871.1,2179.4 1832.6,2132.2 2021.1,2263.1 2032.7,2224 1734.3,2246.9 1695.6,2178.6 2021.1,2259 2051.3,2284.1 1885.2,2113.6 1953.2,2250 1636.2,2216.4 1855.1,2180.3 1673.9,2126.6 1705.8,2183.8 1666.4,2210.1 1886.6,2044 1900,2218.8 1824.9,2238.1 1945.6,2195 1679.5,2222 1734.3,2175.4 1719.2,2234.8 1853.5,2177.5 1972.6,2264.8 1719.2,2183 2028.7,2175.1 1791.5,2186.9 1726.7,2195.3 1743.6,1972 1968.3,2206.2 1636.2,2225.3 1825.7,2197.4 1766.5,2094 1877.7,2224.8 1809.8,2260.8 1681.4,2207.2 1713.3,2245.7 2053.7,2226.4 1900.3,2261.5 2036.1,2112.4 2049.2,2217.1 1905.5,2168.6 2034.8,2212.8 1824.9,2149.9 1766.6,2210.7 1983.4,2229.5 1789.7,2238.3 1748.2,2224.8 1847.5,2148.6 1817.3,2133.3 2051.3,2236.8 2029.3,2264.9 1942.9,2154.4 2021.1,2247.5 1745.5,2229.2 1749.4,2210.2 1791,2133.2 1907.9,2186.1 1643.7,2204.1 1689,2252.5 1742.9,2193.7 1681.4,2104.5 1742.2,2185.8 1689,2145.1 1763,2190.5 1832.4,2211.6 1885.2,2194.4 1985.9,2209.2 1764.5,1947.7 1809.8,2184.9 2013.6,2213.7 1636.2,2185 1858.9,2185.9 1696.8,2172.1 1636.2,2123.7 2021.1,2163.2 1930.5,2190.4 1840,2267.6 1984.6,2158.7 2053.1,2198.4 1907.9,2098.6 1840.8,2274.7 1637.7,2128.2 2053.7,2278 1969,2204.4 1689,2206.2 1832.4,2140 1739.1,2266.8 2050.4,2171 1764.5,2257.9 1704.1,2214.6 2028.7,2238.2 1764.5,2159.5 1706.5,2213.9 1666.4,2181.9 1711.6,2226.4 1832.2,2222.7 1741.8,2230.8 1938.1,2184.5 2021.1,2238.3 1704.1,2236.7 1651.3,2142 1968.3,2186 1930.5,2088 2012.8,2214.7 1696.5,2136.7 1936.6,2233 1756.9,2124.5 1719.2,2070.9 1809.8,2085.8 2006,2267.9 1982.8,2253.1 1999.5,2272 1741.8,2117.6 1832.4,2110 1719.2,2210.9 1734.3,2233.4 1998.5,2236.4 1689,2233.2 2037.5,2237.6 2051.3,2244.4 1832.4,2152.4 1906.1,2030.3 2051.3,2219.8 1945.6,2157 1975.8,2096.8 1953.2,2106.3 1668.6,2199.6 1968.3,2178.2 1934.4,2111.8 1787.1,2113.2 1651.3,2068.2 1794.7,2226.7 1885.2,2200.9 1802.2,2136 1906.5,2212.4 1806.8,2007 1938.1,1964.2 2045,2244.8 1636.2,2217.1 1915.4,2207.3 1983.5,2190.7 1646.4,2096.9 1842.9,2037.1 1986.1,2238.8 1938.1,2208.8 1809.8,2142 1796.3,2222.2 1647.3,2149.5 1853.7,2253.9 1990.9,2189.3 1991.6,2214.3 1945.6,2180.2 1855.1,2244.9 1741.8,2229.5 1756.9,2220.7 1719.2,2249 1783.9,2264.6 1636.2,2238.4 1842.4,2166.1 1968.3,2218.5 1784.9,2181.7 2006,2213.7 1894.6,2065.1 1968.3,2227.8 2073.9,2220.6 1691,2131.1 1817.8,2192.4 1712.4,2174.3 1707.5,2157.3 1945.5,2244.9 1636.2,2240.2 1907.9,2231.8 2036.8,2157.8 1824.9,1934.2 1940.3,2248.1 1704.1,2167 1960.7,2273.1 1969.8,2215.1 1904.2,2184.8 2036.2,2207.1 1885.2,2252.3 1907.9,2221.5 1636.2,2041.3 1990.9,2202 1795.3,2227.7 1935.7,2196 1855.1,2235.8 1711.6,2214 1847.2,2214.7 2047.2,2215.5 1923,2221.4 1696.5,2154 1885.2,2255.7 2028.7,2253.9 1643.7,2119.7 1636.2,2210.7 1990.9,2217.2 1907.9,2226.5 1963.7,2229.6 1787.1,2244.2 1900.3,2199.7 1702.5,2193.8 1695,2233.8 1885.2,2200.4 2006,2143.5 1885.2,2268.1 1636.2,2115.9 1636.2,2218.2 1968.3,2226.2 1801.9,2181.9 1726,2139.2 1749.4,2184.9 2036.4,2183.2 1849,2252.4 1707.7,2246.3 1717.9,2239 1662.6,2208.1 2051.3,2251.3 1840,2245.8 1831.2,2153.9 1665.9,2198.9 1756.9,2249.3 1983.4,2127 2006.1,2130.2 1832.4,2117.5 1756.9,2272.8 2051.3,2258.2 1784.4,2244.3 1756.9,2185.6 1704.1,2155.7 1855.1,2171.9 1998.5,2238 1870.1,2130.1 1990.9,2039.8 1783.7,2190.3 1938.1,2132.7 1719,2185.3 1840,2278.9 1773.9,2226.1 1766.5,2213.5 1968.3,2176.5 1730.7,2135.1 1855.8,2227.9 1802.2,2241.7 2019.9,2246.8 1734.3,2201.6 1794.7,2212.8 1945.6,2202.6 1764.5,2124.6 1953.2,2250.5 2067.3,2073.5 1802.2,2216.2 1882.7,2112.1 1639.5,2184.8 1983.4,2176.1 1809.8,2230.7 1907.9,2148.3 1726.7,2195.2 1930.5,2257.9 1855.1,2215.5 2073.9,2248.3 2051.3,2179.9 1900.3,2229.3 1719.2,2134.4 1756.9,2145.8 1885.2,2167.7 1983.4,2232.9 2021.5,2141.4 2013.6,2215.9 1965.1,2216.1 1840,2127.4 1897.1,2224.6 1747.8,2101.3 1890.7,2150.1 1809.8,2157.3 1885.2,2206.7 1651.3,2216.4 1682.3,2161.2 1923,2249.9 1824.9,2181.8 1734.3,2234.3 2051.9,2139.7 1636.2,2179.4 2044.1,2151.1 2006,2248.9 1638.3,2186.6 2010.6,2237.2 1948.8,2215 1734.3,2243.1 1937.5,2146.4 2043.8,2245 1673.9,2158.8 1761.1,2159.5 1701,2078.5 2013.6,2176.3 1698.9,2256.6 1687.5,2227.4 1681.4,2243.2 1998.2,2256.1 1726.7,2239.2 2048.4,2172.9 1651.3,2141.3 1840,2182 1705.8,2239.5 1716.1,2217.9 1719.2,2151.1 1895.8,2188 1731.3,2242.5 1797.2,2189.1 2005.5,2206.9 1907.9,2086.6 1636.2,2201.8 1748.6,2278.1 1904.8,2184 1779.6,2113.6 1681.4,2254.1 1689,2123.2 1802.2,2110.6 1915.4,2192 1846.4,2224.5 1737.4,2188.1 1708.3,2205.7 1764.5,2175.6 2013.6,2127.3 1673.9,2172.8 1673.9,2212 1681.4,2135.5 1889.8,2215.3 1647.1,2251.2 1764.5,2175.1 1764.5,2018.2 1827.2,2215.9 1824.9,2183.6 1998.5,2258.6 1767.7,2198.5 1711.6,2206.4 1975.8,2194.1 1734.3,2188.7 1704.1,2198 1636.2,2123.2 2054.4,2237.8 1930.5,2245.6 1915.4,2126.8 1685,2146 1997.4,2244.5 1666.4,2240.7 1940.5,2249 1998.5,2009.8 1840,2150.1 1719.2,2171.6 2058.8,2170.5 1650,2143.6 1756.9,1929.1 1916.3,2164.6 1919.3,2171.5 1719.2,2203 1755.4,2123.4 1817.3,2171.1 2066.4,2201.4 2073.9,2284.2 1687.7,2197.3 2006,2243.6 1809.8,2147.3 1741.8,2264.9 1831.2,2225.2 1666.4,2237.3 1945.6,2202.9 1938.1,2194.1 1741.8,2163.3 1643.7,2214.6 1950.5,2219.8 2066.4,2256.6 1704.1,2176.6 2066.4,2238.8 1885.2,2115.4 1734.3,1978.7 1968.3,2261.1 1964.6,2209.1 1800.2,2247 1896.7,2248.8 1734.3,2180.3 1905.6,2173.8 1726.7,2205.4 1802.2,2137.2 1975.8,2204.2 1975.8,2230.9 1930.5,2068 2029.7,2177.9 1968.3,2203.8 1908.4,2151.4 1931.9,2146.8 1705.4,2196.6 1651.3,2100 1738.5,2254.6 1968.5,2252.4 2073.1,2204.5 1733.4,2246.2 2065.2,2103 1990.9,2209.6 1710.9,2115.2 1885.2,2195.4 1751.7,2215.1 1958.5,2215.8 1802.2,2134.3 1811,2209.9 1900.3,2268.7 1764.5,2079.5 1975.4,2222.6 1907.9,2215.2 1666.4,2197.2 1900.3,2242.5 1832.4,2279.2 2043.8,2235.1 2052.2,2239 1665.4,2175.9 1968.3,2199.1 1918.1,2223.8 1856.2,2234.4 1696.3,2041.7 2017.4,2186.9 1919.5,2204.9 1915.4,2256.6 2051.3,2237.2 1696.5,2188.2 1809.8,2243.6 1651.3,2225.7 1754.8,2239.2 2073.9,2225.8 1811.5,2179.1 1989.2,2217.6 2007.8,2223.2 1885.2,2182.2 1998.5,2161.1 1734.3,2281.8 1672.6,2236.3 1726.7,2208.5 1682.3,2170.1 1686.4,2270.2 1658.8,2211.4 1671.3,2091.6 1696.5,2193.5 1885.2,2196.2 1768.1,2132.6 2073.9,2180.2 1915.4,2235.9 2043.8,2204.4 1953.2,2238.8 2026.1,2185.8 2051.3,2174.8 1809.8,2130.8 1732.8,2168.9 1671,2276 2051.3,2217.9 1734.3,2231.7 2064.2,2173.9 1955.2,2134.5 1981.7,2192.8 1651.3,2213.1 2036.2,2188 1681.4,2130.5 1986.3,2134 1651.3,2107.5 2051.3,2223.4 1666.4,2175.6 1711.6,2188.4 1828.7,2110.7 1720.2,2251.8 1696.5,2252.9 1802.2,2118.2 1664.5,2103.2 1900.3,2161.2 1956.1,2212.8 1855.1,2134.7 1900.3,2206.2 1741.8,2223.7 1846.4,2158.8 1914,2248.4 2043.8,2195.2 1870.1,2213.2 2065.4,2208.7 1806.7,2043.2 1911,2255.5 1956.4,2189 1689,2095.8 1998.5,2156.3 2000,2187.6 1696.5,2231.4 1923,2107.2 1817.3,2217.5 1719.2,2005.8 1734.3,2192.1 1704.1,2115.1 2043.8,2159.2 1990.9,2230.1 1953.3,2209.5 1718.4,2103.4 1953.2,2224.7 1756.9,2136.5 1862.6,2212.4 1643.7,2140.8 2036.2,2202.7 1794.7,2180.6 1938.1,2113.4 1696.5,2230.1 1726.7,2234.9 1968.3,2268.2 1938.1,1863.7 1907.9,2222.8 1809.8,2114.5 1923,2219.2 2032.3,2231.8 1991,2240.9 1977.5,2033.7 1831.8,2233.8 1832.4,2240.9 2028.7,2189.5 1759.6,2154.4 1877.7,2179.6 1734.4,2237.2 1832.4,2193 1734.3,2132.5 2013.2,2239 2026.8,2096.6 1801,2220.9 1975.8,2181.3 1980.9,2197.3 2013.6,2223.9 1953.1,2138.7 1737.8,2249.9 1925.2,2207.4 1758.2,2244.6 1847.5,2173 1667.7,2259.2 1636.2,2138.8 2036.2,2237 1839.5,2136.7 1853.1,2218.2 1923,2083.6 1641.2,2197.9 1923,2219.9 1948,2231.3 1666.4,2209.8 1983.4,2259.7 1855.1,2191.3 1862.6,2263.2 1779.6,2201.2 1668.9,2215 1727.6,2211.1 1726.7,2231.6 1975.1,2222.6 1915.4,2211.2 2051.3,2205.2 1716.7,2074.7 1975.8,2223.8 1938.1,2162.3 1836.3,2142.2 1942.3,2157.2 1720.2,2202.7 1952.3,2041.6 1755.8,2252.3 1886.8,2228.6 1930.5,2188.4 1734.3,2224.7 2051.3,2206.2 1699.3,2147.1 2028.7,2214.1 2051.3,2226.8 1983.4,2182.4 1833.2,2216.5 1977.7,2232.7 1924,2264.7 2073.9,2180.6 1938.1,2076.6 1696.5,2236.2 1885.2,2230.4 1673.9,2085 1870.1,2250.5 1696.5,2235.7 1847.5,2171.3 1975.8,2207.1 1643.1,2143.4 1794.7,2253.1 1666.4,2135.8 1779.6,2227.6 1809.8,2117.2 1636.2,2128.1 1779.6,2221.3 1938.1,2133.6 1837.7,2210.3 1700,2236.3 1819.6,2218.9 1636.2,2246 1704.4,2203.5 1824.9,2240.3 1713.5,2103.7 1885.2,2244.9 1695.2,2093.6 1968.9,2164.3 2000,2264.9 1995.9,2216 1968.3,2220 1907.9,2230.7 2015.3,2219.6 1693.8,1997.1 1650,2196.3 1787.1,2246.1 2058.8,2248.1 1840.1,2223.8 1892.8,1997.1 1749.4,2218.5 1892.8,2097.2 1968.3,2259.6 1900.3,2225.5 1651.3,2208.7 1801.4,2218.8 1807.6,2182.1 1696.5,2164.4 1651.8,2197.1 1938.1,2255.8 1636.2,2175.4 1756.9,2196.7 1915.4,2165.9 1975.8,2244.7 1756.9,2098.2 1673.9,2169.5 2033.8,2256.3 1930.5,2156.5 1964.8,2247.1 1934.8,2236.2 1938.1,2219.9 1673.9,2171.7 1704.1,1954.2 2021.2,2222.2 1764.5,2162.1 1915.4,2178.9 1945.6,2218.6 1870,2258.3 1667.5,2186.4 1900.3,2270.6 1847.5,2178.8 1764.5,2252.9 1832.4,2182.3 1899,2135.1 1649.1,2223.7 1809.8,2160.7 1730.3,2106 1852.8,2245 1721.6,2267.6 1824.9,2227.7 1840,2184.1 1710.7,2237.8 1741.8,2194 1896.6,2191.6 1915.2,2161.7 2036.2,2139.7 1916.7,2182.7 1900.3,2238.9 2069.1,2227.5 2066.4,2266.4 1869.1,2160.8 1846.7,2016.1 2051.3,2259.8 1802.2,2164.8 1989.8,2167.5 1719.2,1818 1719.2,1996 1764.5,2213.9 1854.4,2131.2 1809.8,2145.9 1734.3,2259.5 1681.4,2179 1673.9,2201.9 2027.6,2090.1 1975.9,2218.3 1975.8,2180.8 1923,2094.9 1899,2134.7 1840,2249 1938.1,2205.9 1823.7,2175.5 2013.9,2181 1735.5,2204.7 1840,2132.3 1968.3,2237.3 1900.3,2222.3 1962.8,2101.3 1953.2,2218.8 1810.1,2252.1 1827.4,2087.9 1667.8,2244.1 1810.6,2228.6 2051.3,2199.5 1673.9,2129.5 2036.2,2166.6 2003.1,2146.7 1968.3,2158.9 1711.6,2149.6 2006,2205.5 2066.4,2225.6 1787.1,2221.1 1704.1,1949.8 1711.6,2124.1 1749.4,2174.6 1746.2,2100 1673.9,2149.6 1730.6,2149.6 1802.2,2180.1 1960.7,2170.2 2073.9,2203.3 1636.2,2242 2036.1,2196.7 2028.7,2174.4 2064.3,2209.7 1855.1,2209.8 1810.3,2181.9 1731.1,2191.9 1764.4,2240.9 1747.4,2193.9 1749.4,2226.8 1823.6,2248 1673.9,2159.1 1704.1,2171.2 1834.6,2139 1640.1,2199.4 1998.5,2182.4 1947.3,2197.5 1741.8,2152.8 1968.3,2239.1 2058.8,2156.9 1974.3,2235.8 1764.5,2265.4 1911,2205.4 1944.5,2258.8 2007.7,2148.6 1815.8,2247.2 1749.4,2187.1 1817.3,2258.9 1651.3,2159.7 2006.2,2109.9 1930.5,2219.6 1876.1,2115.7 1885.2,2208.7 2050.8,2252.9 1648.2,2200.5 2039.4,2242.9 1764.5,2153.5 1856.2,2165.8 1832.4,2058.5 1779.6,2230.8 1809.1,2202.2 1896.6,2228.5 1779.6,2230.9 1734,2208.5 1636.2,2146.7 1787.1,2151.9 1870.1,2127.9 1658.8,2203.7 1658.8,2194.5 2013.6,2228.1 1636.2,2286.8 1681.5,2186.5 1796.2,2192.8 1938.1,2228.7 1930.5,2194.8 1885.2,2126.8 1824.9,2248 1807.6,2172.9 1653.2,2219 1945.2,2212.8 2003.7,2218.2 2073.9,2224.9 1755.3,2070.1 1833,2203.8 1750.1,2205.8 1945.6,2248.1 1947.8,2082.8 1719.2,2160.4 1734.3,2189.4 2036.2,2244.3 1907.9,2218.8 1719.2,2047.4 1802.2,2234.6 1825.5,2240 1947.3,2106.2 1990.9,2247.2 1980.7,2166.6 1696.5,2005.2 1673.9,2242.1 1923.9,2244.3 1938.1,2115.6 1680.2,2078.9 1870.1,2021.8 1983,2193.5 1962.9,2195.8 2004.9,2251.9 1885.2,2213.6 1832,2199.1 1918.9,2186.3 1945.6,2240.8 1741.8,2203.8 1953.2,2141 1802.1,2064.4 2073.9,2180.3 1747,2133.7 1969.1,2093.8 2006,2271.2 1968.8,2050.1 1920.9,2204.1 2009.9,2265 1658.8,2164.5 1802.2,2147 2058.8,2235.8 1870.1,2112.4 1791.7,2131.5 1741.8,1948.8 1765.8,2194.5 1637.1,2183 1945.6,2226.2 1643.7,2234.2 1953.2,2183.4 1651.3,1957.8 1704.1,2219.7 1833.5,2234.1 1673.9,2177.5 1660.3,2220.8 2058.8,2184.9 2048.6,2222.5 1919.6,2226.1 1946.8,2228.2 1704.1,2185.2 1651.3,2061.6 1741.8,2264 1855.1,2034.8 1971.5,2185.8 1840,2085.6 1802.2,2132.8 1673.9,2145.5 1711.6,2229.5 1824.9,2235 1760.5,2137.3 1823.6,2161.5 1915.4,2020.8 1756.9,2286.2 2051.3,2237.2 1885.2,2279.9 2049.5,2056.1 1847.5,2230.9 1900.3,2257.6 2073.5,2178 1809.8,2147.9 1945.6,2253.8 1966.6,2237.1 1734.3,2203.4 1809.8,2074.7 1802.2,2232 1698.9,2193 1762.7,2123.3 1756.9,2186.6 1976.1,2225.3 2056.8,2208.8 1639.6,2076.5 1923,2204.8 1923,2138.5 1756.9,2238.1 1990.9,2222.9 1809.8,2227.3 1672.5,2110.7 1666.4,2238.9 1938.1,2264.1 2051.8,2189.9 1892.8,2126.4 2051.4,2040.1 1731.9,2256.9 1734.3,2246.9 2008,2124.1 1785.4,2154.1 1938.1,2226.7 1907.9,2188.2 1817.3,2116.7 1942.2,2170.4 1937.8,2266.7 2066.4,2214.9 2021.1,2201.1 1946.1,2130.9 1793.5,2102.8 1913.2,2196.6 1749.4,2157.5 2043.8,2228.4 1923,2240.9 1722.8,2176.8 1981.6,2259.4 1968.3,2273.1 2049.1,2260.4 2073.9,2182.8 1858.2,2195.5 1704.1,2196 1705,2058.6 1636.2,2161.6 1711.6,2208 1953.2,2124.1 1636.2,2186.4 1834.6,2259.9 1930.8,2232.9 1726.7,2219.8 1918.6,2189.9 1933.9,2211.4 1886.4,2172.3 1643.7,2186.3 1915.4,2217.4 1689,2207.8 1654,2197.5 2004.3,2228.1 2006,2261.1 2036.2,2244.6 1689,2153.8 1779.1,2244 1726.7,2084.6 1787.3,2174 1704.1,2200.4 1885.2,2260.4 1983.5,2217.8 2051.3,2227.8 1979.9,2179.2 1844.3,2115.2 1803.7,2125.4 1787.1,2148.3 1915.4,2145.8 1938.1,2065.2 1802.2,2150.2 1911.8,2165.9 1703,2218.1 1666.4,2180.9 1975.8,2174.1 1719.2,2257.6 2017.1,2057 2048.2,2218.8 1726.7,2145.3 1758.1,2270.5 1900.3,2196 1763.9,2242.9 1666.4,2193.4 1885.2,2248 1704.1,2239.3 1885.2,2263 1719.2,2092.8 1923,2236.4 1983.4,2251.3 1704.1,2253.6 2043.8,2219.8 1934.8,2086.9 1927.3,2209.9 1923,2242.5 1756.9,2201.4 1673.9,2223.7 1938.1,2217.7 1808.5,2232.5 2021.1,2114.8 1731.9,1975.4 1953.2,2224.1 1953.2,2244.9 1947.3,2194.8 1915.4,2198.2 1756.9,2123 2053.8,2235.7 1765.7,2203.9 1764.5,2194 2006.4,2217.4 2043.8,2191.4 1832.4,2168.9 1643.7,2156.9 1899.7,2265.6 2013.6,2180.2" fill="none" stroke="none" marker-start="url(#mb)" marker-mid="url(#mb)" marker-end="url(#mb)"/>
<path d="M1638 2184.3C1653.2 2184.4 1698.8 2184.6 1729.4 2184.8C1760.1 2185 1794.9 2184.4 1821.9 2185.6C1848.9 2186.8 1864.5 2189.1 1891.2 2192.1C1917.9 2195.1 1951.7 2199.9 1982 2203.8C2012.3 2207.7 2057.8 2213.5 2072.9 2215.4" stroke="#000" stroke-width="7.2" stroke-dasharray="7.2 15.7" fill="none"/>
<path d="M1614.4 1763.5V2334.2H2105.1M1673.9 2334.2v16M1862.6 2334.2v16M2051.3 2334.2v16M1614.4 2334h-16M1614.4 2226.2h-16M1614.4 2118.3h-16M1614.4 2010.5h-16M1614.4 1902.6h-16M1614.4 1794.8h-16" stroke="#000" stroke-width="3.4" fill="none"/>
<text x="1673.9" y="2397.8" text-anchor="middle">25</text>
<text x="1862.6" y="2397.8" text-anchor="middle">50</text>
<text x="2051.3" y="2397.8" text-anchor="middle">75</text>
<text x="1579.5" y="2349.6" text-anchor="end">0.0</text>
<text x="1579.5" y="2241.8" text-anchor="end">0.5</text>
<text x="1579.5" y="2133.9" text-anchor="end">1.0</text>
<text x="1579.5" y="2026" text-anchor="end">1.5</text>
<text x="1579.5" y="1918.2" text-anchor="end">2.0</text>
<text x="1579.5" y="1810.3" text-anchor="end">2.5</text>
<text x="1859.8" y="2456" text-anchor="middle">Age</text>
<text transform="translate(1487 2048.8) rotate(-90)" text-anchor="middle">AAD (°C)</text>
<text x="1858" y="1739" text-anchor="middle" font-size="51.7">Female 18hr Coarsing</text>
<g opacity=".5"><path d="M209.6 1714.5C207.9 1698.9 199.4 1644.8 199.2 1620.8C199 1596.8 200.6 1584.6 208.6 1570.6C216.6 1556.6 234.4 1545.9 247 1537C259.6 1528.1 273.7 1521.7 283.9 1517C294.1 1512.3 304 1510.3 308 1509" stroke="#000" stroke-width="13.2" fill="none"/><path d="M302.3 1491L352.5 1507.7L307.3 1537Z" fill="#000"/></g>
<g opacity=".5"><path d="M1183.5 1684.2C1175 1682.2 1146.8 1677.5 1132.4 1671.9C1118 1666.3 1108.8 1660.1 1097.1 1650.7C1085.3 1641.3 1073.6 1630.2 1061.9 1615.5C1050.2 1600.8 1037.3 1581.4 1026.7 1562.6C1016.1 1543.8 1006.1 1522.7 998.5 1502.7C990.9 1482.7 985.2 1461.6 980.8 1442.8C976.4 1424 974 1407.6 972 1390C970 1372.4 969.7 1354.7 968.5 1337.1C967.3 1319.5 967.4 1301.9 965 1284.3C962.6 1266.7 959.4 1249 954.4 1231.4C949.4 1213.8 942.3 1195 935 1178.6C927.7 1162.2 919.2 1146.6 910.4 1132.8C901.6 1119 889.6 1104.4 882.2 1095.8C874.8 1087.2 868.7 1083.5 866 1081" stroke="#000" stroke-width="13.2" fill="none"/><path d="M880.4 1060.5L827.6 1065.1L859.3 1104.6Z" fill="#000"/></g>
<g opacity=".5"><path d="M1570 1715.9C1563.5 1713.1 1543.1 1706.6 1531 1699.2C1518.9 1691.8 1507.7 1682.5 1497.5 1671.3C1487.3 1660.1 1477.5 1645.7 1469.6 1632.2C1461.7 1618.7 1455.4 1604.3 1450.1 1590.4C1444.8 1576.5 1440.4 1562.5 1437.6 1548.6C1434.8 1534.6 1434.3 1520.7 1433.4 1506.7C1432.5 1492.8 1432.9 1478.8 1432 1464.9C1431.1 1451 1429.9 1437 1427.8 1423.1C1425.7 1409.2 1423.1 1395.2 1419.4 1381.3C1415.7 1367.3 1410.6 1351.5 1405.5 1339.4C1400.4 1327.3 1393 1315.9 1388.8 1308.8C1384.5 1301.7 1381.5 1299 1380 1297" stroke="#000" stroke-width="13.2" fill="none"/><path d="M1397.1 1281.4L1344.7 1273.1L1368.7 1318.5Z" fill="#000"/></g>
</g></svg>
</div></body></html>
